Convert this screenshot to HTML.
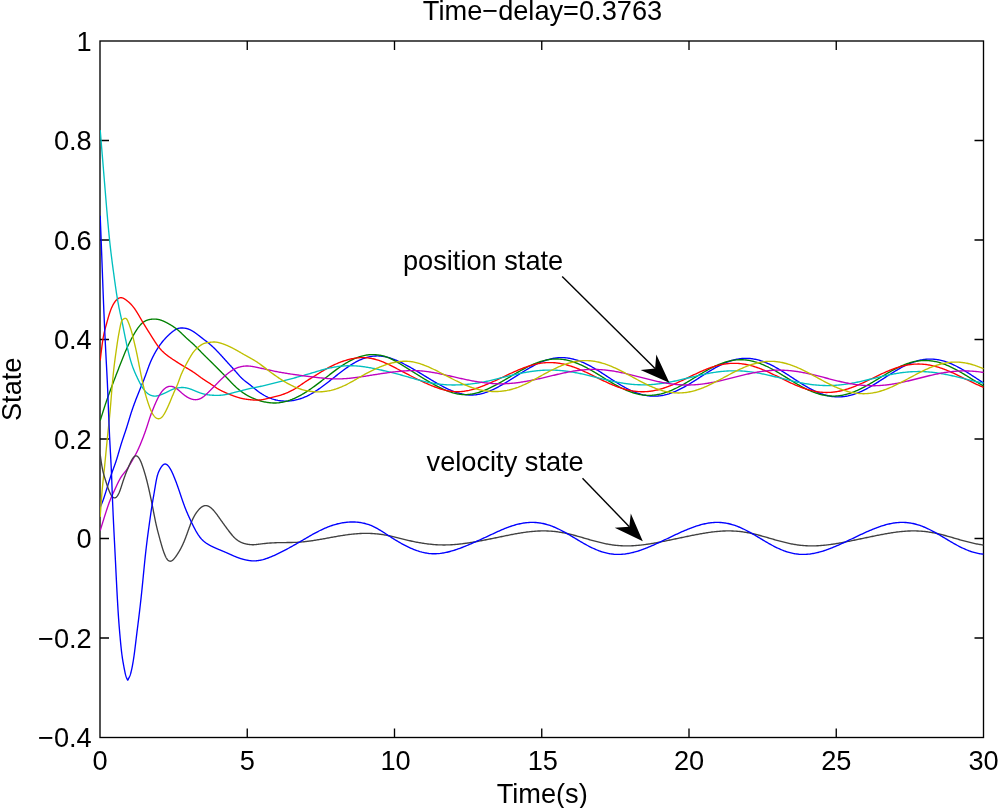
<!DOCTYPE html>
<html><head><meta charset="utf-8"><title>Time-delay=0.3763</title>
<style>
html,body{margin:0;padding:0;background:#fff;}
body{width:998px;height:808px;overflow:hidden;}
svg{display:block;will-change:transform;}
text{font-family:"Liberation Sans",sans-serif;font-size:27.2px;fill:#000;}
.c{fill:none;stroke-width:1.35;stroke-linejoin:round;stroke-linecap:butt;}
.ax{stroke:#000;stroke-width:1.35;fill:none;}
</style></head><body>
<svg width="998" height="808" viewBox="0 0 998 808">
<rect x="0" y="0" width="998" height="808" fill="#fff"/>
<rect class="ax" x="100.00" y="41.00" width="883.50" height="696.50"/>
<path class="ax" d="M247.25 737.50v-9.0M247.25 41.00v9.0M394.50 737.50v-9.0M394.50 41.00v9.0M541.75 737.50v-9.0M541.75 41.00v9.0M689.00 737.50v-9.0M689.00 41.00v9.0M836.25 737.50v-9.0M836.25 41.00v9.0M100.00 140.50h9.0M983.50 140.50h-9.0M100.00 240.00h9.0M983.50 240.00h-9.0M100.00 339.50h9.0M983.50 339.50h-9.0M100.00 439.00h9.0M983.50 439.00h-9.0M100.00 538.50h9.0M983.50 538.50h-9.0M100.00 638.00h9.0M983.50 638.00h-9.0"/>
<clipPath id="cp"><rect x="100.0" y="41.0" width="884.2" height="696.5"/></clipPath>
<g clip-path="url(#cp)">
<path class="c" stroke="#0000ff" d="M100.20 507.00L100.40 506.59L100.60 506.17L100.80 505.76L101.00 505.33L101.20 504.90L101.40 504.46L101.60 504.00L101.80 503.53L102.00 503.05L102.20 502.55L102.40 502.04L102.60 501.52L102.80 500.99L103.00 500.45L103.20 499.89L103.40 499.33L103.60 498.75L103.80 498.17L104.00 497.58L104.20 496.99L104.40 496.38L104.60 495.77L104.80 495.15L105.00 494.53L105.20 493.90L105.40 493.27L105.60 492.64L105.80 492.00L106.00 491.36L106.20 490.72L106.40 490.07L106.60 489.43L106.80 488.78L107.00 488.13L107.20 487.48L107.40 486.83L107.60 486.19L107.80 485.54L108.00 484.89L108.20 484.24L108.40 483.60L108.60 482.95L108.80 482.31L109.00 481.67L109.20 481.03L109.40 480.40L109.60 479.77L109.80 479.14L110.00 478.52L110.20 477.90L110.40 477.28L110.60 476.67L110.80 476.07L111.00 475.47L111.20 474.87L111.40 474.28L111.60 473.70L111.80 473.12L112.00 472.55L112.20 471.99L112.40 471.43L112.60 470.87L112.80 470.32L113.00 469.77L113.20 469.22L113.40 468.67L113.60 468.13L113.80 467.58L114.00 467.03L114.20 466.48L114.40 465.92L114.60 465.37L114.80 464.81L115.00 464.24L115.20 463.67L115.40 463.10L115.60 462.51L115.80 461.92L116.00 461.32L116.20 460.72L116.40 460.10L116.60 459.47L116.80 458.84L117.00 458.19L117.20 457.54L117.40 456.88L117.60 456.21L117.80 455.54L118.00 454.86L118.20 454.18L118.40 453.50L118.60 452.81L118.80 452.12L119.00 451.44L119.20 450.75L119.40 450.06L119.60 449.37L119.80 448.68L120.00 448.00L120.20 447.32L120.40 446.64L120.60 445.97L120.80 445.31L121.00 444.65L121.20 444.00L121.40 443.36L121.60 442.72L121.80 442.09L122.00 441.47L122.20 440.86L122.40 440.25L122.60 439.64L122.80 439.04L123.00 438.44L123.20 437.85L123.40 437.26L123.60 436.67L123.80 436.08L124.00 435.49L124.20 434.90L124.40 434.32L124.60 433.73L124.80 433.14L125.00 432.55L125.20 431.95L125.40 431.36L125.60 430.76L125.80 430.15L126.00 429.55L126.20 428.93L126.40 428.31L126.60 427.69L126.80 427.05L127.00 426.42L127.20 425.77L127.40 425.13L127.60 424.48L127.80 423.82L128.00 423.16L128.20 422.51L128.40 421.84L128.60 421.18L128.80 420.52L129.00 419.86L129.20 419.20L129.40 418.54L129.60 417.88L129.80 417.23L130.00 416.58L130.20 415.93L130.40 415.29L130.60 414.65L130.80 414.01L131.00 413.39L131.20 412.77L131.40 412.15L131.60 411.55L131.80 410.94L132.00 410.35L132.20 409.76L132.40 409.17L132.60 408.59L132.80 408.01L133.00 407.44L133.20 406.88L133.40 406.31L133.60 405.76L133.80 405.20L134.00 404.65L134.20 404.10L134.40 403.56L134.60 403.02L134.80 402.48L135.00 401.95L135.20 401.42L135.40 400.89L135.60 400.36L135.80 399.84L136.00 399.32L136.20 398.79L136.40 398.28L136.60 397.76L136.80 397.24L137.00 396.73L137.20 396.22L137.40 395.71L137.60 395.20L137.80 394.70L138.00 394.19L138.20 393.69L138.40 393.19L138.60 392.69L138.80 392.19L139.00 391.69L139.20 391.19L139.40 390.70L139.60 390.21L139.80 389.71L140.00 389.22L140.20 388.73L140.40 388.24L140.60 387.76L140.80 387.27L141.00 386.78L141.20 386.30L141.40 385.81L141.60 385.33L141.80 384.84L142.00 384.35L142.20 383.87L142.40 383.38L142.60 382.89L142.80 382.40L143.00 381.90L143.20 381.41L143.40 380.91L143.60 380.41L143.80 379.90L144.00 379.39L144.20 378.88L144.40 378.37L144.60 377.85L144.80 377.33L145.00 376.80L145.20 376.27L145.40 375.73L145.60 375.19L145.80 374.64L146.00 374.09L146.20 373.54L146.40 372.98L146.60 372.43L146.80 371.87L147.00 371.31L147.20 370.75L147.40 370.19L147.60 369.63L147.80 369.08L148.00 368.52L148.20 367.97L148.40 367.43L148.60 366.88L148.80 366.35L149.00 365.81L149.20 365.29L149.40 364.77L149.60 364.25L149.80 363.75L150.00 363.25L150.20 362.76L150.40 362.28L150.60 361.81L150.80 361.34L151.00 360.88L151.20 360.43L151.40 359.98L151.60 359.54L151.80 359.11L152.00 358.68L152.20 358.26L152.40 357.84L152.60 357.43L152.80 357.02L153.00 356.62L153.20 356.23L153.40 355.84L153.60 355.45L153.80 355.07L154.00 354.69L154.20 354.31L154.40 353.94L154.60 353.57L154.80 353.21L155.00 352.85L155.20 352.49L155.40 352.14L155.60 351.79L155.80 351.44L156.00 351.10L156.20 350.76L156.40 350.43L156.60 350.09L156.80 349.76L157.00 349.44L157.20 349.11L157.40 348.80L157.60 348.48L157.80 348.17L158.00 347.86L158.20 347.55L158.40 347.25L158.60 346.95L158.80 346.65L159.00 346.35L159.20 346.06L159.40 345.77L159.60 345.49L159.80 345.20L160.00 344.92L160.20 344.65L160.40 344.37L160.60 344.10L160.80 343.83L161.00 343.57L161.20 343.30L161.40 343.04L161.60 342.78L161.80 342.53L162.00 342.27L162.20 342.02L162.40 341.77L162.60 341.53L162.80 341.28L163.00 341.04L163.20 340.80L163.40 340.57L163.60 340.33L163.80 340.10L164.00 339.87L164.20 339.64L164.40 339.41L164.60 339.19L164.80 338.97L165.00 338.74L165.20 338.53L165.40 338.31L165.60 338.09L165.80 337.88L166.00 337.67L166.20 337.46L166.40 337.25L166.60 337.05L166.80 336.84L167.00 336.64L167.20 336.44L167.40 336.24L167.60 336.04L167.80 335.85L168.00 335.65L168.20 335.46L168.40 335.27L168.60 335.08L168.80 334.89L169.00 334.70L169.20 334.52L169.40 334.33L169.60 334.15L169.80 333.97L170.00 333.79L170.20 333.61L170.40 333.43L170.60 333.26L170.80 333.08L171.00 332.91L171.20 332.74L171.40 332.57L171.60 332.40L171.80 332.24L172.00 332.07L172.20 331.91L172.40 331.75L172.60 331.60L172.80 331.44L173.00 331.29L173.20 331.14L173.40 330.99L173.60 330.85L173.80 330.70L174.00 330.57L174.20 330.43L174.40 330.30L174.60 330.17L174.80 330.04L175.00 329.91L175.20 329.79L175.40 329.68L175.60 329.56L175.80 329.45L176.00 329.35L176.20 329.24L176.40 329.15L176.60 329.05L176.80 328.96L177.00 328.87L177.20 328.79L177.40 328.71L177.60 328.64L177.80 328.57L178.00 328.50L178.20 328.44L178.40 328.38L178.60 328.33L178.80 328.28L179.00 328.24L179.20 328.20L179.40 328.16L179.60 328.13L179.80 328.10L180.00 328.07L180.20 328.05L180.40 328.03L180.60 328.01L180.80 328.00L181.00 327.99L181.20 327.98L181.40 327.98L181.60 327.97L181.80 327.97L182.00 327.97L182.20 327.98L182.40 327.98L182.60 327.99L182.80 328.00L183.00 328.01L183.20 328.02L183.40 328.04L183.60 328.05L183.80 328.07L184.00 328.09L184.20 328.11L184.40 328.13L184.60 328.16L184.80 328.18L185.00 328.21L185.20 328.24L185.40 328.28L185.60 328.31L185.80 328.35L186.00 328.39L186.20 328.43L186.40 328.48L186.60 328.52L186.80 328.57L187.00 328.63L187.20 328.68L187.40 328.74L187.60 328.80L187.80 328.86L188.00 328.93L188.20 329.00L188.40 329.07L188.60 329.14L188.80 329.22L189.00 329.30L189.20 329.38L189.40 329.47L189.60 329.55L189.80 329.64L190.00 329.73L190.20 329.83L190.40 329.92L190.60 330.02L190.80 330.12L191.00 330.22L191.20 330.33L191.40 330.44L191.60 330.54L191.80 330.66L192.00 330.77L192.20 330.88L192.40 331.00L192.60 331.12L192.80 331.24L193.00 331.36L193.20 331.49L193.40 331.61L193.60 331.74L193.80 331.87L194.00 332.00L194.20 332.13L194.40 332.27L194.60 332.40L194.80 332.54L195.00 332.68L195.20 332.82L195.40 332.96L195.60 333.10L195.80 333.24L196.00 333.39L196.20 333.53L196.40 333.68L196.60 333.83L196.80 333.97L197.00 334.12L197.20 334.27L197.40 334.42L197.60 334.58L197.80 334.73L198.00 334.88L198.20 335.04L198.40 335.19L198.60 335.34L198.80 335.50L199.00 335.65L199.20 335.81L199.40 335.97L199.60 336.12L199.80 336.28L200.00 336.44L200.20 336.59L200.40 336.75L200.60 336.91L200.80 337.06L201.00 337.22L201.20 337.38L201.40 337.53L201.60 337.69L201.80 337.84L202.00 338.00L202.20 338.16L202.40 338.31L202.60 338.46L202.80 338.62L203.00 338.77L203.20 338.93L203.40 339.08L203.60 339.23L203.80 339.39L204.00 339.54L204.20 339.69L204.40 339.85L204.60 340.00L204.80 340.15L205.00 340.31L205.20 340.46L205.40 340.62L205.60 340.77L205.80 340.93L206.00 341.08L206.20 341.24L206.40 341.39L206.60 341.55L206.80 341.71L207.00 341.86L207.20 342.02L207.40 342.18L207.60 342.34L207.80 342.50L208.00 342.66L208.20 342.82L208.40 342.98L208.60 343.15L208.80 343.31L209.00 343.47L209.20 343.64L209.40 343.81L209.60 343.98L209.80 344.14L210.00 344.31L210.20 344.49L210.40 344.66L210.60 344.83L210.80 345.01L211.00 345.18L211.20 345.36L211.40 345.54L211.60 345.72L211.80 345.90L212.00 346.08L212.20 346.26L212.40 346.44L212.60 346.63L212.80 346.82L213.00 347.00L213.20 347.19L213.40 347.38L213.60 347.57L213.80 347.76L214.00 347.95L214.20 348.15L214.40 348.34L214.60 348.53L214.80 348.73L215.00 348.93L215.20 349.13L215.40 349.32L215.60 349.52L215.80 349.73L216.00 349.93L216.20 350.13L216.40 350.33L216.60 350.54L216.80 350.74L217.00 350.95L217.20 351.16L217.40 351.36L217.60 351.57L217.80 351.78L218.00 351.99L218.20 352.21L218.40 352.42L218.60 352.63L218.80 352.85L219.00 353.06L219.20 353.28L219.40 353.49L219.60 353.71L219.80 353.92L220.00 354.14L220.20 354.36L220.40 354.58L220.60 354.80L220.80 355.02L221.00 355.24L221.20 355.46L221.40 355.68L221.60 355.90L221.80 356.12L222.00 356.35L222.20 356.57L222.40 356.79L222.60 357.01L222.80 357.23L223.00 357.46L223.20 357.68L223.40 357.90L223.60 358.13L223.80 358.35L224.00 358.57L224.20 358.79L224.40 359.02L224.60 359.24L224.80 359.46L225.00 359.68L225.20 359.91L225.40 360.13L225.60 360.35L225.80 360.57L226.00 360.79L226.20 361.01L226.40 361.23L226.60 361.45L226.80 361.67L227.00 361.89L227.20 362.11L227.40 362.32L227.60 362.54L227.80 362.76L228.00 362.98L228.20 363.20L228.40 363.41L228.60 363.63L228.80 363.85L229.00 364.07L229.20 364.28L229.40 364.50L229.60 364.72L229.80 364.94L230.00 365.15L230.20 365.37L230.40 365.59L230.60 365.81L230.80 366.03L231.00 366.25L231.20 366.47L231.40 366.68L231.60 366.90L231.80 367.13L232.00 367.35L232.20 367.57L232.40 367.79L232.60 368.01L232.80 368.23L233.00 368.46L233.20 368.68L233.40 368.91L233.60 369.13L233.80 369.36L234.00 369.59L234.20 369.81L234.40 370.04L234.60 370.27L234.80 370.50L235.00 370.73L235.20 370.96L235.40 371.19L235.60 371.42L235.80 371.66L236.00 371.89L236.20 372.12L236.40 372.35L236.60 372.58L236.80 372.81L237.00 373.04L237.20 373.27L237.40 373.50L237.60 373.73L237.80 373.95L238.00 374.18L238.20 374.41L238.40 374.63L238.60 374.86L238.80 375.08L239.00 375.30L239.20 375.52L239.40 375.74L239.60 375.95L239.80 376.17L240.00 376.38L240.20 376.60L240.40 376.81L240.60 377.01L240.80 377.22L241.00 377.42L241.20 377.62L241.40 377.82L241.60 378.02L241.80 378.21L242.00 378.41L242.20 378.59L242.40 378.78L242.60 378.96L242.80 379.15L243.00 379.32L243.20 379.50L243.40 379.67L243.60 379.85L243.80 380.02L244.00 380.18L244.20 380.35L244.40 380.52L244.60 380.68L244.80 380.84L245.00 381.00L245.20 381.16L245.40 381.32L245.60 381.47L245.80 381.63L246.00 381.78L246.20 381.94L246.40 382.09L246.60 382.24L246.80 382.39L247.00 382.54L247.20 382.70L247.40 382.85L247.60 383.00L247.80 383.15L248.00 383.30L248.20 383.45L248.40 383.60L248.60 383.75L248.80 383.90L249.00 384.05L249.20 384.20L249.40 384.36L249.60 384.51L249.80 384.67L250.00 384.82L250.20 384.98L250.40 385.14L250.60 385.30L250.80 385.46L251.00 385.62L251.20 385.78L251.40 385.94L251.60 386.10L251.80 386.27L252.00 386.43L252.20 386.60L252.40 386.76L252.60 386.93L252.80 387.09L253.00 387.26L253.20 387.43L253.40 387.59L253.60 387.76L253.80 387.92L254.00 388.09L254.20 388.26L254.40 388.42L254.60 388.59L254.80 388.75L255.00 388.92L255.20 389.08L255.40 389.25L255.60 389.41L255.80 389.57L256.00 389.74L256.20 389.90L256.40 390.06L256.60 390.22L256.80 390.37L257.00 390.53L257.20 390.69L257.40 390.84L257.60 391.00L257.80 391.15L258.00 391.30L258.20 391.45L258.40 391.60L258.60 391.74L258.80 391.89L259.00 392.03L259.20 392.18L259.40 392.32L259.60 392.46L259.80 392.60L260.00 392.73L261.00 393.40L262.00 394.04L263.00 394.64L264.00 395.22L265.00 395.77L266.00 396.29L267.00 396.78L268.00 397.25L269.00 397.68L270.00 398.09L271.00 398.47L272.00 398.83L273.00 399.16L274.00 399.46L275.00 399.73L276.00 399.98L277.00 400.20L278.00 400.40L279.00 400.57L280.00 400.72L281.00 400.85L282.00 400.95L283.00 401.02L284.00 401.07L285.00 401.10L286.00 401.11L287.00 401.09L288.00 401.05L289.00 400.99L290.00 400.91L291.00 400.80L292.00 400.67L293.00 400.52L294.00 400.35L295.00 400.15L296.00 399.93L297.00 399.69L298.00 399.43L299.00 399.14L300.00 398.83L301.00 398.50L302.00 398.15L303.00 397.77L304.00 397.37L305.00 396.95L306.00 396.51L307.00 396.05L308.00 395.56L309.00 395.05L310.00 394.52L311.00 393.97L312.00 393.40L313.00 392.80L314.00 392.19L315.00 391.56L316.00 390.92L317.00 390.26L318.00 389.58L319.00 388.89L320.00 388.19L321.00 387.47L322.00 386.74L323.00 386.00L324.00 385.26L325.00 384.50L326.00 383.74L327.00 382.97L328.00 382.19L329.00 381.41L330.00 380.63L331.00 379.84L332.00 379.05L333.00 378.26L334.00 377.47L335.00 376.68L336.00 375.89L337.00 375.10L338.00 374.32L339.00 373.54L340.00 372.77L341.00 372.00L342.00 371.24L343.00 370.49L344.00 369.75L345.00 369.02L346.00 368.30L347.00 367.59L348.00 366.89L349.00 366.21L350.00 365.55L351.00 364.90L352.00 364.27L353.00 363.66L354.00 363.06L355.00 362.49L356.00 361.93L357.00 361.40L358.00 360.90L359.00 360.41L360.00 359.95L361.00 359.51L362.00 359.10L363.00 358.71L364.00 358.34L365.00 358.00L366.00 357.69L367.00 357.40L368.00 357.13L369.00 356.89L370.00 356.68L371.00 356.49L372.00 356.33L373.00 356.20L374.00 356.09L375.00 356.01L376.00 355.96L377.00 355.93L378.00 355.93L379.00 355.96L380.00 356.02L381.00 356.11L382.00 356.22L383.00 356.36L384.00 356.52L385.00 356.71L386.00 356.93L387.00 357.16L388.00 357.42L389.00 357.70L390.00 358.01L391.00 358.33L392.00 358.67L393.00 359.03L394.00 359.41L395.00 359.80L396.00 360.21L397.00 360.64L398.00 361.08L399.00 361.53L400.00 362.00L401.00 362.48L402.00 362.97L403.00 363.47L404.00 363.98L405.00 364.50L406.00 365.03L407.00 365.56L408.00 366.11L409.00 366.66L410.00 367.21L411.00 367.78L412.00 368.34L413.00 368.92L414.00 369.50L415.00 370.08L416.00 370.67L417.00 371.26L418.00 371.85L419.00 372.45L420.00 373.05L421.00 373.66L422.00 374.26L423.00 374.87L424.00 375.48L425.00 376.08L426.00 376.69L427.00 377.30L428.00 377.91L429.00 378.51L430.00 379.12L431.00 379.72L432.00 380.32L433.00 380.92L434.00 381.51L435.00 382.10L436.00 382.68L437.00 383.26L438.00 383.83L439.00 384.39L440.00 384.94L441.00 385.49L442.00 386.03L443.00 386.56L444.00 387.07L445.00 387.58L446.00 388.08L447.00 388.56L448.00 389.03L449.00 389.49L450.00 389.93L451.00 390.36L452.00 390.78L453.00 391.18L454.00 391.56L455.00 391.93L456.00 392.28L457.00 392.62L458.00 392.93L459.00 393.23L460.00 393.51L461.00 393.76L462.00 394.00L463.00 394.21L464.00 394.40L465.00 394.57L466.00 394.71L467.00 394.83L468.00 394.93L469.00 394.99L470.00 395.04L471.00 395.05L472.00 395.04L473.00 395.01L474.00 394.95L475.00 394.86L476.00 394.75L477.00 394.61L478.00 394.45L479.00 394.27L480.00 394.07L481.00 393.84L482.00 393.59L483.00 393.32L484.00 393.03L485.00 392.72L486.00 392.38L487.00 392.03L488.00 391.66L489.00 391.27L490.00 390.87L491.00 390.44L492.00 390.00L493.00 389.54L494.00 389.07L495.00 388.58L496.00 388.08L497.00 387.56L498.00 387.03L499.00 386.49L500.00 385.94L501.00 385.38L502.00 384.81L503.00 384.24L504.00 383.65L505.00 383.06L506.00 382.46L507.00 381.85L508.00 381.24L509.00 380.63L510.00 380.01L511.00 379.38L512.00 378.76L513.00 378.13L514.00 377.50L515.00 376.87L516.00 376.24L517.00 375.61L518.00 374.98L519.00 374.35L520.00 373.72L521.00 373.10L522.00 372.48L523.00 371.86L524.00 371.25L525.00 370.64L526.00 370.04L527.00 369.45L528.00 368.86L529.00 368.28L530.00 367.70L531.00 367.14L532.00 366.58L533.00 366.04L534.00 365.50L535.00 364.98L536.00 364.47L537.00 363.98L538.00 363.49L539.00 363.03L540.00 362.58L541.00 362.14L542.00 361.73L543.00 361.33L544.00 360.95L545.00 360.59L546.00 360.25L547.00 359.93L548.00 359.63L549.00 359.35L550.00 359.08L551.00 358.84L552.00 358.62L553.00 358.43L554.00 358.25L555.00 358.09L556.00 357.96L557.00 357.84L558.00 357.75L559.00 357.68L560.00 357.64L561.00 357.61L562.00 357.61L563.00 357.63L564.00 357.67L565.00 357.73L566.00 357.82L567.00 357.93L568.00 358.06L569.00 358.21L570.00 358.38L571.00 358.58L572.00 358.79L573.00 359.03L574.00 359.28L575.00 359.56L576.00 359.86L577.00 360.18L578.00 360.51L579.00 360.87L580.00 361.24L581.00 361.63L582.00 362.04L583.00 362.47L584.00 362.91L585.00 363.37L586.00 363.84L587.00 364.33L588.00 364.84L589.00 365.36L590.00 365.89L591.00 366.43L592.00 366.99L593.00 367.56L594.00 368.13L595.00 368.72L596.00 369.32L597.00 369.93L598.00 370.54L599.00 371.16L600.00 371.79L601.00 372.43L602.00 373.07L603.00 373.71L604.00 374.36L605.00 375.01L606.00 375.66L607.00 376.32L608.00 376.97L609.00 377.63L610.00 378.28L611.00 378.94L612.00 379.59L613.00 380.23L614.00 380.88L615.00 381.51L616.00 382.15L617.00 382.77L618.00 383.39L619.00 384.01L620.00 384.61L621.00 385.21L622.00 385.79L623.00 386.37L624.00 386.94L625.00 387.49L626.00 388.03L627.00 388.56L628.00 389.07L629.00 389.57L630.00 390.06L631.00 390.53L632.00 390.99L633.00 391.42L634.00 391.85L635.00 392.25L636.00 392.64L637.00 393.01L638.00 393.36L639.00 393.69L640.00 394.00L641.00 394.29L642.00 394.56L643.00 394.82L644.00 395.05L645.00 395.26L646.00 395.45L647.00 395.61L648.00 395.76L649.00 395.88L650.00 395.99L651.00 396.07L652.00 396.13L653.00 396.16L654.00 396.18L655.00 396.17L656.00 396.14L657.00 396.08L658.00 396.01L659.00 395.91L660.00 395.80L661.00 395.65L662.00 395.49L663.00 395.31L664.00 395.11L665.00 394.88L666.00 394.63L667.00 394.37L668.00 394.08L669.00 393.78L670.00 393.45L671.00 393.11L672.00 392.74L673.00 392.36L674.00 391.96L675.00 391.55L676.00 391.12L677.00 390.67L678.00 390.20L679.00 389.72L680.00 389.23L681.00 388.72L682.00 388.20L683.00 387.67L684.00 387.12L685.00 386.56L686.00 385.99L687.00 385.41L688.00 384.82L689.00 384.23L690.00 383.62L691.00 383.01L692.00 382.39L693.00 381.76L694.00 381.13L695.00 380.50L696.00 379.86L697.00 379.21L698.00 378.57L699.00 377.92L700.00 377.28L701.00 376.63L702.00 375.98L703.00 375.34L704.00 374.70L705.00 374.06L706.00 373.42L707.00 372.79L708.00 372.16L709.00 371.54L710.00 370.93L711.00 370.32L712.00 369.73L713.00 369.14L714.00 368.56L715.00 367.99L716.00 367.43L717.00 366.88L718.00 366.35L719.00 365.82L720.00 365.32L721.00 364.82L722.00 364.34L723.00 363.88L724.00 363.43L725.00 362.99L726.00 362.58L727.00 362.18L728.00 361.79L729.00 361.43L730.00 361.09L731.00 360.76L732.00 360.45L733.00 360.17L734.00 359.90L735.00 359.65L736.00 359.43L737.00 359.22L738.00 359.04L739.00 358.87L740.00 358.73L741.00 358.61L742.00 358.51L743.00 358.44L744.00 358.38L745.00 358.35L746.00 358.34L747.00 358.36L748.00 358.39L749.00 358.45L750.00 358.53L751.00 358.63L752.00 358.75L753.00 358.90L754.00 359.06L755.00 359.25L756.00 359.46L757.00 359.69L758.00 359.94L759.00 360.21L760.00 360.50L761.00 360.82L762.00 361.15L763.00 361.50L764.00 361.86L765.00 362.25L766.00 362.65L767.00 363.07L768.00 363.51L769.00 363.97L770.00 364.44L771.00 364.92L772.00 365.42L773.00 365.94L774.00 366.46L775.00 367.00L776.00 367.56L777.00 368.12L778.00 368.70L779.00 369.28L780.00 369.88L781.00 370.48L782.00 371.09L783.00 371.71L784.00 372.34L785.00 372.97L786.00 373.61L787.00 374.26L788.00 374.90L789.00 375.55L790.00 376.21L791.00 376.86L792.00 377.51L793.00 378.17L794.00 378.82L795.00 379.48L796.00 380.13L797.00 380.78L798.00 381.42L799.00 382.06L800.00 382.70L801.00 383.32L802.00 383.95L803.00 384.56L804.00 385.17L805.00 385.77L806.00 386.36L807.00 386.94L808.00 387.50L809.00 388.06L810.00 388.61L811.00 389.14L812.00 389.66L813.00 390.16L814.00 390.65L815.00 391.13L816.00 391.59L817.00 392.03L818.00 392.46L819.00 392.87L820.00 393.26L821.00 393.64L822.00 393.99L823.00 394.33L824.00 394.65L825.00 394.94L826.00 395.22L827.00 395.48L828.00 395.72L829.00 395.93L830.00 396.13L831.00 396.30L832.00 396.46L833.00 396.59L834.00 396.70L835.00 396.78L836.00 396.85L837.00 396.89L838.00 396.91L839.00 396.91L840.00 396.89L841.00 396.84L842.00 396.77L843.00 396.68L844.00 396.57L845.00 396.44L846.00 396.28L847.00 396.10L848.00 395.91L849.00 395.69L850.00 395.45L851.00 395.19L852.00 394.91L853.00 394.61L854.00 394.29L855.00 393.95L856.00 393.59L857.00 393.22L858.00 392.82L859.00 392.41L860.00 391.99L861.00 391.54L862.00 391.08L863.00 390.61L864.00 390.12L865.00 389.61L866.00 389.10L867.00 388.56L868.00 388.02L869.00 387.47L870.00 386.90L871.00 386.33L872.00 385.74L873.00 385.14L874.00 384.54L875.00 383.93L876.00 383.31L877.00 382.69L878.00 382.06L879.00 381.42L880.00 380.79L881.00 380.14L882.00 379.50L883.00 378.85L884.00 378.21L885.00 377.56L886.00 376.91L887.00 376.27L888.00 375.63L889.00 374.98L890.00 374.35L891.00 373.71L892.00 373.09L893.00 372.47L894.00 371.85L895.00 371.24L896.00 370.64L897.00 370.05L898.00 369.47L899.00 368.89L900.00 368.33L901.00 367.78L902.00 367.24L903.00 366.72L904.00 366.20L905.00 365.70L906.00 365.22L907.00 364.75L908.00 364.30L909.00 363.86L910.00 363.44L911.00 363.03L912.00 362.64L913.00 362.28L914.00 361.92L915.00 361.59L916.00 361.28L917.00 360.99L918.00 360.71L919.00 360.46L920.00 360.23L921.00 360.02L922.00 359.83L923.00 359.66L924.00 359.51L925.00 359.38L926.00 359.28L927.00 359.20L928.00 359.14L929.00 359.10L930.00 359.08L931.00 359.09L932.00 359.12L933.00 359.17L934.00 359.24L935.00 359.33L936.00 359.45L937.00 359.59L938.00 359.75L939.00 359.93L940.00 360.13L941.00 360.36L942.00 360.60L943.00 360.87L944.00 361.15L945.00 361.46L946.00 361.78L947.00 362.13L948.00 362.49L949.00 362.87L950.00 363.27L951.00 363.68L952.00 364.12L953.00 364.57L954.00 365.03L955.00 365.51L956.00 366.01L957.00 366.52L958.00 367.04L959.00 367.58L960.00 368.13L961.00 368.69L962.00 369.26L963.00 369.84L964.00 370.44L965.00 371.04L966.00 371.65L967.00 372.26L968.00 372.89L969.00 373.52L970.00 374.16L971.00 374.80L972.00 375.45L973.00 376.09L974.00 376.75L975.00 377.40L976.00 378.05L977.00 378.71L978.00 379.36L979.00 380.02L980.00 380.67L981.00 381.32L982.00 381.96L983.00 382.61L983.50 382.92"/>
<path class="c" stroke="#008000" d="M100.20 420.60L100.40 419.96L100.60 419.32L100.80 418.68L101.00 418.04L101.20 417.40L101.40 416.76L101.60 416.12L101.80 415.49L102.00 414.85L102.20 414.22L102.40 413.58L102.60 412.95L102.80 412.32L103.00 411.69L103.20 411.06L103.40 410.43L103.60 409.81L103.80 409.19L104.00 408.57L104.20 407.95L104.40 407.33L104.60 406.72L104.80 406.11L105.00 405.50L105.20 404.89L105.40 404.29L105.60 403.69L105.80 403.09L106.00 402.50L106.20 401.91L106.40 401.32L106.60 400.74L106.80 400.16L107.00 399.58L107.20 399.01L107.40 398.43L107.60 397.86L107.80 397.30L108.00 396.73L108.20 396.17L108.40 395.61L108.60 395.06L108.80 394.50L109.00 393.95L109.20 393.40L109.40 392.85L109.60 392.30L109.80 391.76L110.00 391.22L110.20 390.67L110.40 390.13L110.60 389.60L110.80 389.06L111.00 388.52L111.20 387.99L111.40 387.45L111.60 386.92L111.80 386.39L112.00 385.86L112.20 385.33L112.40 384.80L112.60 384.27L112.80 383.74L113.00 383.21L113.20 382.69L113.40 382.16L113.60 381.63L113.80 381.11L114.00 380.58L114.20 380.06L114.40 379.54L114.60 379.01L114.80 378.49L115.00 377.97L115.20 377.44L115.40 376.92L115.60 376.40L115.80 375.88L116.00 375.36L116.20 374.84L116.40 374.32L116.60 373.80L116.80 373.28L117.00 372.76L117.20 372.24L117.40 371.73L117.60 371.21L117.80 370.69L118.00 370.18L118.20 369.66L118.40 369.14L118.60 368.63L118.80 368.11L119.00 367.60L119.20 367.08L119.40 366.57L119.60 366.05L119.80 365.54L120.00 365.03L120.20 364.51L120.40 364.00L120.60 363.49L120.80 362.97L121.00 362.46L121.20 361.95L121.40 361.44L121.60 360.93L121.80 360.42L122.00 359.91L122.20 359.41L122.40 358.90L122.60 358.40L122.80 357.89L123.00 357.39L123.20 356.89L123.40 356.39L123.60 355.90L123.80 355.40L124.00 354.91L124.20 354.42L124.40 353.94L124.60 353.45L124.80 352.97L125.00 352.49L125.20 352.02L125.40 351.54L125.60 351.07L125.80 350.61L126.00 350.14L126.20 349.68L126.40 349.23L126.60 348.77L126.80 348.32L127.00 347.88L127.20 347.44L127.40 347.00L127.60 346.57L127.80 346.13L128.00 345.71L128.20 345.29L128.40 344.87L128.60 344.45L128.80 344.04L129.00 343.63L129.20 343.22L129.40 342.82L129.60 342.42L129.80 342.02L130.00 341.62L130.20 341.23L130.40 340.84L130.60 340.46L130.80 340.07L131.00 339.69L131.20 339.31L131.40 338.94L131.60 338.56L131.80 338.19L132.00 337.82L132.20 337.45L132.40 337.08L132.60 336.72L132.80 336.36L133.00 335.99L133.20 335.64L133.40 335.28L133.60 334.92L133.80 334.57L134.00 334.22L134.20 333.88L134.40 333.53L134.60 333.19L134.80 332.85L135.00 332.52L135.20 332.18L135.40 331.85L135.60 331.53L135.80 331.21L136.00 330.89L136.20 330.57L136.40 330.26L136.60 329.95L136.80 329.64L137.00 329.34L137.20 329.05L137.40 328.75L137.60 328.47L137.80 328.18L138.00 327.90L138.20 327.63L138.40 327.36L138.60 327.09L138.80 326.83L139.00 326.57L139.20 326.32L139.40 326.07L139.60 325.82L139.80 325.59L140.00 325.35L140.20 325.12L140.40 324.90L140.60 324.68L140.80 324.47L141.00 324.26L141.20 324.05L141.40 323.85L141.60 323.66L141.80 323.47L142.00 323.29L142.20 323.11L142.40 322.94L142.60 322.77L142.80 322.61L143.00 322.46L143.20 322.30L143.40 322.16L143.60 322.02L143.80 321.88L144.00 321.75L144.20 321.62L144.40 321.49L144.60 321.37L144.80 321.26L145.00 321.15L145.20 321.04L145.40 320.94L145.60 320.84L145.80 320.74L146.00 320.65L146.20 320.56L146.40 320.48L146.60 320.39L146.80 320.32L147.00 320.24L147.20 320.17L147.40 320.10L147.60 320.03L147.80 319.97L148.00 319.91L148.20 319.85L148.40 319.79L148.60 319.74L148.80 319.69L149.00 319.64L149.20 319.59L149.40 319.55L149.60 319.51L149.80 319.47L150.00 319.43L150.20 319.40L150.40 319.36L150.60 319.33L150.80 319.30L151.00 319.28L151.20 319.25L151.40 319.23L151.60 319.21L151.80 319.19L152.00 319.17L152.20 319.16L152.40 319.14L152.60 319.13L152.80 319.12L153.00 319.11L153.20 319.10L153.40 319.10L153.60 319.09L153.80 319.09L154.00 319.09L154.20 319.09L154.40 319.09L154.60 319.09L154.80 319.10L155.00 319.10L155.20 319.11L155.40 319.12L155.60 319.13L155.80 319.15L156.00 319.16L156.20 319.18L156.40 319.20L156.60 319.22L156.80 319.24L157.00 319.26L157.20 319.29L157.40 319.32L157.60 319.35L157.80 319.38L158.00 319.42L158.20 319.45L158.40 319.49L158.60 319.53L158.80 319.58L159.00 319.62L159.20 319.67L159.40 319.72L159.60 319.77L159.80 319.83L160.00 319.88L160.20 319.94L160.40 320.00L160.60 320.06L160.80 320.13L161.00 320.19L161.20 320.26L161.40 320.33L161.60 320.40L161.80 320.48L162.00 320.55L162.20 320.63L162.40 320.71L162.60 320.79L162.80 320.87L163.00 320.95L163.20 321.04L163.40 321.12L163.60 321.21L163.80 321.30L164.00 321.39L164.20 321.48L164.40 321.57L164.60 321.66L164.80 321.76L165.00 321.85L165.20 321.95L165.40 322.05L165.60 322.15L165.80 322.25L166.00 322.35L166.20 322.45L166.40 322.55L166.60 322.66L166.80 322.76L167.00 322.87L167.20 322.97L167.40 323.08L167.60 323.19L167.80 323.30L168.00 323.41L168.20 323.52L168.40 323.63L168.60 323.74L168.80 323.86L169.00 323.97L169.20 324.08L169.40 324.20L169.60 324.32L169.80 324.43L170.00 324.55L170.20 324.67L170.40 324.79L170.60 324.91L170.80 325.03L171.00 325.16L171.20 325.28L171.40 325.40L171.60 325.53L171.80 325.65L172.00 325.78L172.20 325.91L172.40 326.04L172.60 326.16L172.80 326.29L173.00 326.42L173.20 326.56L173.40 326.69L173.60 326.82L173.80 326.96L174.00 327.09L174.20 327.23L174.40 327.37L174.60 327.51L174.80 327.65L175.00 327.79L175.20 327.93L175.40 328.07L175.60 328.22L175.80 328.37L176.00 328.52L176.20 328.67L176.40 328.82L176.60 328.97L176.80 329.13L177.00 329.29L177.20 329.44L177.40 329.61L177.60 329.77L177.80 329.93L178.00 330.10L178.20 330.27L178.40 330.44L178.60 330.61L178.80 330.79L179.00 330.96L179.20 331.14L179.40 331.32L179.60 331.50L179.80 331.68L180.00 331.87L180.20 332.05L180.40 332.24L180.60 332.42L180.80 332.61L181.00 332.80L181.20 332.99L181.40 333.18L181.60 333.37L181.80 333.56L182.00 333.76L182.20 333.95L182.40 334.14L182.60 334.34L182.80 334.53L183.00 334.72L183.20 334.92L183.40 335.11L183.60 335.31L183.80 335.50L184.00 335.69L184.20 335.89L184.40 336.08L184.60 336.27L184.80 336.46L185.00 336.66L185.20 336.85L185.40 337.04L185.60 337.23L185.80 337.41L186.00 337.60L186.20 337.79L186.40 337.97L186.60 338.15L186.80 338.34L187.00 338.52L187.20 338.70L187.40 338.88L187.60 339.06L187.80 339.24L188.00 339.42L188.20 339.60L188.40 339.77L188.60 339.95L188.80 340.13L189.00 340.30L189.20 340.48L189.40 340.66L189.60 340.83L189.80 341.01L190.00 341.18L190.20 341.36L190.40 341.54L190.60 341.71L190.80 341.89L191.00 342.07L191.20 342.24L191.40 342.42L191.60 342.60L191.80 342.78L192.00 342.96L192.20 343.14L192.40 343.32L192.60 343.50L192.80 343.68L193.00 343.87L193.20 344.05L193.40 344.24L193.60 344.42L193.80 344.61L194.00 344.80L194.20 344.99L194.40 345.18L194.60 345.37L194.80 345.57L195.00 345.76L195.20 345.96L195.40 346.15L195.60 346.35L195.80 346.55L196.00 346.75L196.20 346.95L196.40 347.15L196.60 347.35L196.80 347.55L197.00 347.76L197.20 347.96L197.40 348.17L197.60 348.37L197.80 348.57L198.00 348.78L198.20 348.99L198.40 349.19L198.60 349.40L198.80 349.60L199.00 349.81L199.20 350.02L199.40 350.22L199.60 350.43L199.80 350.64L200.00 350.85L200.20 351.05L200.40 351.26L200.60 351.47L200.80 351.67L201.00 351.88L201.20 352.08L201.40 352.29L201.60 352.49L201.80 352.70L202.00 352.90L202.20 353.10L202.40 353.31L202.60 353.51L202.80 353.71L203.00 353.91L203.20 354.11L203.40 354.31L203.60 354.51L203.80 354.71L204.00 354.91L204.20 355.11L204.40 355.31L204.60 355.50L204.80 355.70L205.00 355.90L205.20 356.10L205.40 356.29L205.60 356.49L205.80 356.69L206.00 356.88L206.20 357.08L206.40 357.27L206.60 357.47L206.80 357.67L207.00 357.86L207.20 358.06L207.40 358.25L207.60 358.45L207.80 358.64L208.00 358.84L208.20 359.04L208.40 359.23L208.60 359.43L208.80 359.62L209.00 359.82L209.20 360.01L209.40 360.21L209.60 360.41L209.80 360.60L210.00 360.80L210.20 361.00L210.40 361.20L210.60 361.39L210.80 361.59L211.00 361.79L211.20 361.99L211.40 362.19L211.60 362.39L211.80 362.58L212.00 362.78L212.20 362.98L212.40 363.18L212.60 363.38L212.80 363.58L213.00 363.78L213.20 363.98L213.40 364.18L213.60 364.38L213.80 364.58L214.00 364.78L214.20 364.98L214.40 365.19L214.60 365.39L214.80 365.59L215.00 365.79L215.20 365.99L215.40 366.19L215.60 366.39L215.80 366.59L216.00 366.79L216.20 366.99L216.40 367.19L216.60 367.39L216.80 367.60L217.00 367.80L217.20 368.00L217.40 368.20L217.60 368.40L217.80 368.60L218.00 368.80L218.20 369.00L218.40 369.20L218.60 369.40L218.80 369.60L219.00 369.80L219.20 370.00L219.40 370.20L219.60 370.40L219.80 370.60L220.00 370.80L220.20 371.00L220.40 371.20L220.60 371.40L220.80 371.60L221.00 371.80L221.20 372.00L221.40 372.20L221.60 372.41L221.80 372.61L222.00 372.81L222.20 373.01L222.40 373.21L222.60 373.41L222.80 373.62L223.00 373.82L223.20 374.02L223.40 374.22L223.60 374.43L223.80 374.63L224.00 374.83L224.20 375.04L224.40 375.24L224.60 375.45L224.80 375.65L225.00 375.86L225.20 376.07L225.40 376.27L225.60 376.48L225.80 376.69L226.00 376.90L226.20 377.10L226.40 377.31L226.60 377.52L226.80 377.73L227.00 377.94L227.20 378.15L227.40 378.37L227.60 378.58L227.80 378.79L228.00 379.00L228.20 379.21L228.40 379.42L228.60 379.63L228.80 379.85L229.00 380.06L229.20 380.27L229.40 380.48L229.60 380.69L229.80 380.90L230.00 381.11L230.20 381.32L230.40 381.53L230.60 381.74L230.80 381.95L231.00 382.16L231.20 382.37L231.40 382.58L231.60 382.78L231.80 382.99L232.00 383.20L232.20 383.40L232.40 383.60L232.60 383.81L232.80 384.01L233.00 384.21L233.20 384.41L233.40 384.61L233.60 384.81L233.80 385.01L234.00 385.20L234.20 385.40L234.40 385.59L234.60 385.78L234.80 385.97L235.00 386.16L235.20 386.35L235.40 386.54L235.60 386.73L235.80 386.91L236.00 387.10L236.20 387.28L236.40 387.46L236.60 387.64L236.80 387.82L237.00 388.00L237.20 388.17L237.40 388.35L237.60 388.52L237.80 388.70L238.00 388.87L238.20 389.04L238.40 389.21L238.60 389.37L238.80 389.54L239.00 389.71L239.20 389.87L239.40 390.03L239.60 390.19L239.80 390.35L240.00 390.51L240.20 390.67L240.40 390.83L240.60 390.98L240.80 391.13L241.00 391.29L241.20 391.44L241.40 391.59L241.60 391.74L241.80 391.88L242.00 392.03L242.20 392.17L242.40 392.31L242.60 392.46L242.80 392.60L243.00 392.74L243.20 392.87L243.40 393.01L243.60 393.15L243.80 393.28L244.00 393.41L244.20 393.54L244.40 393.67L244.60 393.80L244.80 393.93L245.00 394.06L245.20 394.18L245.40 394.31L245.60 394.43L245.80 394.55L246.00 394.67L246.20 394.79L246.40 394.91L246.60 395.03L246.80 395.14L247.00 395.26L247.20 395.37L247.40 395.48L247.60 395.59L247.80 395.71L248.00 395.81L248.20 395.92L248.40 396.03L248.60 396.14L248.80 396.24L249.00 396.35L249.20 396.45L249.40 396.55L249.60 396.65L249.80 396.75L250.00 396.85L250.20 396.95L250.40 397.05L250.60 397.14L250.80 397.24L251.00 397.33L251.20 397.42L251.40 397.52L251.60 397.61L251.80 397.70L252.00 397.79L252.20 397.88L252.40 397.97L252.60 398.05L252.80 398.14L253.00 398.22L253.20 398.31L253.40 398.39L253.60 398.47L253.80 398.56L254.00 398.64L254.20 398.72L254.40 398.80L254.60 398.88L254.80 398.95L255.00 399.03L255.20 399.11L255.40 399.18L255.60 399.26L255.80 399.33L256.00 399.40L256.20 399.48L256.40 399.55L256.60 399.62L256.80 399.69L257.00 399.76L257.20 399.83L257.40 399.90L257.60 399.97L257.80 400.03L258.00 400.10L258.20 400.17L258.40 400.23L258.60 400.30L258.80 400.36L259.00 400.42L259.20 400.49L259.40 400.55L259.60 400.61L259.80 400.67L260.00 400.73L261.00 401.02L262.00 401.29L263.00 401.55L264.00 401.79L265.00 402.00L266.00 402.20L267.00 402.38L268.00 402.53L269.00 402.67L270.00 402.78L271.00 402.87L272.00 402.94L273.00 402.98L274.00 403.00L275.00 402.99L276.00 402.96L277.00 402.91L278.00 402.83L279.00 402.73L280.00 402.60L281.00 402.45L282.00 402.28L283.00 402.09L284.00 401.87L285.00 401.63L286.00 401.37L287.00 401.09L288.00 400.79L289.00 400.46L290.00 400.12L291.00 399.75L292.00 399.37L293.00 398.96L294.00 398.54L295.00 398.10L296.00 397.64L297.00 397.16L298.00 396.66L299.00 396.14L300.00 395.61L301.00 395.06L302.00 394.49L303.00 393.90L304.00 393.30L305.00 392.69L306.00 392.06L307.00 391.41L308.00 390.76L309.00 390.09L310.00 389.40L311.00 388.71L312.00 388.01L313.00 387.30L314.00 386.58L315.00 385.85L316.00 385.11L317.00 384.37L318.00 383.62L319.00 382.86L320.00 382.10L321.00 381.34L322.00 380.57L323.00 379.80L324.00 379.03L325.00 378.25L326.00 377.48L327.00 376.71L328.00 375.93L329.00 375.16L330.00 374.39L331.00 373.63L332.00 372.86L333.00 372.11L334.00 371.36L335.00 370.61L336.00 369.88L337.00 369.15L338.00 368.43L339.00 367.73L340.00 367.03L341.00 366.35L342.00 365.68L343.00 365.02L344.00 364.38L345.00 363.75L346.00 363.14L347.00 362.54L348.00 361.97L349.00 361.41L350.00 360.87L351.00 360.35L352.00 359.86L353.00 359.38L354.00 358.92L355.00 358.49L356.00 358.07L357.00 357.68L358.00 357.31L359.00 356.97L360.00 356.64L361.00 356.34L362.00 356.06L363.00 355.80L364.00 355.57L365.00 355.36L366.00 355.18L367.00 355.02L368.00 354.88L369.00 354.77L370.00 354.69L371.00 354.63L372.00 354.59L373.00 354.58L374.00 354.60L375.00 354.65L376.00 354.72L377.00 354.81L378.00 354.93L379.00 355.08L380.00 355.25L381.00 355.45L382.00 355.68L383.00 355.93L384.00 356.21L385.00 356.51L386.00 356.84L387.00 357.19L388.00 357.57L389.00 357.97L390.00 358.40L391.00 358.86L392.00 359.34L393.00 359.84L394.00 360.36L395.00 360.89L396.00 361.45L397.00 362.01L398.00 362.60L399.00 363.19L400.00 363.79L401.00 364.40L402.00 365.02L403.00 365.64L404.00 366.27L405.00 366.90L406.00 367.53L407.00 368.16L408.00 368.79L409.00 369.42L410.00 370.05L411.00 370.67L412.00 371.30L413.00 371.93L414.00 372.55L415.00 373.18L416.00 373.80L417.00 374.42L418.00 375.04L419.00 375.66L420.00 376.27L421.00 376.88L422.00 377.49L423.00 378.10L424.00 378.71L425.00 379.31L426.00 379.91L427.00 380.50L428.00 381.09L429.00 381.68L430.00 382.26L431.00 382.84L432.00 383.41L433.00 383.97L434.00 384.52L435.00 385.07L436.00 385.61L437.00 386.14L438.00 386.66L439.00 387.17L440.00 387.67L441.00 388.15L442.00 388.63L443.00 389.09L444.00 389.53L445.00 389.97L446.00 390.38L447.00 390.79L448.00 391.17L449.00 391.54L450.00 391.89L451.00 392.23L452.00 392.54L453.00 392.84L454.00 393.11L455.00 393.37L456.00 393.60L457.00 393.81L458.00 394.00L459.00 394.16L460.00 394.30L461.00 394.41L462.00 394.50L463.00 394.57L464.00 394.60L465.00 394.61L466.00 394.60L467.00 394.56L468.00 394.49L469.00 394.40L470.00 394.29L471.00 394.15L472.00 394.00L473.00 393.82L474.00 393.61L475.00 393.39L476.00 393.15L477.00 392.89L478.00 392.61L479.00 392.31L480.00 391.99L481.00 391.65L482.00 391.30L483.00 390.93L484.00 390.54L485.00 390.14L486.00 389.73L487.00 389.30L488.00 388.85L489.00 388.39L490.00 387.92L491.00 387.44L492.00 386.95L493.00 386.44L494.00 385.92L495.00 385.40L496.00 384.86L497.00 384.32L498.00 383.77L499.00 383.21L500.00 382.65L501.00 382.08L502.00 381.50L503.00 380.92L504.00 380.34L505.00 379.76L506.00 379.17L507.00 378.58L508.00 377.99L509.00 377.40L510.00 376.80L511.00 376.21L512.00 375.62L513.00 375.03L514.00 374.45L515.00 373.86L516.00 373.28L517.00 372.70L518.00 372.13L519.00 371.56L520.00 371.00L521.00 370.44L522.00 369.89L523.00 369.35L524.00 368.81L525.00 368.29L526.00 367.77L527.00 367.26L528.00 366.75L529.00 366.26L530.00 365.78L531.00 365.32L532.00 364.86L533.00 364.41L534.00 363.98L535.00 363.57L536.00 363.17L537.00 362.78L538.00 362.41L539.00 362.06L540.00 361.73L541.00 361.41L542.00 361.11L543.00 360.83L544.00 360.57L545.00 360.33L546.00 360.11L547.00 359.90L548.00 359.72L549.00 359.56L550.00 359.41L551.00 359.29L552.00 359.19L553.00 359.11L554.00 359.05L555.00 359.01L556.00 358.99L557.00 358.99L558.00 359.01L559.00 359.06L560.00 359.12L561.00 359.21L562.00 359.31L563.00 359.44L564.00 359.59L565.00 359.75L566.00 359.94L567.00 360.15L568.00 360.37L569.00 360.62L570.00 360.89L571.00 361.17L572.00 361.47L573.00 361.79L574.00 362.13L575.00 362.49L576.00 362.86L577.00 363.25L578.00 363.65L579.00 364.07L580.00 364.51L581.00 364.96L582.00 365.43L583.00 365.90L584.00 366.39L585.00 366.90L586.00 367.41L587.00 367.94L588.00 368.48L589.00 369.02L590.00 369.58L591.00 370.15L592.00 370.72L593.00 371.30L594.00 371.89L595.00 372.48L596.00 373.08L597.00 373.69L598.00 374.30L599.00 374.91L600.00 375.52L601.00 376.14L602.00 376.75L603.00 377.37L604.00 377.99L605.00 378.61L606.00 379.22L607.00 379.83L608.00 380.44L609.00 381.05L610.00 381.65L611.00 382.24L612.00 382.83L613.00 383.42L614.00 383.99L615.00 384.56L616.00 385.12L617.00 385.67L618.00 386.21L619.00 386.74L620.00 387.26L621.00 387.77L622.00 388.27L623.00 388.75L624.00 389.22L625.00 389.68L626.00 390.12L627.00 390.54L628.00 390.95L629.00 391.35L630.00 391.73L631.00 392.09L632.00 392.43L633.00 392.76L634.00 393.07L635.00 393.36L636.00 393.63L637.00 393.88L638.00 394.12L639.00 394.33L640.00 394.53L641.00 394.70L642.00 394.85L643.00 394.99L644.00 395.10L645.00 395.19L646.00 395.26L647.00 395.32L648.00 395.35L649.00 395.36L650.00 395.34L651.00 395.31L652.00 395.26L653.00 395.18L654.00 395.09L655.00 394.97L656.00 394.84L657.00 394.68L658.00 394.50L659.00 394.31L660.00 394.09L661.00 393.86L662.00 393.60L663.00 393.33L664.00 393.04L665.00 392.73L666.00 392.40L667.00 392.05L668.00 391.69L669.00 391.31L670.00 390.92L671.00 390.51L672.00 390.08L673.00 389.64L674.00 389.19L675.00 388.72L676.00 388.24L677.00 387.75L678.00 387.24L679.00 386.72L680.00 386.20L681.00 385.66L682.00 385.11L683.00 384.55L684.00 383.99L685.00 383.42L686.00 382.84L687.00 382.25L688.00 381.66L689.00 381.07L690.00 380.47L691.00 379.86L692.00 379.26L693.00 378.65L694.00 378.04L695.00 377.43L696.00 376.82L697.00 376.21L698.00 375.61L699.00 375.00L700.00 374.40L701.00 373.80L702.00 373.21L703.00 372.62L704.00 372.04L705.00 371.46L706.00 370.89L707.00 370.33L708.00 369.78L709.00 369.23L710.00 368.70L711.00 368.17L712.00 367.66L713.00 367.16L714.00 366.67L715.00 366.19L716.00 365.73L717.00 365.28L718.00 364.84L719.00 364.42L720.00 364.02L721.00 363.63L722.00 363.26L723.00 362.90L724.00 362.56L725.00 362.24L726.00 361.94L727.00 361.65L728.00 361.38L729.00 361.14L730.00 360.91L731.00 360.70L732.00 360.51L733.00 360.34L734.00 360.19L735.00 360.06L736.00 359.95L737.00 359.87L738.00 359.80L739.00 359.75L740.00 359.73L741.00 359.72L742.00 359.74L743.00 359.78L744.00 359.84L745.00 359.92L746.00 360.02L747.00 360.14L748.00 360.28L749.00 360.44L750.00 360.62L751.00 360.82L752.00 361.04L753.00 361.28L754.00 361.54L755.00 361.82L756.00 362.12L757.00 362.43L758.00 362.77L759.00 363.12L760.00 363.48L761.00 363.87L762.00 364.27L763.00 364.68L764.00 365.12L765.00 365.56L766.00 366.02L767.00 366.50L768.00 366.98L769.00 367.48L770.00 367.99L771.00 368.52L772.00 369.05L773.00 369.60L774.00 370.15L775.00 370.71L776.00 371.29L777.00 371.86L778.00 372.45L779.00 373.04L780.00 373.64L781.00 374.24L782.00 374.85L783.00 375.46L784.00 376.07L785.00 376.69L786.00 377.31L787.00 377.92L788.00 378.54L789.00 379.16L790.00 379.77L791.00 380.39L792.00 381.00L793.00 381.60L794.00 382.21L795.00 382.80L796.00 383.40L797.00 383.98L798.00 384.56L799.00 385.13L800.00 385.69L801.00 386.25L802.00 386.79L803.00 387.32L804.00 387.85L805.00 388.36L806.00 388.86L807.00 389.34L808.00 389.82L809.00 390.28L810.00 390.72L811.00 391.15L812.00 391.57L813.00 391.97L814.00 392.35L815.00 392.72L816.00 393.07L817.00 393.40L818.00 393.71L819.00 394.01L820.00 394.29L821.00 394.55L822.00 394.79L823.00 395.01L824.00 395.21L825.00 395.39L826.00 395.55L827.00 395.69L828.00 395.81L829.00 395.90L830.00 395.98L831.00 396.04L832.00 396.08L833.00 396.09L834.00 396.09L835.00 396.06L836.00 396.01L837.00 395.95L838.00 395.86L839.00 395.75L840.00 395.62L841.00 395.47L842.00 395.30L843.00 395.11L844.00 394.90L845.00 394.67L846.00 394.42L847.00 394.15L848.00 393.86L849.00 393.56L850.00 393.24L851.00 392.90L852.00 392.54L853.00 392.17L854.00 391.78L855.00 391.37L856.00 390.95L857.00 390.51L858.00 390.06L859.00 389.60L860.00 389.12L861.00 388.63L862.00 388.13L863.00 387.62L864.00 387.09L865.00 386.56L866.00 386.01L867.00 385.46L868.00 384.90L869.00 384.33L870.00 383.75L871.00 383.17L872.00 382.58L873.00 381.98L874.00 381.39L875.00 380.78L876.00 380.18L877.00 379.57L878.00 378.96L879.00 378.35L880.00 377.74L881.00 377.13L882.00 376.53L883.00 375.92L884.00 375.32L885.00 374.72L886.00 374.12L887.00 373.53L888.00 372.95L889.00 372.37L890.00 371.80L891.00 371.23L892.00 370.68L893.00 370.13L894.00 369.59L895.00 369.07L896.00 368.55L897.00 368.05L898.00 367.55L899.00 367.07L900.00 366.60L901.00 366.15L902.00 365.71L903.00 365.29L904.00 364.88L905.00 364.48L906.00 364.10L907.00 363.74L908.00 363.40L909.00 363.07L910.00 362.76L911.00 362.47L912.00 362.20L913.00 361.95L914.00 361.71L915.00 361.50L916.00 361.30L917.00 361.13L918.00 360.97L919.00 360.84L920.00 360.72L921.00 360.63L922.00 360.56L923.00 360.50L924.00 360.47L925.00 360.46L926.00 360.47L927.00 360.50L928.00 360.55L929.00 360.63L930.00 360.72L931.00 360.83L932.00 360.97L933.00 361.12L934.00 361.30L935.00 361.50L936.00 361.71L937.00 361.94L938.00 362.20L939.00 362.47L940.00 362.76L941.00 363.07L942.00 363.40L943.00 363.75L944.00 364.11L945.00 364.49L946.00 364.88L947.00 365.29L948.00 365.72L949.00 366.16L950.00 366.62L951.00 367.09L952.00 367.57L953.00 368.07L954.00 368.58L955.00 369.10L956.00 369.63L957.00 370.17L958.00 370.72L959.00 371.28L960.00 371.85L961.00 372.43L962.00 373.01L963.00 373.60L964.00 374.20L965.00 374.80L966.00 375.40L967.00 376.01L968.00 376.63L969.00 377.24L970.00 377.86L971.00 378.48L972.00 379.09L973.00 379.71L974.00 380.33L975.00 380.94L976.00 381.55L977.00 382.16L978.00 382.76L979.00 383.36L980.00 383.96L981.00 384.54L982.00 385.12L983.00 385.70L983.50 385.98"/>
<path class="c" stroke="#ff0000" d="M100.20 360.60L100.40 358.87L100.60 357.15L100.80 355.43L101.00 353.74L101.20 352.06L101.40 350.42L101.60 348.80L101.80 347.22L102.00 345.69L102.20 344.21L102.40 342.78L102.60 341.41L102.80 340.10L103.00 338.86L103.20 337.69L103.40 336.59L103.60 335.53L103.80 334.54L104.00 333.58L104.20 332.68L104.40 331.81L104.60 330.97L104.80 330.17L105.00 329.39L105.20 328.63L105.40 327.88L105.60 327.15L105.80 326.42L106.00 325.70L106.20 324.97L106.40 324.25L106.60 323.52L106.80 322.79L107.00 322.07L107.20 321.35L107.40 320.63L107.60 319.91L107.80 319.20L108.00 318.50L108.20 317.80L108.40 317.11L108.60 316.43L108.80 315.76L109.00 315.10L109.20 314.45L109.40 313.82L109.60 313.20L109.80 312.59L110.00 312.00L110.20 311.43L110.40 310.87L110.60 310.32L110.80 309.80L111.00 309.29L111.20 308.79L111.40 308.31L111.60 307.84L111.80 307.38L112.00 306.94L112.20 306.51L112.40 306.10L112.60 305.70L112.80 305.31L113.00 304.93L113.20 304.56L113.40 304.20L113.60 303.86L113.80 303.52L114.00 303.20L114.20 302.89L114.40 302.58L114.60 302.29L114.80 302.00L115.00 301.72L115.20 301.46L115.40 301.20L115.60 300.95L115.80 300.71L116.00 300.48L116.20 300.26L116.40 300.05L116.60 299.85L116.80 299.66L117.00 299.48L117.20 299.30L117.40 299.13L117.60 298.98L117.80 298.83L118.00 298.69L118.20 298.56L118.40 298.44L118.60 298.32L118.80 298.22L119.00 298.13L119.20 298.04L119.40 297.96L119.60 297.90L119.80 297.84L120.00 297.79L120.20 297.75L120.40 297.72L120.60 297.70L120.80 297.69L121.00 297.69L121.20 297.69L121.40 297.71L121.60 297.73L121.80 297.76L122.00 297.81L122.20 297.85L122.40 297.91L122.60 297.97L122.80 298.04L123.00 298.12L123.20 298.20L123.40 298.29L123.60 298.39L123.80 298.49L124.00 298.60L124.20 298.71L124.40 298.83L124.60 298.96L124.80 299.08L125.00 299.22L125.20 299.35L125.40 299.49L125.60 299.63L125.80 299.78L126.00 299.93L126.20 300.07L126.40 300.22L126.60 300.38L126.80 300.53L127.00 300.69L127.20 300.84L127.40 301.00L127.60 301.16L127.80 301.33L128.00 301.49L128.20 301.66L128.40 301.83L128.60 302.00L128.80 302.18L129.00 302.36L129.20 302.54L129.40 302.72L129.60 302.91L129.80 303.10L130.00 303.29L130.20 303.48L130.40 303.68L130.60 303.88L130.80 304.09L131.00 304.30L131.20 304.51L131.40 304.72L131.60 304.94L131.80 305.16L132.00 305.39L132.20 305.62L132.40 305.85L132.60 306.09L132.80 306.33L133.00 306.57L133.20 306.82L133.40 307.08L133.60 307.34L133.80 307.60L134.00 307.86L134.20 308.14L134.40 308.41L134.60 308.69L134.80 308.98L135.00 309.26L135.20 309.56L135.40 309.85L135.60 310.15L135.80 310.46L136.00 310.76L136.20 311.07L136.40 311.39L136.60 311.70L136.80 312.02L137.00 312.34L137.20 312.67L137.40 312.99L137.60 313.32L137.80 313.65L138.00 313.99L138.20 314.32L138.40 314.66L138.60 315.00L138.80 315.34L139.00 315.68L139.20 316.02L139.40 316.36L139.60 316.71L139.80 317.05L140.00 317.40L140.20 317.74L140.40 318.09L140.60 318.44L140.80 318.78L141.00 319.13L141.20 319.48L141.40 319.83L141.60 320.17L141.80 320.52L142.00 320.86L142.20 321.21L142.40 321.55L142.60 321.89L142.80 322.23L143.00 322.57L143.20 322.91L143.40 323.24L143.60 323.58L143.80 323.91L144.00 324.24L144.20 324.58L144.40 324.91L144.60 325.23L144.80 325.56L145.00 325.89L145.20 326.21L145.40 326.54L145.60 326.86L145.80 327.19L146.00 327.51L146.20 327.83L146.40 328.15L146.60 328.47L146.80 328.79L147.00 329.11L147.20 329.43L147.40 329.75L147.60 330.07L147.80 330.38L148.00 330.70L148.20 331.02L148.40 331.34L148.60 331.65L148.80 331.97L149.00 332.29L149.20 332.60L149.40 332.92L149.60 333.24L149.80 333.55L150.00 333.87L150.20 334.19L150.40 334.50L150.60 334.82L150.80 335.14L151.00 335.46L151.20 335.78L151.40 336.10L151.60 336.42L151.80 336.74L152.00 337.06L152.20 337.38L152.40 337.70L152.60 338.02L152.80 338.33L153.00 338.65L153.20 338.97L153.40 339.29L153.60 339.60L153.80 339.92L154.00 340.23L154.20 340.54L154.40 340.86L154.60 341.17L154.80 341.47L155.00 341.78L155.20 342.09L155.40 342.39L155.60 342.69L155.80 342.99L156.00 343.29L156.20 343.58L156.40 343.88L156.60 344.17L156.80 344.46L157.00 344.74L157.20 345.02L157.40 345.30L157.60 345.58L157.80 345.85L158.00 346.12L158.20 346.39L158.40 346.66L158.60 346.92L158.80 347.17L159.00 347.43L159.20 347.68L159.40 347.92L159.60 348.16L159.80 348.40L160.00 348.64L160.20 348.87L160.40 349.10L160.60 349.32L160.80 349.55L161.00 349.77L161.20 349.98L161.40 350.19L161.60 350.40L161.80 350.61L162.00 350.82L162.20 351.02L162.40 351.22L162.60 351.41L162.80 351.61L163.00 351.80L163.20 351.99L163.40 352.18L163.60 352.36L163.80 352.54L164.00 352.73L164.20 352.90L164.40 353.08L164.60 353.26L164.80 353.43L165.00 353.60L165.20 353.77L165.40 353.94L165.60 354.10L165.80 354.27L166.00 354.43L166.20 354.59L166.40 354.75L166.60 354.91L166.80 355.07L167.00 355.23L167.20 355.38L167.40 355.53L167.60 355.69L167.80 355.84L168.00 355.99L168.20 356.14L168.40 356.28L168.60 356.43L168.80 356.58L169.00 356.72L169.20 356.86L169.40 357.01L169.60 357.15L169.80 357.29L170.00 357.43L170.20 357.57L170.40 357.71L170.60 357.85L170.80 357.99L171.00 358.12L171.20 358.26L171.40 358.39L171.60 358.53L171.80 358.67L172.00 358.80L172.20 358.93L172.40 359.07L172.60 359.20L172.80 359.34L173.00 359.47L173.20 359.60L173.40 359.73L173.60 359.86L173.80 360.00L174.00 360.13L174.20 360.26L174.40 360.39L174.60 360.52L174.80 360.65L175.00 360.78L175.20 360.91L175.40 361.04L175.60 361.17L175.80 361.30L176.00 361.43L176.20 361.55L176.40 361.68L176.60 361.81L176.80 361.94L177.00 362.07L177.20 362.19L177.40 362.32L177.60 362.45L177.80 362.57L178.00 362.70L178.20 362.83L178.40 362.95L178.60 363.08L178.80 363.20L179.00 363.33L179.20 363.46L179.40 363.58L179.60 363.71L179.80 363.83L180.00 363.96L180.20 364.08L180.40 364.20L180.60 364.33L180.80 364.45L181.00 364.58L181.20 364.70L181.40 364.82L181.60 364.95L181.80 365.07L182.00 365.19L182.20 365.31L182.40 365.44L182.60 365.56L182.80 365.68L183.00 365.80L183.20 365.92L183.40 366.04L183.60 366.17L183.80 366.29L184.00 366.41L184.20 366.53L184.40 366.65L184.60 366.77L184.80 366.89L185.00 367.01L185.20 367.13L185.40 367.24L185.60 367.36L185.80 367.48L186.00 367.60L186.20 367.72L186.40 367.84L186.60 367.95L186.80 368.07L187.00 368.19L187.20 368.31L187.40 368.42L187.60 368.54L187.80 368.66L188.00 368.77L188.20 368.89L188.40 369.01L188.60 369.13L188.80 369.25L189.00 369.36L189.20 369.48L189.40 369.60L189.60 369.72L189.80 369.84L190.00 369.96L190.20 370.08L190.40 370.20L190.60 370.32L190.80 370.45L191.00 370.57L191.20 370.69L191.40 370.81L191.60 370.94L191.80 371.06L192.00 371.19L192.20 371.32L192.40 371.44L192.60 371.57L192.80 371.70L193.00 371.83L193.20 371.96L193.40 372.10L193.60 372.23L193.80 372.36L194.00 372.50L194.20 372.64L194.40 372.77L194.60 372.91L194.80 373.05L195.00 373.19L195.20 373.33L195.40 373.48L195.60 373.62L195.80 373.76L196.00 373.91L196.20 374.05L196.40 374.20L196.60 374.35L196.80 374.49L197.00 374.64L197.20 374.79L197.40 374.93L197.60 375.08L197.80 375.23L198.00 375.38L198.20 375.53L198.40 375.68L198.60 375.83L198.80 375.97L199.00 376.12L199.20 376.27L199.40 376.42L199.60 376.57L199.80 376.71L200.00 376.86L200.20 377.01L200.40 377.15L200.60 377.30L200.80 377.44L201.00 377.59L201.20 377.73L201.40 377.88L201.60 378.02L201.80 378.16L202.00 378.30L202.20 378.44L202.40 378.58L202.60 378.72L202.80 378.85L203.00 378.99L203.20 379.13L203.40 379.26L203.60 379.39L203.80 379.53L204.00 379.66L204.20 379.79L204.40 379.92L204.60 380.06L204.80 380.19L205.00 380.32L205.20 380.45L205.40 380.58L205.60 380.71L205.80 380.83L206.00 380.96L206.20 381.09L206.40 381.22L206.60 381.35L206.80 381.48L207.00 381.60L207.20 381.73L207.40 381.86L207.60 381.99L207.80 382.12L208.00 382.24L208.20 382.37L208.40 382.50L208.60 382.63L208.80 382.76L209.00 382.89L209.20 383.02L209.40 383.15L209.60 383.28L209.80 383.41L210.00 383.54L210.20 383.67L210.40 383.80L210.60 383.93L210.80 384.07L211.00 384.20L211.20 384.33L211.40 384.47L211.60 384.60L211.80 384.74L212.00 384.88L212.20 385.01L212.40 385.15L212.60 385.28L212.80 385.42L213.00 385.56L213.20 385.69L213.40 385.83L213.60 385.97L213.80 386.10L214.00 386.24L214.20 386.38L214.40 386.51L214.60 386.65L214.80 386.78L215.00 386.92L215.20 387.05L215.40 387.18L215.60 387.32L215.80 387.45L216.00 387.58L216.20 387.71L216.40 387.84L216.60 387.97L216.80 388.10L217.00 388.22L217.20 388.35L217.40 388.47L217.60 388.60L217.80 388.72L218.00 388.84L218.20 388.96L218.40 389.08L218.60 389.20L218.80 389.31L219.00 389.43L219.20 389.54L219.40 389.65L219.60 389.76L219.80 389.87L220.00 389.98L220.20 390.09L220.40 390.20L220.60 390.30L220.80 390.41L221.00 390.51L221.20 390.61L221.40 390.71L221.60 390.82L221.80 390.92L222.00 391.01L222.20 391.11L222.40 391.21L222.60 391.31L222.80 391.40L223.00 391.50L223.20 391.59L223.40 391.69L223.60 391.78L223.80 391.87L224.00 391.96L224.20 392.06L224.40 392.15L224.60 392.24L224.80 392.33L225.00 392.42L225.20 392.50L225.40 392.59L225.60 392.68L225.80 392.77L226.00 392.86L226.20 392.94L226.40 393.03L226.60 393.12L226.80 393.20L227.00 393.29L227.20 393.37L227.40 393.46L227.60 393.54L227.80 393.63L228.00 393.71L228.20 393.80L228.40 393.88L228.60 393.96L228.80 394.04L229.00 394.13L229.20 394.21L229.40 394.29L229.60 394.37L229.80 394.45L230.00 394.53L230.20 394.61L230.40 394.69L230.60 394.77L230.80 394.85L231.00 394.93L231.20 395.01L231.40 395.09L231.60 395.16L231.80 395.24L232.00 395.32L232.20 395.39L232.40 395.47L232.60 395.55L232.80 395.62L233.00 395.70L233.20 395.77L233.40 395.84L233.60 395.92L233.80 395.99L234.00 396.06L234.20 396.14L234.40 396.21L234.60 396.28L234.80 396.35L235.00 396.42L235.20 396.49L235.40 396.56L235.60 396.63L235.80 396.70L236.00 396.76L236.20 396.83L236.40 396.90L236.60 396.97L236.80 397.03L237.00 397.10L237.20 397.16L237.40 397.22L237.60 397.29L237.80 397.35L238.00 397.41L238.20 397.47L238.40 397.53L238.60 397.59L238.80 397.65L239.00 397.71L239.20 397.76L239.40 397.82L239.60 397.88L239.80 397.93L240.00 397.99L240.20 398.04L240.40 398.09L240.60 398.14L240.80 398.19L241.00 398.24L241.20 398.29L241.40 398.34L241.60 398.39L241.80 398.43L242.00 398.48L242.20 398.52L242.40 398.57L242.60 398.61L242.80 398.65L243.00 398.69L243.20 398.73L243.40 398.77L243.60 398.80L243.80 398.84L244.00 398.88L244.20 398.91L244.40 398.95L244.60 398.98L244.80 399.01L245.00 399.05L245.20 399.08L245.40 399.11L245.60 399.14L245.80 399.17L246.00 399.20L246.20 399.23L246.40 399.26L246.60 399.28L246.80 399.31L247.00 399.34L247.20 399.36L247.40 399.39L247.60 399.41L247.80 399.44L248.00 399.46L248.20 399.49L248.40 399.51L248.60 399.53L248.80 399.56L249.00 399.58L249.20 399.60L249.40 399.62L249.60 399.65L249.80 399.67L250.00 399.69L250.20 399.71L250.40 399.73L250.60 399.75L250.80 399.77L251.00 399.79L251.20 399.81L251.40 399.83L251.60 399.85L251.80 399.87L252.00 399.89L252.20 399.91L252.40 399.93L252.60 399.95L252.80 399.96L253.00 399.98L253.20 399.99L253.40 400.01L253.60 400.02L253.80 400.04L254.00 400.05L254.20 400.06L254.40 400.07L254.60 400.08L254.80 400.09L255.00 400.10L255.20 400.11L255.40 400.12L255.60 400.12L255.80 400.13L256.00 400.13L256.20 400.13L256.40 400.13L256.60 400.13L256.80 400.13L257.00 400.13L257.20 400.13L257.40 400.12L257.60 400.12L257.80 400.11L258.00 400.10L258.20 400.09L258.40 400.08L258.60 400.07L258.80 400.05L259.00 400.04L259.20 400.02L259.40 400.00L259.60 399.98L259.80 399.96L260.00 399.94L261.00 399.81L262.00 399.66L263.00 399.49L264.00 399.29L265.00 399.08L266.00 398.86L267.00 398.63L268.00 398.39L269.00 398.14L270.00 397.90L271.00 397.66L272.00 397.42L273.00 397.18L274.00 396.93L275.00 396.69L276.00 396.43L277.00 396.17L278.00 395.90L279.00 395.62L280.00 395.33L281.00 395.02L282.00 394.70L283.00 394.36L284.00 394.00L285.00 393.62L286.00 393.23L287.00 392.81L288.00 392.38L289.00 391.92L290.00 391.44L291.00 390.94L292.00 390.42L293.00 389.88L294.00 389.31L295.00 388.73L296.00 388.11L297.00 387.48L298.00 386.83L299.00 386.16L300.00 385.48L301.00 384.79L302.00 384.10L303.00 383.40L304.00 382.72L305.00 382.04L306.00 381.37L307.00 380.71L308.00 380.07L309.00 379.44L310.00 378.82L311.00 378.20L312.00 377.59L313.00 376.98L314.00 376.36L315.00 375.74L316.00 375.12L317.00 374.50L318.00 373.88L319.00 373.26L320.00 372.64L321.00 372.02L322.00 371.42L323.00 370.81L324.00 370.22L325.00 369.63L326.00 369.06L327.00 368.49L328.00 367.94L329.00 367.41L330.00 366.88L331.00 366.37L332.00 365.87L333.00 365.38L334.00 364.91L335.00 364.45L336.00 364.00L337.00 363.57L338.00 363.15L339.00 362.74L340.00 362.35L341.00 361.97L342.00 361.60L343.00 361.25L344.00 360.91L345.00 360.59L346.00 360.29L347.00 359.99L348.00 359.71L349.00 359.45L350.00 359.20L351.00 358.97L352.00 358.75L353.00 358.55L354.00 358.37L355.00 358.20L356.00 358.06L357.00 357.93L358.00 357.82L359.00 357.74L360.00 357.67L361.00 357.62L362.00 357.60L363.00 357.60L364.00 357.62L365.00 357.66L366.00 357.73L367.00 357.82L368.00 357.93L369.00 358.06L370.00 358.21L371.00 358.38L372.00 358.57L373.00 358.78L374.00 359.02L375.00 359.27L376.00 359.54L377.00 359.83L378.00 360.14L379.00 360.47L380.00 360.82L381.00 361.19L382.00 361.57L383.00 361.97L384.00 362.39L385.00 362.82L386.00 363.27L387.00 363.73L388.00 364.20L389.00 364.68L390.00 365.17L391.00 365.66L392.00 366.17L393.00 366.67L394.00 367.19L395.00 367.70L396.00 368.22L397.00 368.73L398.00 369.25L399.00 369.77L400.00 370.29L401.00 370.81L402.00 371.34L403.00 371.86L404.00 372.38L405.00 372.90L406.00 373.42L407.00 373.94L408.00 374.45L409.00 374.97L410.00 375.48L411.00 375.99L412.00 376.50L413.00 377.01L414.00 377.51L415.00 378.01L416.00 378.51L417.00 379.00L418.00 379.50L419.00 379.98L420.00 380.46L421.00 380.94L422.00 381.41L423.00 381.88L424.00 382.35L425.00 382.80L426.00 383.25L427.00 383.70L428.00 384.14L429.00 384.57L430.00 385.00L431.00 385.42L432.00 385.83L433.00 386.23L434.00 386.62L435.00 387.00L436.00 387.37L437.00 387.73L438.00 388.08L439.00 388.41L440.00 388.74L441.00 389.05L442.00 389.34L443.00 389.63L444.00 389.89L445.00 390.14L446.00 390.38L447.00 390.59L448.00 390.79L449.00 390.97L450.00 391.14L451.00 391.28L452.00 391.40L453.00 391.51L454.00 391.59L455.00 391.66L456.00 391.70L457.00 391.72L458.00 391.72L459.00 391.69L460.00 391.65L461.00 391.58L462.00 391.49L463.00 391.38L464.00 391.26L465.00 391.11L466.00 390.94L467.00 390.76L468.00 390.56L469.00 390.35L470.00 390.11L471.00 389.87L472.00 389.61L473.00 389.33L474.00 389.05L475.00 388.75L476.00 388.43L477.00 388.11L478.00 387.77L479.00 387.43L480.00 387.07L481.00 386.70L482.00 386.33L483.00 385.94L484.00 385.55L485.00 385.15L486.00 384.74L487.00 384.32L488.00 383.90L489.00 383.47L490.00 383.04L491.00 382.60L492.00 382.15L493.00 381.70L494.00 381.24L495.00 380.79L496.00 380.32L497.00 379.86L498.00 379.39L499.00 378.92L500.00 378.45L501.00 377.97L502.00 377.50L503.00 377.03L504.00 376.55L505.00 376.08L506.00 375.60L507.00 375.13L508.00 374.66L509.00 374.19L510.00 373.72L511.00 373.26L512.00 372.80L513.00 372.35L514.00 371.90L515.00 371.45L516.00 371.01L517.00 370.58L518.00 370.15L519.00 369.73L520.00 369.31L521.00 368.91L522.00 368.51L523.00 368.12L524.00 367.75L525.00 367.38L526.00 367.02L527.00 366.67L528.00 366.34L529.00 366.01L530.00 365.70L531.00 365.40L532.00 365.12L533.00 364.84L534.00 364.59L535.00 364.34L536.00 364.11L537.00 363.90L538.00 363.70L539.00 363.52L540.00 363.35L541.00 363.20L542.00 363.06L543.00 362.94L544.00 362.84L545.00 362.75L546.00 362.68L547.00 362.62L548.00 362.59L549.00 362.56L550.00 362.56L551.00 362.57L552.00 362.60L553.00 362.65L554.00 362.71L555.00 362.79L556.00 362.88L557.00 363.00L558.00 363.12L559.00 363.27L560.00 363.43L561.00 363.60L562.00 363.80L563.00 364.00L564.00 364.23L565.00 364.46L566.00 364.71L567.00 364.98L568.00 365.26L569.00 365.55L570.00 365.86L571.00 366.18L572.00 366.51L573.00 366.86L574.00 367.21L575.00 367.58L576.00 367.96L577.00 368.35L578.00 368.75L579.00 369.16L580.00 369.58L581.00 370.00L582.00 370.44L583.00 370.88L584.00 371.33L585.00 371.79L586.00 372.25L587.00 372.72L588.00 373.20L589.00 373.68L590.00 374.16L591.00 374.64L592.00 375.13L593.00 375.63L594.00 376.12L595.00 376.61L596.00 377.11L597.00 377.60L598.00 378.10L599.00 378.59L600.00 379.08L601.00 379.57L602.00 380.06L603.00 380.54L604.00 381.02L605.00 381.49L606.00 381.96L607.00 382.43L608.00 382.89L609.00 383.34L610.00 383.78L611.00 384.22L612.00 384.65L613.00 385.07L614.00 385.48L615.00 385.88L616.00 386.27L617.00 386.65L618.00 387.02L619.00 387.38L620.00 387.73L621.00 388.06L622.00 388.38L623.00 388.69L624.00 388.99L625.00 389.27L626.00 389.54L627.00 389.79L628.00 390.03L629.00 390.25L630.00 390.46L631.00 390.66L632.00 390.83L633.00 391.00L634.00 391.14L635.00 391.27L636.00 391.39L637.00 391.49L638.00 391.57L639.00 391.63L640.00 391.68L641.00 391.71L642.00 391.73L643.00 391.73L644.00 391.71L645.00 391.67L646.00 391.62L647.00 391.55L648.00 391.47L649.00 391.37L650.00 391.25L651.00 391.11L652.00 390.96L653.00 390.80L654.00 390.62L655.00 390.42L656.00 390.21L657.00 389.98L658.00 389.74L659.00 389.48L660.00 389.21L661.00 388.93L662.00 388.63L663.00 388.32L664.00 388.00L665.00 387.67L666.00 387.32L667.00 386.96L668.00 386.59L669.00 386.21L670.00 385.82L671.00 385.42L672.00 385.01L673.00 384.60L674.00 384.17L675.00 383.73L676.00 383.29L677.00 382.85L678.00 382.39L679.00 381.93L680.00 381.47L681.00 381.00L682.00 380.52L683.00 380.04L684.00 379.56L685.00 379.08L686.00 378.60L687.00 378.11L688.00 377.62L689.00 377.14L690.00 376.65L691.00 376.16L692.00 375.68L693.00 375.20L694.00 374.72L695.00 374.24L696.00 373.77L697.00 373.30L698.00 372.84L699.00 372.38L700.00 371.93L701.00 371.49L702.00 371.05L703.00 370.62L704.00 370.20L705.00 369.79L706.00 369.38L707.00 368.99L708.00 368.60L709.00 368.23L710.00 367.87L711.00 367.51L712.00 367.17L713.00 366.84L714.00 366.53L715.00 366.23L716.00 365.94L717.00 365.66L718.00 365.40L719.00 365.15L720.00 364.92L721.00 364.70L722.00 364.50L723.00 364.31L724.00 364.13L725.00 363.98L726.00 363.84L727.00 363.71L728.00 363.60L729.00 363.51L730.00 363.43L731.00 363.38L732.00 363.33L733.00 363.31L734.00 363.30L735.00 363.30L736.00 363.33L737.00 363.37L738.00 363.43L739.00 363.50L740.00 363.59L741.00 363.70L742.00 363.82L743.00 363.96L744.00 364.12L745.00 364.29L746.00 364.47L747.00 364.68L748.00 364.89L749.00 365.13L750.00 365.37L751.00 365.64L752.00 365.91L753.00 366.20L754.00 366.50L755.00 366.82L756.00 367.15L757.00 367.49L758.00 367.84L759.00 368.21L760.00 368.58L761.00 368.97L762.00 369.37L763.00 369.77L764.00 370.19L765.00 370.61L766.00 371.05L767.00 371.49L768.00 371.94L769.00 372.39L770.00 372.85L771.00 373.32L772.00 373.79L773.00 374.27L774.00 374.75L775.00 375.24L776.00 375.72L777.00 376.21L778.00 376.71L779.00 377.20L780.00 377.70L781.00 378.19L782.00 378.69L783.00 379.18L784.00 379.67L785.00 380.16L786.00 380.65L787.00 381.13L788.00 381.61L789.00 382.09L790.00 382.56L791.00 383.03L792.00 383.49L793.00 383.94L794.00 384.39L795.00 384.83L796.00 385.26L797.00 385.68L798.00 386.09L799.00 386.50L800.00 386.89L801.00 387.28L802.00 387.65L803.00 388.01L804.00 388.36L805.00 388.70L806.00 389.02L807.00 389.34L808.00 389.64L809.00 389.92L810.00 390.19L811.00 390.45L812.00 390.70L813.00 390.92L814.00 391.14L815.00 391.34L816.00 391.52L817.00 391.69L818.00 391.84L819.00 391.97L820.00 392.09L821.00 392.20L822.00 392.28L823.00 392.35L824.00 392.41L825.00 392.44L826.00 392.46L827.00 392.47L828.00 392.45L829.00 392.42L830.00 392.37L831.00 392.31L832.00 392.23L833.00 392.13L834.00 392.02L835.00 391.89L836.00 391.75L837.00 391.59L838.00 391.41L839.00 391.22L840.00 391.01L841.00 390.79L842.00 390.55L843.00 390.30L844.00 390.03L845.00 389.76L846.00 389.46L847.00 389.16L848.00 388.84L849.00 388.51L850.00 388.16L851.00 387.81L852.00 387.44L853.00 387.07L854.00 386.68L855.00 386.28L856.00 385.87L857.00 385.46L858.00 385.03L859.00 384.60L860.00 384.16L861.00 383.72L862.00 383.26L863.00 382.81L864.00 382.34L865.00 381.87L866.00 381.40L867.00 380.92L868.00 380.44L869.00 379.96L870.00 379.48L871.00 378.99L872.00 378.51L873.00 378.02L874.00 377.53L875.00 377.05L876.00 376.56L877.00 376.08L878.00 375.60L879.00 375.12L880.00 374.65L881.00 374.18L882.00 373.72L883.00 373.26L884.00 372.81L885.00 372.36L886.00 371.92L887.00 371.49L888.00 371.06L889.00 370.65L890.00 370.24L891.00 369.84L892.00 369.45L893.00 369.08L894.00 368.71L895.00 368.35L896.00 368.01L897.00 367.68L898.00 367.36L899.00 367.05L900.00 366.76L901.00 366.48L902.00 366.21L903.00 365.96L904.00 365.72L905.00 365.50L906.00 365.29L907.00 365.10L908.00 364.92L909.00 364.76L910.00 364.61L911.00 364.48L912.00 364.37L913.00 364.27L914.00 364.19L915.00 364.13L916.00 364.08L917.00 364.05L918.00 364.04L919.00 364.04L920.00 364.06L921.00 364.09L922.00 364.14L923.00 364.21L924.00 364.30L925.00 364.40L926.00 364.52L927.00 364.65L928.00 364.81L929.00 364.97L930.00 365.15L931.00 365.35L932.00 365.56L933.00 365.79L934.00 366.04L935.00 366.29L936.00 366.56L937.00 366.85L938.00 367.15L939.00 367.46L940.00 367.79L941.00 368.12L942.00 368.47L943.00 368.83L944.00 369.21L945.00 369.59L946.00 369.98L947.00 370.39L948.00 370.80L949.00 371.22L950.00 371.65L951.00 372.09L952.00 372.54L953.00 372.99L954.00 373.45L955.00 373.92L956.00 374.39L957.00 374.86L958.00 375.34L959.00 375.83L960.00 376.31L961.00 376.80L962.00 377.30L963.00 377.79L964.00 378.28L965.00 378.78L966.00 379.27L967.00 379.77L968.00 380.26L969.00 380.75L970.00 381.24L971.00 381.73L972.00 382.21L973.00 382.68L974.00 383.16L975.00 383.62L976.00 384.09L977.00 384.54L978.00 384.99L979.00 385.43L980.00 385.87L981.00 386.29L982.00 386.71L983.00 387.11L983.50 387.31"/>
<path class="c" stroke="#00bfbf" d="M100.20 130.00L100.40 132.42L100.60 134.84L100.80 137.26L101.00 139.68L101.20 142.10L101.40 144.52L101.60 146.94L101.80 149.37L102.00 151.79L102.20 154.21L102.40 156.64L102.60 159.06L102.80 161.49L103.00 163.92L103.20 166.34L103.40 168.77L103.60 171.20L103.80 173.64L104.00 176.07L104.20 178.51L104.40 180.94L104.60 183.38L104.80 185.82L105.00 188.26L105.20 190.70L105.40 193.14L105.60 195.57L105.80 198.00L106.00 200.41L106.20 202.82L106.40 205.21L106.60 207.59L106.80 209.96L107.00 212.30L107.20 214.63L107.40 216.93L107.60 219.21L107.80 221.47L108.00 223.69L108.20 225.89L108.40 228.06L108.60 230.19L108.80 232.29L109.00 234.35L109.20 236.38L109.40 238.36L109.60 240.30L109.80 242.20L110.00 244.05L110.20 245.86L110.40 247.64L110.60 249.38L110.80 251.09L111.00 252.77L111.20 254.41L111.40 256.03L111.60 257.63L111.80 259.20L112.00 260.76L112.20 262.29L112.40 263.82L112.60 265.32L112.80 266.82L113.00 268.31L113.20 269.79L113.40 271.26L113.60 272.74L113.80 274.21L114.00 275.68L114.20 277.14L114.40 278.60L114.60 280.05L114.80 281.49L115.00 282.92L115.20 284.34L115.40 285.75L115.60 287.15L115.80 288.52L116.00 289.88L116.20 291.23L116.40 292.55L116.60 293.85L116.80 295.13L117.00 296.39L117.20 297.62L117.40 298.82L117.60 300.00L117.80 301.15L118.00 302.27L118.20 303.36L118.40 304.43L118.60 305.48L118.80 306.51L119.00 307.52L119.20 308.51L119.40 309.49L119.60 310.45L119.80 311.40L120.00 312.34L120.20 313.28L120.40 314.21L120.60 315.13L120.80 316.05L121.00 316.97L121.20 317.88L121.40 318.81L121.60 319.73L121.80 320.66L122.00 321.60L122.20 322.55L122.40 323.50L122.60 324.47L122.80 325.44L123.00 326.41L123.20 327.39L123.40 328.38L123.60 329.37L123.80 330.36L124.00 331.36L124.20 332.35L124.40 333.35L124.60 334.34L124.80 335.34L125.00 336.33L125.20 337.31L125.40 338.30L125.60 339.28L125.80 340.25L126.00 341.22L126.20 342.18L126.40 343.13L126.60 344.08L126.80 345.01L127.00 345.94L127.20 346.85L127.40 347.75L127.60 348.64L127.80 349.51L128.00 350.37L128.20 351.22L128.40 352.06L128.60 352.89L128.80 353.70L129.00 354.50L129.20 355.28L129.40 356.06L129.60 356.82L129.80 357.56L130.00 358.30L130.20 359.02L130.40 359.73L130.60 360.42L130.80 361.10L131.00 361.77L131.20 362.42L131.40 363.06L131.60 363.69L131.80 364.31L132.00 364.91L132.20 365.49L132.40 366.07L132.60 366.63L132.80 367.18L133.00 367.73L133.20 368.26L133.40 368.78L133.60 369.29L133.80 369.80L134.00 370.29L134.20 370.78L134.40 371.26L134.60 371.73L134.80 372.20L135.00 372.66L135.20 373.12L135.40 373.57L135.60 374.02L135.80 374.46L136.00 374.91L136.20 375.35L136.40 375.78L136.60 376.22L136.80 376.65L137.00 377.08L137.20 377.51L137.40 377.94L137.60 378.37L137.80 378.79L138.00 379.21L138.20 379.63L138.40 380.05L138.60 380.46L138.80 380.87L139.00 381.27L139.20 381.67L139.40 382.07L139.60 382.46L139.80 382.85L140.00 383.24L140.20 383.61L140.40 383.99L140.60 384.36L140.80 384.72L141.00 385.08L141.20 385.43L141.40 385.77L141.60 386.11L141.80 386.44L142.00 386.77L142.20 387.09L142.40 387.40L142.60 387.71L142.80 388.01L143.00 388.31L143.20 388.60L143.40 388.88L143.60 389.16L143.80 389.43L144.00 389.69L144.20 389.95L144.40 390.20L144.60 390.45L144.80 390.69L145.00 390.92L145.20 391.15L145.40 391.37L145.60 391.59L145.80 391.80L146.00 392.00L146.20 392.20L146.40 392.39L146.60 392.57L146.80 392.75L147.00 392.93L147.20 393.10L147.40 393.26L147.60 393.41L147.80 393.57L148.00 393.71L148.20 393.85L148.40 393.99L148.60 394.12L148.80 394.25L149.00 394.37L149.20 394.48L149.40 394.60L149.60 394.70L149.80 394.81L150.00 394.91L150.20 395.00L150.40 395.09L150.60 395.18L150.80 395.26L151.00 395.34L151.20 395.41L151.40 395.48L151.60 395.55L151.80 395.62L152.00 395.68L152.20 395.73L152.40 395.78L152.60 395.83L152.80 395.88L153.00 395.92L153.20 395.95L153.40 395.98L153.60 396.01L153.80 396.04L154.00 396.06L154.20 396.07L154.40 396.09L154.60 396.09L154.80 396.10L155.00 396.10L155.20 396.10L155.40 396.09L155.60 396.08L155.80 396.06L156.00 396.04L156.20 396.02L156.40 396.00L156.60 395.97L156.80 395.93L157.00 395.90L157.20 395.86L157.40 395.82L157.60 395.78L157.80 395.73L158.00 395.68L158.20 395.63L158.40 395.58L158.60 395.52L158.80 395.46L159.00 395.40L159.20 395.34L159.40 395.28L159.60 395.21L159.80 395.15L160.00 395.08L160.20 395.01L160.40 394.94L160.60 394.86L160.80 394.79L161.00 394.72L161.20 394.64L161.40 394.56L161.60 394.49L161.80 394.41L162.00 394.33L162.20 394.25L162.40 394.16L162.60 394.08L162.80 394.00L163.00 393.91L163.20 393.83L163.40 393.74L163.60 393.65L163.80 393.57L164.00 393.48L164.20 393.39L164.40 393.30L164.60 393.20L164.80 393.11L165.00 393.02L165.20 392.92L165.40 392.83L165.60 392.74L165.80 392.64L166.00 392.54L166.20 392.45L166.40 392.35L166.60 392.25L166.80 392.15L167.00 392.05L167.20 391.95L167.40 391.85L167.60 391.75L167.80 391.65L168.00 391.55L168.20 391.44L168.40 391.34L168.60 391.24L168.80 391.14L169.00 391.04L169.20 390.94L169.40 390.84L169.60 390.74L169.80 390.64L170.00 390.54L170.20 390.44L170.40 390.34L170.60 390.25L170.80 390.15L171.00 390.06L171.20 389.96L171.40 389.87L171.60 389.78L171.80 389.69L172.00 389.61L172.20 389.52L172.40 389.44L172.60 389.35L172.80 389.27L173.00 389.19L173.20 389.12L173.40 389.04L173.60 388.97L173.80 388.90L174.00 388.83L174.20 388.77L174.40 388.70L174.60 388.64L174.80 388.59L175.00 388.53L175.20 388.48L175.40 388.43L175.60 388.38L175.80 388.33L176.00 388.28L176.20 388.24L176.40 388.19L176.60 388.15L176.80 388.11L177.00 388.07L177.20 388.04L177.40 388.00L177.60 387.97L177.80 387.93L178.00 387.90L178.20 387.87L178.40 387.84L178.60 387.81L178.80 387.78L179.00 387.75L179.20 387.72L179.40 387.70L179.60 387.67L179.80 387.65L180.00 387.63L180.20 387.61L180.40 387.59L180.60 387.57L180.80 387.56L181.00 387.54L181.20 387.53L181.40 387.52L181.60 387.51L181.80 387.50L182.00 387.50L182.20 387.50L182.40 387.50L182.60 387.50L182.80 387.50L183.00 387.51L183.20 387.51L183.40 387.52L183.60 387.54L183.80 387.55L184.00 387.57L184.20 387.58L184.40 387.60L184.60 387.63L184.80 387.65L185.00 387.68L185.20 387.71L185.40 387.74L185.60 387.77L185.80 387.80L186.00 387.84L186.20 387.88L186.40 387.91L186.60 387.96L186.80 388.00L187.00 388.04L187.20 388.09L187.40 388.14L187.60 388.19L187.80 388.24L188.00 388.29L188.20 388.35L188.40 388.40L188.60 388.46L188.80 388.52L189.00 388.58L189.20 388.64L189.40 388.70L189.60 388.77L189.80 388.83L190.00 388.90L190.20 388.97L190.40 389.04L190.60 389.11L190.80 389.18L191.00 389.25L191.20 389.33L191.40 389.40L191.60 389.48L191.80 389.56L192.00 389.64L192.20 389.71L192.40 389.79L192.60 389.87L192.80 389.95L193.00 390.04L193.20 390.12L193.40 390.20L193.60 390.28L193.80 390.37L194.00 390.45L194.20 390.53L194.40 390.62L194.60 390.70L194.80 390.78L195.00 390.87L195.20 390.95L195.40 391.04L195.60 391.12L195.80 391.20L196.00 391.29L196.20 391.37L196.40 391.45L196.60 391.54L196.80 391.62L197.00 391.70L197.20 391.78L197.40 391.86L197.60 391.94L197.80 392.02L198.00 392.10L198.20 392.18L198.40 392.25L198.60 392.33L198.80 392.41L199.00 392.48L199.20 392.55L199.40 392.63L199.60 392.70L199.80 392.77L200.00 392.84L200.20 392.91L200.40 392.98L200.60 393.04L200.80 393.11L201.00 393.17L201.20 393.24L201.40 393.30L201.60 393.37L201.80 393.43L202.00 393.49L202.20 393.55L202.40 393.61L202.60 393.66L202.80 393.72L203.00 393.78L203.20 393.83L203.40 393.88L203.60 393.94L203.80 393.99L204.00 394.04L204.20 394.09L204.40 394.14L204.60 394.18L204.80 394.23L205.00 394.27L205.20 394.32L205.40 394.36L205.60 394.40L205.80 394.44L206.00 394.48L206.20 394.52L206.40 394.56L206.60 394.59L206.80 394.63L207.00 394.66L207.20 394.69L207.40 394.72L207.60 394.75L207.80 394.78L208.00 394.81L208.20 394.84L208.40 394.86L208.60 394.89L208.80 394.91L209.00 394.94L209.20 394.96L209.40 394.98L209.60 395.00L209.80 395.02L210.00 395.04L210.20 395.06L210.40 395.08L210.60 395.10L210.80 395.11L211.00 395.13L211.20 395.14L211.40 395.16L211.60 395.17L211.80 395.19L212.00 395.20L212.20 395.21L212.40 395.22L212.60 395.23L212.80 395.24L213.00 395.25L213.20 395.26L213.40 395.27L213.60 395.28L213.80 395.29L214.00 395.30L214.20 395.30L214.40 395.31L214.60 395.32L214.80 395.32L215.00 395.33L215.20 395.34L215.40 395.34L215.60 395.35L215.80 395.35L216.00 395.35L216.20 395.36L216.40 395.36L216.60 395.36L216.80 395.36L217.00 395.36L217.20 395.36L217.40 395.36L217.60 395.36L217.80 395.36L218.00 395.36L218.20 395.35L218.40 395.35L218.60 395.34L218.80 395.34L219.00 395.33L219.20 395.32L219.40 395.31L219.60 395.31L219.80 395.29L220.00 395.28L220.20 395.27L220.40 395.26L220.60 395.24L220.80 395.23L221.00 395.21L221.20 395.20L221.40 395.18L221.60 395.16L221.80 395.14L222.00 395.12L222.20 395.10L222.40 395.08L222.60 395.05L222.80 395.03L223.00 395.01L223.20 394.98L223.40 394.95L223.60 394.92L223.80 394.90L224.00 394.87L224.20 394.84L224.40 394.80L224.60 394.77L224.80 394.74L225.00 394.70L225.20 394.67L225.40 394.63L225.60 394.60L225.80 394.56L226.00 394.52L226.20 394.48L226.40 394.44L226.60 394.40L226.80 394.36L227.00 394.31L227.20 394.27L227.40 394.22L227.60 394.18L227.80 394.13L228.00 394.09L228.20 394.04L228.40 393.99L228.60 393.94L228.80 393.89L229.00 393.84L229.20 393.79L229.40 393.74L229.60 393.69L229.80 393.64L230.00 393.59L230.20 393.54L230.40 393.49L230.60 393.43L230.80 393.38L231.00 393.33L231.20 393.27L231.40 393.22L231.60 393.17L231.80 393.11L232.00 393.06L232.20 393.01L232.40 392.95L232.60 392.90L232.80 392.85L233.00 392.79L233.20 392.74L233.40 392.68L233.60 392.63L233.80 392.58L234.00 392.53L234.20 392.47L234.40 392.42L234.60 392.37L234.80 392.32L235.00 392.27L235.20 392.22L235.40 392.16L235.60 392.11L235.80 392.06L236.00 392.01L236.20 391.96L236.40 391.91L236.60 391.86L236.80 391.81L237.00 391.76L237.20 391.71L237.40 391.66L237.60 391.61L237.80 391.56L238.00 391.52L238.20 391.47L238.40 391.42L238.60 391.37L238.80 391.32L239.00 391.27L239.20 391.22L239.40 391.17L239.60 391.12L239.80 391.07L240.00 391.02L240.20 390.97L240.40 390.92L240.60 390.88L240.80 390.83L241.00 390.78L241.20 390.73L241.40 390.68L241.60 390.63L241.80 390.58L242.00 390.53L242.20 390.47L242.40 390.42L242.60 390.37L242.80 390.32L243.00 390.27L243.20 390.22L243.40 390.17L243.60 390.12L243.80 390.06L244.00 390.01L244.20 389.96L244.40 389.91L244.60 389.86L244.80 389.81L245.00 389.76L245.20 389.70L245.40 389.65L245.60 389.60L245.80 389.55L246.00 389.50L246.20 389.45L246.40 389.40L246.60 389.35L246.80 389.29L247.00 389.24L247.20 389.19L247.40 389.14L247.60 389.09L247.80 389.05L248.00 389.00L248.20 388.95L248.40 388.90L248.60 388.85L248.80 388.80L249.00 388.75L249.20 388.71L249.40 388.66L249.60 388.61L249.80 388.57L250.00 388.52L250.20 388.48L250.40 388.43L250.60 388.39L250.80 388.34L251.00 388.30L251.20 388.26L251.40 388.22L251.60 388.17L251.80 388.13L252.00 388.09L252.20 388.05L252.40 388.01L252.60 387.97L252.80 387.93L253.00 387.89L253.20 387.84L253.40 387.80L253.60 387.77L253.80 387.73L254.00 387.69L254.20 387.65L254.40 387.61L254.60 387.57L254.80 387.53L255.00 387.49L255.20 387.45L255.40 387.41L255.60 387.37L255.80 387.33L256.00 387.30L256.20 387.26L256.40 387.22L256.60 387.18L256.80 387.14L257.00 387.10L257.20 387.06L257.40 387.02L257.60 386.98L257.80 386.94L258.00 386.90L258.20 386.86L258.40 386.82L258.60 386.78L258.80 386.74L259.00 386.70L259.20 386.65L259.40 386.61L259.60 386.57L259.80 386.53L260.00 386.49L261.00 386.27L262.00 386.06L263.00 385.83L264.00 385.61L265.00 385.38L266.00 385.14L267.00 384.91L268.00 384.67L269.00 384.42L270.00 384.18L271.00 383.93L272.00 383.69L273.00 383.44L274.00 383.18L275.00 382.93L276.00 382.68L277.00 382.43L278.00 382.17L279.00 381.92L280.00 381.66L281.00 381.41L282.00 381.15L283.00 380.90L284.00 380.64L285.00 380.38L286.00 380.13L287.00 379.87L288.00 379.61L289.00 379.35L290.00 379.09L291.00 378.82L292.00 378.56L293.00 378.29L294.00 378.03L295.00 377.76L296.00 377.49L297.00 377.22L298.00 376.95L299.00 376.67L300.00 376.40L301.00 376.12L302.00 375.84L303.00 375.56L304.00 375.28L305.00 374.99L306.00 374.70L307.00 374.42L308.00 374.12L309.00 373.83L310.00 373.53L311.00 373.23L312.00 372.94L313.00 372.63L314.00 372.33L315.00 372.03L316.00 371.73L317.00 371.44L318.00 371.14L319.00 370.85L320.00 370.56L321.00 370.27L322.00 369.99L323.00 369.71L324.00 369.44L325.00 369.18L326.00 368.92L327.00 368.67L328.00 368.42L329.00 368.19L330.00 367.96L331.00 367.74L332.00 367.54L333.00 367.34L334.00 367.15L335.00 366.98L336.00 366.81L337.00 366.66L338.00 366.52L339.00 366.39L340.00 366.27L341.00 366.17L342.00 366.07L343.00 365.99L344.00 365.91L345.00 365.85L346.00 365.80L347.00 365.76L348.00 365.73L349.00 365.71L350.00 365.71L351.00 365.71L352.00 365.73L353.00 365.76L354.00 365.80L355.00 365.85L356.00 365.91L357.00 365.99L358.00 366.07L359.00 366.16L360.00 366.26L361.00 366.38L362.00 366.50L363.00 366.63L364.00 366.76L365.00 366.91L366.00 367.06L367.00 367.22L368.00 367.39L369.00 367.57L370.00 367.74L371.00 367.93L372.00 368.12L373.00 368.32L374.00 368.52L375.00 368.72L376.00 368.93L377.00 369.15L378.00 369.36L379.00 369.58L380.00 369.81L381.00 370.03L382.00 370.26L383.00 370.49L384.00 370.72L385.00 370.95L386.00 371.19L387.00 371.42L388.00 371.66L389.00 371.90L390.00 372.15L391.00 372.39L392.00 372.64L393.00 372.89L394.00 373.15L395.00 373.40L396.00 373.66L397.00 373.92L398.00 374.18L399.00 374.45L400.00 374.72L401.00 374.99L402.00 375.26L403.00 375.54L404.00 375.82L405.00 376.10L406.00 376.39L407.00 376.67L408.00 376.96L409.00 377.25L410.00 377.54L411.00 377.84L412.00 378.13L413.00 378.42L414.00 378.71L415.00 378.99L416.00 379.28L417.00 379.56L418.00 379.84L419.00 380.11L420.00 380.38L421.00 380.65L422.00 380.91L423.00 381.16L424.00 381.41L425.00 381.65L426.00 381.88L427.00 382.10L428.00 382.31L429.00 382.52L430.00 382.72L431.00 382.91L432.00 383.09L433.00 383.26L434.00 383.42L435.00 383.58L436.00 383.72L437.00 383.86L438.00 383.99L439.00 384.11L440.00 384.23L441.00 384.33L442.00 384.43L443.00 384.52L444.00 384.60L445.00 384.67L446.00 384.74L447.00 384.80L448.00 384.84L449.00 384.88L450.00 384.92L451.00 384.94L452.00 384.96L453.00 384.97L454.00 384.97L455.00 384.96L456.00 384.95L457.00 384.93L458.00 384.91L459.00 384.87L460.00 384.83L461.00 384.78L462.00 384.73L463.00 384.67L464.00 384.60L465.00 384.53L466.00 384.45L467.00 384.36L468.00 384.27L469.00 384.17L470.00 384.06L471.00 383.94L472.00 383.82L473.00 383.70L474.00 383.56L475.00 383.42L476.00 383.28L477.00 383.12L478.00 382.96L479.00 382.80L480.00 382.63L481.00 382.45L482.00 382.27L483.00 382.08L484.00 381.88L485.00 381.68L486.00 381.48L487.00 381.27L488.00 381.05L489.00 380.83L490.00 380.60L491.00 380.37L492.00 380.14L493.00 379.90L494.00 379.66L495.00 379.42L496.00 379.17L497.00 378.92L498.00 378.68L499.00 378.42L500.00 378.17L501.00 377.92L502.00 377.67L503.00 377.42L504.00 377.17L505.00 376.92L506.00 376.67L507.00 376.42L508.00 376.18L509.00 375.93L510.00 375.69L511.00 375.46L512.00 375.22L513.00 374.99L514.00 374.76L515.00 374.53L516.00 374.31L517.00 374.09L518.00 373.88L519.00 373.67L520.00 373.46L521.00 373.26L522.00 373.06L523.00 372.87L524.00 372.68L525.00 372.50L526.00 372.32L527.00 372.15L528.00 371.98L529.00 371.82L530.00 371.66L531.00 371.52L532.00 371.37L533.00 371.24L534.00 371.11L535.00 370.98L536.00 370.87L537.00 370.76L538.00 370.66L539.00 370.56L540.00 370.48L541.00 370.40L542.00 370.33L543.00 370.27L544.00 370.21L545.00 370.17L546.00 370.13L547.00 370.10L548.00 370.08L549.00 370.07L550.00 370.06L551.00 370.07L552.00 370.08L553.00 370.10L554.00 370.13L555.00 370.16L556.00 370.21L557.00 370.26L558.00 370.33L559.00 370.40L560.00 370.47L561.00 370.56L562.00 370.65L563.00 370.76L564.00 370.87L565.00 370.98L566.00 371.11L567.00 371.24L568.00 371.38L569.00 371.52L570.00 371.67L571.00 371.83L572.00 372.00L573.00 372.17L574.00 372.35L575.00 372.53L576.00 372.72L577.00 372.91L578.00 373.11L579.00 373.32L580.00 373.52L581.00 373.74L582.00 373.96L583.00 374.18L584.00 374.40L585.00 374.63L586.00 374.86L587.00 375.10L588.00 375.34L589.00 375.58L590.00 375.82L591.00 376.06L592.00 376.31L593.00 376.56L594.00 376.80L595.00 377.05L596.00 377.30L597.00 377.55L598.00 377.80L599.00 378.05L600.00 378.30L601.00 378.55L602.00 378.79L603.00 379.04L604.00 379.28L605.00 379.52L606.00 379.76L607.00 379.99L608.00 380.23L609.00 380.46L610.00 380.68L611.00 380.90L612.00 381.12L613.00 381.34L614.00 381.55L615.00 381.75L616.00 381.95L617.00 382.15L618.00 382.34L619.00 382.52L620.00 382.70L621.00 382.87L622.00 383.04L623.00 383.20L624.00 383.35L625.00 383.50L626.00 383.63L627.00 383.77L628.00 383.89L629.00 384.01L630.00 384.12L631.00 384.22L632.00 384.32L633.00 384.41L634.00 384.49L635.00 384.56L636.00 384.62L637.00 384.67L638.00 384.72L639.00 384.76L640.00 384.79L641.00 384.81L642.00 384.83L643.00 384.83L644.00 384.83L645.00 384.82L646.00 384.80L647.00 384.77L648.00 384.73L649.00 384.69L650.00 384.64L651.00 384.57L652.00 384.51L653.00 384.43L654.00 384.34L655.00 384.25L656.00 384.15L657.00 384.04L658.00 383.93L659.00 383.81L660.00 383.68L661.00 383.54L662.00 383.40L663.00 383.25L664.00 383.09L665.00 382.93L666.00 382.76L667.00 382.59L668.00 382.41L669.00 382.22L670.00 382.03L671.00 381.83L672.00 381.63L673.00 381.43L674.00 381.22L675.00 381.01L676.00 380.79L677.00 380.57L678.00 380.35L679.00 380.12L680.00 379.89L681.00 379.66L682.00 379.42L683.00 379.19L684.00 378.95L685.00 378.71L686.00 378.47L687.00 378.23L688.00 377.99L689.00 377.75L690.00 377.51L691.00 377.27L692.00 377.03L693.00 376.79L694.00 376.55L695.00 376.31L696.00 376.08L697.00 375.84L698.00 375.61L699.00 375.39L700.00 375.16L701.00 374.94L702.00 374.72L703.00 374.50L704.00 374.29L705.00 374.09L706.00 373.88L707.00 373.69L708.00 373.49L709.00 373.31L710.00 373.12L711.00 372.95L712.00 372.78L713.00 372.61L714.00 372.45L715.00 372.30L716.00 372.15L717.00 372.01L718.00 371.88L719.00 371.76L720.00 371.64L721.00 371.53L722.00 371.42L723.00 371.33L724.00 371.24L725.00 371.16L726.00 371.09L727.00 371.02L728.00 370.96L729.00 370.92L730.00 370.88L731.00 370.84L732.00 370.82L733.00 370.81L734.00 370.80L735.00 370.80L736.00 370.81L737.00 370.83L738.00 370.85L739.00 370.89L740.00 370.93L741.00 370.98L742.00 371.04L743.00 371.11L744.00 371.19L745.00 371.27L746.00 371.36L747.00 371.46L748.00 371.57L749.00 371.68L750.00 371.81L751.00 371.93L752.00 372.07L753.00 372.21L754.00 372.36L755.00 372.52L756.00 372.68L757.00 372.85L758.00 373.03L759.00 373.21L760.00 373.40L761.00 373.59L762.00 373.79L763.00 373.99L764.00 374.20L765.00 374.41L766.00 374.63L767.00 374.85L768.00 375.07L769.00 375.30L770.00 375.53L771.00 375.77L772.00 376.00L773.00 376.24L774.00 376.48L775.00 376.73L776.00 376.97L777.00 377.22L778.00 377.47L779.00 377.72L780.00 377.97L781.00 378.21L782.00 378.46L783.00 378.71L784.00 378.96L785.00 379.21L786.00 379.46L787.00 379.70L788.00 379.94L789.00 380.18L790.00 380.42L791.00 380.66L792.00 380.89L793.00 381.12L794.00 381.35L795.00 381.57L796.00 381.79L797.00 382.01L798.00 382.22L799.00 382.43L800.00 382.63L801.00 382.83L802.00 383.02L803.00 383.20L804.00 383.38L805.00 383.56L806.00 383.72L807.00 383.89L808.00 384.04L809.00 384.19L810.00 384.33L811.00 384.47L812.00 384.59L813.00 384.71L814.00 384.83L815.00 384.93L816.00 385.03L817.00 385.12L818.00 385.20L819.00 385.27L820.00 385.34L821.00 385.40L822.00 385.45L823.00 385.49L824.00 385.52L825.00 385.54L826.00 385.56L827.00 385.57L828.00 385.57L829.00 385.56L830.00 385.54L831.00 385.52L832.00 385.48L833.00 385.44L834.00 385.39L835.00 385.33L836.00 385.26L837.00 385.19L838.00 385.11L839.00 385.02L840.00 384.92L841.00 384.81L842.00 384.70L843.00 384.58L844.00 384.45L845.00 384.32L846.00 384.18L847.00 384.03L848.00 383.88L849.00 383.72L850.00 383.55L851.00 383.38L852.00 383.20L853.00 383.01L854.00 382.83L855.00 382.63L856.00 382.43L857.00 382.23L858.00 382.02L859.00 381.81L860.00 381.59L861.00 381.37L862.00 381.15L863.00 380.93L864.00 380.70L865.00 380.47L866.00 380.23L867.00 380.00L868.00 379.76L869.00 379.52L870.00 379.28L871.00 379.04L872.00 378.80L873.00 378.56L874.00 378.32L875.00 378.08L876.00 377.83L877.00 377.60L878.00 377.36L879.00 377.12L880.00 376.88L881.00 376.65L882.00 376.42L883.00 376.19L884.00 375.96L885.00 375.74L886.00 375.52L887.00 375.31L888.00 375.09L889.00 374.89L890.00 374.68L891.00 374.48L892.00 374.29L893.00 374.10L894.00 373.92L895.00 373.74L896.00 373.56L897.00 373.40L898.00 373.24L899.00 373.08L900.00 372.93L901.00 372.79L902.00 372.66L903.00 372.53L904.00 372.41L905.00 372.30L906.00 372.19L907.00 372.09L908.00 372.00L909.00 371.92L910.00 371.84L911.00 371.78L912.00 371.72L913.00 371.67L914.00 371.62L915.00 371.59L916.00 371.56L917.00 371.55L918.00 371.54L919.00 371.54L920.00 371.54L921.00 371.56L922.00 371.58L923.00 371.62L924.00 371.66L925.00 371.71L926.00 371.76L927.00 371.83L928.00 371.90L929.00 371.98L930.00 372.07L931.00 372.17L932.00 372.27L933.00 372.39L934.00 372.51L935.00 372.63L936.00 372.77L937.00 372.91L938.00 373.06L939.00 373.21L940.00 373.37L941.00 373.54L942.00 373.71L943.00 373.89L944.00 374.08L945.00 374.27L946.00 374.47L947.00 374.67L948.00 374.87L949.00 375.08L950.00 375.30L951.00 375.52L952.00 375.74L953.00 375.97L954.00 376.20L955.00 376.43L956.00 376.67L957.00 376.91L958.00 377.15L959.00 377.39L960.00 377.64L961.00 377.88L962.00 378.13L963.00 378.38L964.00 378.63L965.00 378.88L966.00 379.13L967.00 379.38L968.00 379.62L969.00 379.87L970.00 380.12L971.00 380.36L972.00 380.61L973.00 380.85L974.00 381.09L975.00 381.33L976.00 381.56L977.00 381.79L978.00 382.02L979.00 382.25L980.00 382.47L981.00 382.68L982.00 382.90L983.00 383.10L983.50 383.21"/>
<path class="c" stroke="#bf00bf" d="M100.20 530.60L100.40 529.95L100.60 529.30L100.80 528.65L101.00 528.00L101.20 527.34L101.40 526.69L101.60 526.04L101.80 525.40L102.00 524.75L102.20 524.10L102.40 523.45L102.60 522.80L102.80 522.16L103.00 521.51L103.20 520.87L103.40 520.23L103.60 519.59L103.80 518.94L104.00 518.31L104.20 517.67L104.40 517.03L104.60 516.40L104.80 515.76L105.00 515.13L105.20 514.50L105.40 513.87L105.60 513.25L105.80 512.62L106.00 512.00L106.20 511.38L106.40 510.76L106.60 510.15L106.80 509.53L107.00 508.93L107.20 508.32L107.40 507.72L107.60 507.12L107.80 506.53L108.00 505.94L108.20 505.36L108.40 504.78L108.60 504.21L108.80 503.65L109.00 503.09L109.20 502.53L109.40 501.99L109.60 501.45L109.80 500.92L110.00 500.40L110.20 499.89L110.40 499.38L110.60 498.89L110.80 498.40L111.00 497.92L111.20 497.45L111.40 496.99L111.60 496.54L111.80 496.09L112.00 495.65L112.20 495.21L112.40 494.78L112.60 494.35L112.80 493.92L113.00 493.49L113.20 493.07L113.40 492.64L113.60 492.21L113.80 491.78L114.00 491.35L114.20 490.92L114.40 490.48L114.60 490.05L114.80 489.61L115.00 489.17L115.20 488.73L115.40 488.30L115.60 487.86L115.80 487.42L116.00 486.98L116.20 486.55L116.40 486.11L116.60 485.68L116.80 485.25L117.00 484.82L117.20 484.40L117.40 483.98L117.60 483.56L117.80 483.14L118.00 482.73L118.20 482.33L118.40 481.92L118.60 481.53L118.80 481.13L119.00 480.75L119.20 480.36L119.40 479.99L119.60 479.62L119.80 479.25L120.00 478.89L120.20 478.54L120.40 478.20L120.60 477.86L120.80 477.53L121.00 477.21L121.20 476.90L121.40 476.60L121.60 476.30L121.80 476.01L122.00 475.73L122.20 475.45L122.40 475.18L122.60 474.91L122.80 474.65L123.00 474.40L123.20 474.14L123.40 473.89L123.60 473.64L123.80 473.40L124.00 473.15L124.20 472.91L124.40 472.66L124.60 472.42L124.80 472.17L125.00 471.92L125.20 471.67L125.40 471.42L125.60 471.16L125.80 470.90L126.00 470.63L126.20 470.36L126.40 470.09L126.60 469.81L126.80 469.52L127.00 469.23L127.20 468.94L127.40 468.64L127.60 468.34L127.80 468.03L128.00 467.72L128.20 467.41L128.40 467.09L128.60 466.77L128.80 466.45L129.00 466.12L129.20 465.79L129.40 465.46L129.60 465.12L129.80 464.78L130.00 464.45L130.20 464.10L130.40 463.76L130.60 463.42L130.80 463.07L131.00 462.72L131.20 462.38L131.40 462.03L131.60 461.68L131.80 461.33L132.00 460.98L132.20 460.63L132.40 460.28L132.60 459.92L132.80 459.57L133.00 459.22L133.20 458.87L133.40 458.52L133.60 458.17L133.80 457.81L134.00 457.46L134.20 457.10L134.40 456.75L134.60 456.39L134.80 456.02L135.00 455.66L135.20 455.29L135.40 454.92L135.60 454.54L135.80 454.17L136.00 453.79L136.20 453.40L136.40 453.01L136.60 452.62L136.80 452.22L137.00 451.82L137.20 451.41L137.40 450.99L137.60 450.57L137.80 450.15L138.00 449.72L138.20 449.28L138.40 448.84L138.60 448.40L138.80 447.95L139.00 447.50L139.20 447.04L139.40 446.58L139.60 446.11L139.80 445.64L140.00 445.16L140.20 444.69L140.40 444.21L140.60 443.72L140.80 443.24L141.00 442.74L141.20 442.25L141.40 441.76L141.60 441.26L141.80 440.76L142.00 440.25L142.20 439.75L142.40 439.24L142.60 438.73L142.80 438.22L143.00 437.70L143.20 437.18L143.40 436.66L143.60 436.14L143.80 435.61L144.00 435.07L144.20 434.54L144.40 434.00L144.60 433.45L144.80 432.90L145.00 432.34L145.20 431.78L145.40 431.22L145.60 430.65L145.80 430.07L146.00 429.49L146.20 428.90L146.40 428.30L146.60 427.70L146.80 427.09L147.00 426.48L147.20 425.86L147.40 425.23L147.60 424.61L147.80 423.98L148.00 423.35L148.20 422.72L148.40 422.10L148.60 421.47L148.80 420.85L149.00 420.22L149.20 419.61L149.40 418.99L149.60 418.39L149.80 417.79L150.00 417.19L150.20 416.61L150.40 416.03L150.60 415.46L150.80 414.90L151.00 414.35L151.20 413.81L151.40 413.27L151.60 412.73L151.80 412.21L152.00 411.69L152.20 411.17L152.40 410.66L152.60 410.16L152.80 409.66L153.00 409.16L153.20 408.67L153.40 408.18L153.60 407.70L153.80 407.22L154.00 406.74L154.20 406.26L154.40 405.79L154.60 405.32L154.80 404.85L155.00 404.38L155.20 403.92L155.40 403.46L155.60 403.00L155.80 402.55L156.00 402.10L156.20 401.66L156.40 401.22L156.60 400.78L156.80 400.35L157.00 399.93L157.20 399.51L157.40 399.10L157.60 398.69L157.80 398.29L158.00 397.89L158.20 397.51L158.40 397.13L158.60 396.75L158.80 396.38L159.00 396.02L159.20 395.67L159.40 395.32L159.60 394.98L159.80 394.65L160.00 394.32L160.20 394.00L160.40 393.68L160.60 393.38L160.80 393.08L161.00 392.79L161.20 392.50L161.40 392.22L161.60 391.95L161.80 391.68L162.00 391.43L162.20 391.18L162.40 390.93L162.60 390.69L162.80 390.46L163.00 390.24L163.20 390.02L163.40 389.81L163.60 389.61L163.80 389.41L164.00 389.22L164.20 389.04L164.40 388.86L164.60 388.69L164.80 388.52L165.00 388.37L165.20 388.21L165.40 388.07L165.60 387.93L165.80 387.79L166.00 387.66L166.20 387.54L166.40 387.42L166.60 387.31L166.80 387.21L167.00 387.11L167.20 387.01L167.40 386.92L167.60 386.84L167.80 386.77L168.00 386.69L168.20 386.63L168.40 386.57L168.60 386.52L168.80 386.47L169.00 386.43L169.20 386.39L169.40 386.36L169.60 386.34L169.80 386.32L170.00 386.30L170.20 386.30L170.40 386.30L170.60 386.30L170.80 386.31L171.00 386.32L171.20 386.34L171.40 386.37L171.60 386.40L171.80 386.44L172.00 386.48L172.20 386.52L172.40 386.58L172.60 386.63L172.80 386.69L173.00 386.76L173.20 386.83L173.40 386.90L173.60 386.98L173.80 387.07L174.00 387.15L174.20 387.25L174.40 387.34L174.60 387.44L174.80 387.55L175.00 387.66L175.20 387.77L175.40 387.89L175.60 388.01L175.80 388.13L176.00 388.26L176.20 388.39L176.40 388.52L176.60 388.66L176.80 388.80L177.00 388.94L177.20 389.09L177.40 389.24L177.60 389.39L177.80 389.54L178.00 389.70L178.20 389.86L178.40 390.02L178.60 390.19L178.80 390.35L179.00 390.52L179.20 390.69L179.40 390.86L179.60 391.03L179.80 391.21L180.00 391.38L180.20 391.56L180.40 391.73L180.60 391.91L180.80 392.08L181.00 392.26L181.20 392.44L181.40 392.62L181.60 392.79L181.80 392.97L182.00 393.14L182.20 393.32L182.40 393.49L182.60 393.66L182.80 393.83L183.00 394.00L183.20 394.17L183.40 394.34L183.60 394.50L183.80 394.66L184.00 394.82L184.20 394.98L184.40 395.13L184.60 395.29L184.80 395.44L185.00 395.58L185.20 395.73L185.40 395.87L185.60 396.02L185.80 396.15L186.00 396.29L186.20 396.42L186.40 396.56L186.60 396.69L186.80 396.81L187.00 396.94L187.20 397.06L187.40 397.18L187.60 397.30L187.80 397.41L188.00 397.52L188.20 397.63L188.40 397.74L188.60 397.84L188.80 397.94L189.00 398.04L189.20 398.14L189.40 398.23L189.60 398.33L189.80 398.41L190.00 398.50L190.20 398.58L190.40 398.66L190.60 398.74L190.80 398.82L191.00 398.89L191.20 398.96L191.40 399.02L191.60 399.09L191.80 399.15L192.00 399.21L192.20 399.26L192.40 399.31L192.60 399.36L192.80 399.40L193.00 399.45L193.20 399.49L193.40 399.52L193.60 399.55L193.80 399.58L194.00 399.61L194.20 399.63L194.40 399.65L194.60 399.67L194.80 399.68L195.00 399.69L195.20 399.70L195.40 399.70L195.60 399.70L195.80 399.70L196.00 399.69L196.20 399.68L196.40 399.66L196.60 399.64L196.80 399.62L197.00 399.59L197.20 399.57L197.40 399.53L197.60 399.49L197.80 399.45L198.00 399.41L198.20 399.36L198.40 399.31L198.60 399.25L198.80 399.19L199.00 399.13L199.20 399.06L199.40 398.99L199.60 398.92L199.80 398.84L200.00 398.75L200.20 398.67L200.40 398.58L200.60 398.48L200.80 398.38L201.00 398.28L201.20 398.17L201.40 398.06L201.60 397.94L201.80 397.82L202.00 397.70L202.20 397.57L202.40 397.44L202.60 397.30L202.80 397.16L203.00 397.02L203.20 396.87L203.40 396.72L203.60 396.57L203.80 396.41L204.00 396.25L204.20 396.09L204.40 395.92L204.60 395.75L204.80 395.58L205.00 395.41L205.20 395.23L205.40 395.05L205.60 394.87L205.80 394.69L206.00 394.50L206.20 394.32L206.40 394.13L206.60 393.94L206.80 393.75L207.00 393.56L207.20 393.37L207.40 393.18L207.60 392.98L207.80 392.79L208.00 392.59L208.20 392.39L208.40 392.20L208.60 392.00L208.80 391.81L209.00 391.61L209.20 391.41L209.40 391.21L209.60 391.02L209.80 390.82L210.00 390.62L210.20 390.42L210.40 390.23L210.60 390.03L210.80 389.83L211.00 389.63L211.20 389.43L211.40 389.23L211.60 389.03L211.80 388.83L212.00 388.63L212.20 388.43L212.40 388.23L212.60 388.03L212.80 387.83L213.00 387.63L213.20 387.43L213.40 387.23L213.60 387.02L213.80 386.82L214.00 386.62L214.20 386.42L214.40 386.21L214.60 386.01L214.80 385.80L215.00 385.60L215.20 385.39L215.40 385.19L215.60 384.98L215.80 384.77L216.00 384.57L216.20 384.36L216.40 384.15L216.60 383.95L216.80 383.74L217.00 383.53L217.20 383.33L217.40 383.12L217.60 382.91L217.80 382.71L218.00 382.50L218.20 382.30L218.40 382.09L218.60 381.89L218.80 381.68L219.00 381.48L219.20 381.28L219.40 381.08L219.60 380.87L219.80 380.67L220.00 380.47L220.20 380.28L220.40 380.08L220.60 379.88L220.80 379.68L221.00 379.49L221.20 379.30L221.40 379.10L221.60 378.91L221.80 378.72L222.00 378.53L222.20 378.35L222.40 378.16L222.60 377.97L222.80 377.79L223.00 377.61L223.20 377.42L223.40 377.24L223.60 377.06L223.80 376.88L224.00 376.71L224.20 376.53L224.40 376.35L224.60 376.18L224.80 376.01L225.00 375.83L225.20 375.66L225.40 375.49L225.60 375.32L225.80 375.15L226.00 374.99L226.20 374.82L226.40 374.65L226.60 374.49L226.80 374.33L227.00 374.16L227.20 374.00L227.40 373.84L227.60 373.68L227.80 373.52L228.00 373.36L228.20 373.20L228.40 373.05L228.60 372.89L228.80 372.74L229.00 372.58L229.20 372.43L229.40 372.28L229.60 372.13L229.80 371.98L230.00 371.84L230.20 371.69L230.40 371.55L230.60 371.40L230.80 371.26L231.00 371.12L231.20 370.99L231.40 370.85L231.60 370.71L231.80 370.58L232.00 370.45L232.20 370.32L232.40 370.20L232.60 370.07L232.80 369.95L233.00 369.83L233.20 369.71L233.40 369.59L233.60 369.48L233.80 369.36L234.00 369.25L234.20 369.15L234.40 369.04L234.60 368.94L234.80 368.84L235.00 368.74L235.20 368.64L235.40 368.55L235.60 368.46L235.80 368.37L236.00 368.28L236.20 368.20L236.40 368.11L236.60 368.03L236.80 367.95L237.00 367.87L237.20 367.80L237.40 367.72L237.60 367.65L237.80 367.58L238.00 367.51L238.20 367.45L238.40 367.38L238.60 367.32L238.80 367.26L239.00 367.20L239.20 367.14L239.40 367.08L239.60 367.03L239.80 366.98L240.00 366.92L240.20 366.87L240.40 366.82L240.60 366.78L240.80 366.73L241.00 366.68L241.20 366.64L241.40 366.60L241.60 366.56L241.80 366.52L242.00 366.48L242.20 366.44L242.40 366.41L242.60 366.37L242.80 366.34L243.00 366.31L243.20 366.28L243.40 366.25L243.60 366.22L243.80 366.20L244.00 366.18L244.20 366.15L244.40 366.13L244.60 366.11L244.80 366.10L245.00 366.08L245.20 366.06L245.40 366.05L245.60 366.04L245.80 366.03L246.00 366.02L246.20 366.01L246.40 366.01L246.60 366.00L246.80 366.00L247.00 366.00L247.20 366.00L247.40 366.00L247.60 366.01L247.80 366.01L248.00 366.02L248.20 366.03L248.40 366.04L248.60 366.05L248.80 366.06L249.00 366.07L249.20 366.09L249.40 366.10L249.60 366.12L249.80 366.14L250.00 366.16L250.20 366.18L250.40 366.20L250.60 366.23L250.80 366.25L251.00 366.28L251.20 366.30L251.40 366.33L251.60 366.36L251.80 366.39L252.00 366.42L252.20 366.45L252.40 366.48L252.60 366.51L252.80 366.55L253.00 366.58L253.20 366.61L253.40 366.65L253.60 366.69L253.80 366.72L254.00 366.76L254.20 366.80L254.40 366.84L254.60 366.88L254.80 366.92L255.00 366.96L255.20 367.00L255.40 367.04L255.60 367.08L255.80 367.12L256.00 367.16L256.20 367.21L256.40 367.25L256.60 367.29L256.80 367.34L257.00 367.38L257.20 367.42L257.40 367.47L257.60 367.51L257.80 367.56L258.00 367.60L258.20 367.64L258.40 367.69L258.60 367.73L258.80 367.78L259.00 367.82L259.20 367.87L259.40 367.91L259.60 367.95L259.80 368.00L260.00 368.04L261.00 368.27L262.00 368.49L263.00 368.71L264.00 368.93L265.00 369.16L266.00 369.38L267.00 369.60L268.00 369.82L269.00 370.03L270.00 370.25L271.00 370.46L272.00 370.67L273.00 370.88L274.00 371.09L275.00 371.29L276.00 371.49L277.00 371.68L278.00 371.87L279.00 372.06L280.00 372.24L281.00 372.42L282.00 372.60L283.00 372.77L284.00 372.94L285.00 373.11L286.00 373.27L287.00 373.43L288.00 373.59L289.00 373.74L290.00 373.90L291.00 374.05L292.00 374.20L293.00 374.34L294.00 374.49L295.00 374.63L296.00 374.77L297.00 374.91L298.00 375.04L299.00 375.18L300.00 375.31L301.00 375.45L302.00 375.58L303.00 375.71L304.00 375.84L305.00 375.97L306.00 376.10L307.00 376.23L308.00 376.36L309.00 376.49L310.00 376.62L311.00 376.74L312.00 376.87L313.00 377.00L314.00 377.12L315.00 377.25L316.00 377.37L317.00 377.49L318.00 377.60L319.00 377.72L320.00 377.83L321.00 377.93L322.00 378.04L323.00 378.14L324.00 378.23L325.00 378.32L326.00 378.41L327.00 378.48L328.00 378.56L329.00 378.62L330.00 378.69L331.00 378.74L332.00 378.79L333.00 378.83L334.00 378.86L335.00 378.88L336.00 378.90L337.00 378.90L338.00 378.90L339.00 378.89L340.00 378.87L341.00 378.84L342.00 378.80L343.00 378.75L344.00 378.70L345.00 378.64L346.00 378.57L347.00 378.49L348.00 378.41L349.00 378.32L350.00 378.22L351.00 378.12L352.00 378.01L353.00 377.90L354.00 377.78L355.00 377.66L356.00 377.53L357.00 377.40L358.00 377.27L359.00 377.13L360.00 376.98L361.00 376.84L362.00 376.69L363.00 376.54L364.00 376.39L365.00 376.23L366.00 376.07L367.00 375.91L368.00 375.75L369.00 375.59L370.00 375.43L371.00 375.27L372.00 375.11L373.00 374.95L374.00 374.79L375.00 374.63L376.00 374.47L377.00 374.31L378.00 374.15L379.00 374.00L380.00 373.84L381.00 373.69L382.00 373.54L383.00 373.39L384.00 373.24L385.00 373.10L386.00 372.96L387.00 372.82L388.00 372.68L389.00 372.55L390.00 372.41L391.00 372.29L392.00 372.16L393.00 372.04L394.00 371.92L395.00 371.81L396.00 371.70L397.00 371.59L398.00 371.49L399.00 371.39L400.00 371.30L401.00 371.21L402.00 371.12L403.00 371.04L404.00 370.97L405.00 370.90L406.00 370.84L407.00 370.78L408.00 370.73L409.00 370.68L410.00 370.65L411.00 370.62L412.00 370.60L413.00 370.60L414.00 370.60L415.00 370.61L416.00 370.64L417.00 370.67L418.00 370.72L419.00 370.78L420.00 370.84L421.00 370.92L422.00 371.00L423.00 371.10L424.00 371.20L425.00 371.31L426.00 371.43L427.00 371.56L428.00 371.70L429.00 371.84L430.00 371.99L431.00 372.15L432.00 372.31L433.00 372.48L434.00 372.65L435.00 372.83L436.00 373.02L437.00 373.21L438.00 373.41L439.00 373.61L440.00 373.81L441.00 374.02L442.00 374.23L443.00 374.45L444.00 374.66L445.00 374.88L446.00 375.11L447.00 375.33L448.00 375.56L449.00 375.78L450.00 376.01L451.00 376.24L452.00 376.47L453.00 376.70L454.00 376.93L455.00 377.16L456.00 377.39L457.00 377.62L458.00 377.85L459.00 378.08L460.00 378.30L461.00 378.52L462.00 378.75L463.00 378.96L464.00 379.18L465.00 379.39L466.00 379.60L467.00 379.81L468.00 380.01L469.00 380.21L470.00 380.41L471.00 380.60L472.00 380.79L473.00 380.98L474.00 381.16L475.00 381.34L476.00 381.51L477.00 381.67L478.00 381.84L479.00 381.99L480.00 382.14L481.00 382.29L482.00 382.43L483.00 382.56L484.00 382.69L485.00 382.81L486.00 382.93L487.00 383.04L488.00 383.14L489.00 383.24L490.00 383.33L491.00 383.41L492.00 383.49L493.00 383.55L494.00 383.61L495.00 383.67L496.00 383.71L497.00 383.75L498.00 383.78L499.00 383.80L500.00 383.81L501.00 383.81L502.00 383.81L503.00 383.79L504.00 383.77L505.00 383.73L506.00 383.69L507.00 383.64L508.00 383.58L509.00 383.52L510.00 383.44L511.00 383.36L512.00 383.27L513.00 383.17L514.00 383.07L515.00 382.96L516.00 382.84L517.00 382.72L518.00 382.59L519.00 382.46L520.00 382.31L521.00 382.17L522.00 382.02L523.00 381.86L524.00 381.70L525.00 381.53L526.00 381.35L527.00 381.18L528.00 381.00L529.00 380.81L530.00 380.62L531.00 380.43L532.00 380.23L533.00 380.02L534.00 379.82L535.00 379.61L536.00 379.40L537.00 379.18L538.00 378.96L539.00 378.74L540.00 378.52L541.00 378.29L542.00 378.06L543.00 377.83L544.00 377.60L545.00 377.36L546.00 377.13L547.00 376.89L548.00 376.65L549.00 376.42L550.00 376.18L551.00 375.94L552.00 375.70L553.00 375.46L554.00 375.22L555.00 374.99L556.00 374.75L557.00 374.52L558.00 374.28L559.00 374.05L560.00 373.82L561.00 373.60L562.00 373.37L563.00 373.15L564.00 372.94L565.00 372.72L566.00 372.51L567.00 372.31L568.00 372.11L569.00 371.92L570.00 371.73L571.00 371.55L572.00 371.37L573.00 371.20L574.00 371.04L575.00 370.88L576.00 370.73L577.00 370.59L578.00 370.46L579.00 370.34L580.00 370.22L581.00 370.11L582.00 370.01L583.00 369.91L584.00 369.83L585.00 369.75L586.00 369.68L587.00 369.62L588.00 369.57L589.00 369.52L590.00 369.49L591.00 369.46L592.00 369.45L593.00 369.44L594.00 369.44L595.00 369.44L596.00 369.46L597.00 369.49L598.00 369.52L599.00 369.56L600.00 369.62L601.00 369.68L602.00 369.75L603.00 369.82L604.00 369.91L605.00 370.00L606.00 370.10L607.00 370.21L608.00 370.33L609.00 370.46L610.00 370.59L611.00 370.73L612.00 370.88L613.00 371.03L614.00 371.19L615.00 371.36L616.00 371.54L617.00 371.72L618.00 371.91L619.00 372.10L620.00 372.30L621.00 372.51L622.00 372.72L623.00 372.93L624.00 373.15L625.00 373.38L626.00 373.61L627.00 373.84L628.00 374.08L629.00 374.32L630.00 374.56L631.00 374.81L632.00 375.06L633.00 375.31L634.00 375.57L635.00 375.82L636.00 376.08L637.00 376.34L638.00 376.60L639.00 376.86L640.00 377.12L641.00 377.38L642.00 377.65L643.00 377.91L644.00 378.17L645.00 378.43L646.00 378.68L647.00 378.94L648.00 379.19L649.00 379.44L650.00 379.69L651.00 379.94L652.00 380.18L653.00 380.42L654.00 380.66L655.00 380.89L656.00 381.12L657.00 381.35L658.00 381.56L659.00 381.78L660.00 381.99L661.00 382.19L662.00 382.39L663.00 382.58L664.00 382.77L665.00 382.95L666.00 383.12L667.00 383.29L668.00 383.45L669.00 383.60L670.00 383.75L671.00 383.89L672.00 384.02L673.00 384.14L674.00 384.26L675.00 384.37L676.00 384.47L677.00 384.56L678.00 384.64L679.00 384.72L680.00 384.78L681.00 384.84L682.00 384.89L683.00 384.93L684.00 384.96L685.00 384.99L686.00 385.00L687.00 385.01L688.00 385.01L689.00 384.99L690.00 384.97L691.00 384.95L692.00 384.91L693.00 384.86L694.00 384.81L695.00 384.75L696.00 384.67L697.00 384.59L698.00 384.51L699.00 384.41L700.00 384.31L701.00 384.20L702.00 384.08L703.00 383.95L704.00 383.82L705.00 383.67L706.00 383.52L707.00 383.37L708.00 383.21L709.00 383.04L710.00 382.86L711.00 382.68L712.00 382.49L713.00 382.30L714.00 382.10L715.00 381.90L716.00 381.69L717.00 381.48L718.00 381.26L719.00 381.03L720.00 380.81L721.00 380.58L722.00 380.34L723.00 380.11L724.00 379.87L725.00 379.63L726.00 379.38L727.00 379.13L728.00 378.88L729.00 378.63L730.00 378.38L731.00 378.13L732.00 377.88L733.00 377.62L734.00 377.37L735.00 377.12L736.00 376.87L737.00 376.61L738.00 376.36L739.00 376.11L740.00 375.87L741.00 375.62L742.00 375.38L743.00 375.14L744.00 374.90L745.00 374.66L746.00 374.43L747.00 374.21L748.00 373.98L749.00 373.76L750.00 373.55L751.00 373.34L752.00 373.13L753.00 372.93L754.00 372.74L755.00 372.55L756.00 372.37L757.00 372.19L758.00 372.02L759.00 371.86L760.00 371.70L761.00 371.55L762.00 371.40L763.00 371.27L764.00 371.14L765.00 371.02L766.00 370.90L767.00 370.80L768.00 370.70L769.00 370.61L770.00 370.53L771.00 370.46L772.00 370.39L773.00 370.34L774.00 370.29L775.00 370.25L776.00 370.22L777.00 370.20L778.00 370.18L779.00 370.18L780.00 370.18L781.00 370.19L782.00 370.22L783.00 370.25L784.00 370.28L785.00 370.33L786.00 370.39L787.00 370.45L788.00 370.52L789.00 370.61L790.00 370.70L791.00 370.79L792.00 370.90L793.00 371.01L794.00 371.13L795.00 371.26L796.00 371.40L797.00 371.54L798.00 371.70L799.00 371.85L800.00 372.02L801.00 372.19L802.00 372.37L803.00 372.56L804.00 372.75L805.00 372.94L806.00 373.15L807.00 373.35L808.00 373.57L809.00 373.78L810.00 374.01L811.00 374.23L812.00 374.47L813.00 374.70L814.00 374.94L815.00 375.18L816.00 375.43L817.00 375.68L818.00 375.93L819.00 376.18L820.00 376.44L821.00 376.69L822.00 376.95L823.00 377.21L824.00 377.47L825.00 377.73L826.00 378.00L827.00 378.26L828.00 378.52L829.00 378.78L830.00 379.04L831.00 379.30L832.00 379.55L833.00 379.81L834.00 380.06L835.00 380.31L836.00 380.56L837.00 380.80L838.00 381.05L839.00 381.28L840.00 381.52L841.00 381.75L842.00 381.98L843.00 382.20L844.00 382.41L845.00 382.63L846.00 382.83L847.00 383.03L848.00 383.23L849.00 383.42L850.00 383.60L851.00 383.78L852.00 383.95L853.00 384.11L854.00 384.27L855.00 384.42L856.00 384.56L857.00 384.70L858.00 384.82L859.00 384.94L860.00 385.06L861.00 385.16L862.00 385.25L863.00 385.34L864.00 385.42L865.00 385.49L866.00 385.55L867.00 385.61L868.00 385.65L869.00 385.69L870.00 385.72L871.00 385.74L872.00 385.75L873.00 385.75L874.00 385.74L875.00 385.73L876.00 385.70L877.00 385.67L878.00 385.63L879.00 385.58L880.00 385.52L881.00 385.45L882.00 385.38L883.00 385.29L884.00 385.20L885.00 385.10L886.00 384.99L887.00 384.88L888.00 384.76L889.00 384.63L890.00 384.49L891.00 384.34L892.00 384.19L893.00 384.03L894.00 383.87L895.00 383.69L896.00 383.51L897.00 383.33L898.00 383.14L899.00 382.94L900.00 382.74L901.00 382.54L902.00 382.33L903.00 382.11L904.00 381.89L905.00 381.66L906.00 381.44L907.00 381.20L908.00 380.97L909.00 380.73L910.00 380.49L911.00 380.25L912.00 380.00L913.00 379.75L914.00 379.50L915.00 379.25L916.00 379.00L917.00 378.75L918.00 378.49L919.00 378.24L920.00 377.99L921.00 377.73L922.00 377.48L923.00 377.23L924.00 376.98L925.00 376.73L926.00 376.49L927.00 376.24L928.00 376.00L929.00 375.76L930.00 375.52L931.00 375.29L932.00 375.06L933.00 374.84L934.00 374.61L935.00 374.40L936.00 374.19L937.00 373.98L938.00 373.77L939.00 373.58L940.00 373.39L941.00 373.20L942.00 373.02L943.00 372.85L944.00 372.68L945.00 372.52L946.00 372.36L947.00 372.22L948.00 372.08L949.00 371.95L950.00 371.82L951.00 371.70L952.00 371.59L953.00 371.49L954.00 371.40L955.00 371.31L956.00 371.23L957.00 371.17L958.00 371.10L959.00 371.05L960.00 371.01L961.00 370.97L962.00 370.95L963.00 370.93L964.00 370.92L965.00 370.92L966.00 370.93L967.00 370.95L968.00 370.97L969.00 371.01L970.00 371.05L971.00 371.10L972.00 371.16L973.00 371.23L974.00 371.31L975.00 371.39L976.00 371.49L977.00 371.59L978.00 371.70L979.00 371.81L980.00 371.94L981.00 372.07L982.00 372.21L983.00 372.36L983.50 372.44"/>
<path class="c" stroke="#bfbf00" d="M100.20 517.00L100.40 514.00L100.60 511.02L100.80 508.08L101.00 505.18L101.20 502.35L101.40 499.60L101.60 496.94L101.80 494.41L102.00 492.00L102.20 489.73L102.40 487.59L102.60 485.56L102.80 483.60L103.00 481.69L103.20 479.83L103.40 477.97L103.60 476.10L103.80 474.20L104.00 472.27L104.20 470.32L104.40 468.33L104.60 466.33L104.80 464.31L105.00 462.28L105.20 460.23L105.40 458.18L105.60 456.12L105.80 454.06L106.00 452.00L106.20 449.95L106.40 447.90L106.60 445.86L106.80 443.82L107.00 441.80L107.20 439.79L107.40 437.79L107.60 435.80L107.80 433.83L108.00 431.87L108.20 429.92L108.40 428.00L108.60 426.09L108.80 424.19L109.00 422.28L109.20 420.34L109.40 418.37L109.60 416.35L109.80 414.26L110.00 412.10L110.20 409.85L110.40 407.53L110.60 405.14L110.80 402.71L111.00 400.24L111.20 397.76L111.40 395.29L111.60 392.82L111.80 390.39L112.00 388.00L112.20 385.67L112.40 383.40L112.60 381.19L112.80 379.04L113.00 376.95L113.20 374.92L113.40 372.95L113.60 371.04L113.80 369.19L114.00 367.40L114.20 365.67L114.40 364.00L114.60 362.39L114.80 360.83L115.00 359.31L115.20 357.83L115.40 356.38L115.60 354.94L115.80 353.52L116.00 352.10L116.20 350.68L116.40 349.26L116.60 347.84L116.80 346.44L117.00 345.05L117.20 343.68L117.40 342.33L117.60 341.02L117.80 339.74L118.00 338.50L118.20 337.30L118.40 336.15L118.60 335.02L118.80 333.92L119.00 332.85L119.20 331.79L119.40 330.74L119.60 329.70L119.80 328.66L120.00 327.63L120.20 326.63L120.40 325.66L120.60 324.74L120.80 323.88L121.00 323.10L121.20 322.40L121.40 321.80L121.60 321.29L121.80 320.85L122.00 320.49L122.20 320.19L122.40 319.94L122.60 319.74L122.80 319.56L123.00 319.41L123.20 319.27L123.40 319.13L123.60 319.00L123.80 318.87L124.00 318.74L124.20 318.63L124.40 318.52L124.60 318.44L124.80 318.37L125.00 318.32L125.20 318.30L125.40 318.31L125.60 318.34L125.80 318.41L126.00 318.51L126.20 318.64L126.40 318.81L126.60 319.01L126.80 319.25L127.00 319.52L127.20 319.83L127.40 320.18L127.60 320.56L127.80 320.98L128.00 321.43L128.20 321.90L128.40 322.40L128.60 322.91L128.80 323.44L129.00 323.98L129.20 324.52L129.40 325.08L129.60 325.63L129.80 326.19L130.00 326.76L130.20 327.33L130.40 327.92L130.60 328.52L130.80 329.13L131.00 329.75L131.20 330.40L131.40 331.06L131.60 331.75L131.80 332.46L132.00 333.19L132.20 333.94L132.40 334.71L132.60 335.50L132.80 336.30L133.00 337.11L133.20 337.93L133.40 338.76L133.60 339.60L133.80 340.44L134.00 341.28L134.20 342.12L134.40 342.96L134.60 343.80L134.80 344.64L135.00 345.49L135.20 346.34L135.40 347.20L135.60 348.06L135.80 348.94L136.00 349.82L136.20 350.72L136.40 351.64L136.60 352.57L136.80 353.51L137.00 354.47L137.20 355.44L137.40 356.43L137.60 357.42L137.80 358.42L138.00 359.43L138.20 360.44L138.40 361.45L138.60 362.47L138.80 363.49L139.00 364.51L139.20 365.52L139.40 366.54L139.60 367.55L139.80 368.56L140.00 369.56L140.20 370.56L140.40 371.56L140.60 372.55L140.80 373.54L141.00 374.53L141.20 375.51L141.40 376.49L141.60 377.46L141.80 378.42L142.00 379.38L142.20 380.33L142.40 381.27L142.60 382.21L142.80 383.13L143.00 384.04L143.20 384.95L143.40 385.84L143.60 386.72L143.80 387.58L144.00 388.43L144.20 389.27L144.40 390.09L144.60 390.90L144.80 391.69L145.00 392.47L145.20 393.23L145.40 393.97L145.60 394.71L145.80 395.43L146.00 396.13L146.20 396.83L146.40 397.51L146.60 398.18L146.80 398.84L147.00 399.49L147.20 400.13L147.40 400.77L147.60 401.39L147.80 402.01L148.00 402.62L148.20 403.22L148.40 403.81L148.60 404.39L148.80 404.97L149.00 405.53L149.20 406.09L149.40 406.63L149.60 407.17L149.80 407.69L150.00 408.21L150.20 408.71L150.40 409.20L150.60 409.68L150.80 410.15L151.00 410.61L151.20 411.05L151.40 411.48L151.60 411.90L151.80 412.30L152.00 412.69L152.20 413.07L152.40 413.43L152.60 413.78L152.80 414.12L153.00 414.44L153.20 414.75L153.40 415.05L153.60 415.34L153.80 415.61L154.00 415.87L154.20 416.12L154.40 416.36L154.60 416.58L154.80 416.80L155.00 417.00L155.20 417.19L155.40 417.37L155.60 417.54L155.80 417.69L156.00 417.84L156.20 417.97L156.40 418.10L156.60 418.21L156.80 418.31L157.00 418.40L157.20 418.48L157.40 418.55L157.60 418.60L157.80 418.65L158.00 418.69L158.20 418.71L158.40 418.73L158.60 418.73L158.80 418.72L159.00 418.70L159.20 418.67L159.40 418.63L159.60 418.58L159.80 418.52L160.00 418.44L160.20 418.35L160.40 418.25L160.60 418.14L160.80 418.02L161.00 417.88L161.20 417.73L161.40 417.57L161.60 417.39L161.80 417.21L162.00 417.01L162.20 416.79L162.40 416.56L162.60 416.32L162.80 416.07L163.00 415.81L163.20 415.53L163.40 415.24L163.60 414.94L163.80 414.64L164.00 414.32L164.20 413.99L164.40 413.66L164.60 413.31L164.80 412.96L165.00 412.60L165.20 412.23L165.40 411.86L165.60 411.48L165.80 411.09L166.00 410.70L166.20 410.30L166.40 409.90L166.60 409.49L166.80 409.08L167.00 408.67L167.20 408.25L167.40 407.82L167.60 407.39L167.80 406.96L168.00 406.52L168.20 406.08L168.40 405.64L168.60 405.19L168.80 404.73L169.00 404.28L169.20 403.82L169.40 403.35L169.60 402.88L169.80 402.41L170.00 401.94L170.20 401.46L170.40 400.98L170.60 400.50L170.80 400.01L171.00 399.52L171.20 399.04L171.40 398.55L171.60 398.06L171.80 397.57L172.00 397.08L172.20 396.59L172.40 396.11L172.60 395.62L172.80 395.14L173.00 394.66L173.20 394.19L173.40 393.71L173.60 393.25L173.80 392.78L174.00 392.33L174.20 391.87L174.40 391.43L174.60 390.99L174.80 390.55L175.00 390.11L175.20 389.67L175.40 389.24L175.60 388.80L175.80 388.37L176.00 387.93L176.20 387.49L176.40 387.04L176.60 386.59L176.80 386.13L177.00 385.67L177.20 385.19L177.40 384.71L177.60 384.22L177.80 383.72L178.00 383.20L178.20 382.67L178.40 382.13L178.60 381.59L178.80 381.03L179.00 380.47L179.20 379.91L179.40 379.35L179.60 378.79L179.80 378.23L180.00 377.68L180.20 377.13L180.40 376.60L180.60 376.08L180.80 375.56L181.00 375.06L181.20 374.57L181.40 374.09L181.60 373.62L181.80 373.16L182.00 372.70L182.20 372.25L182.40 371.81L182.60 371.38L182.80 370.96L183.00 370.54L183.20 370.12L183.40 369.72L183.60 369.31L183.80 368.91L184.00 368.52L184.20 368.13L184.40 367.74L184.60 367.35L184.80 366.97L185.00 366.58L185.20 366.20L185.40 365.82L185.60 365.44L185.80 365.06L186.00 364.68L186.20 364.30L186.40 363.92L186.60 363.55L186.80 363.17L187.00 362.80L187.20 362.43L187.40 362.06L187.60 361.69L187.80 361.32L188.00 360.95L188.20 360.59L188.40 360.23L188.60 359.87L188.80 359.51L189.00 359.15L189.20 358.80L189.40 358.44L189.60 358.09L189.80 357.75L190.00 357.40L190.20 357.06L190.40 356.72L190.60 356.38L190.80 356.05L191.00 355.71L191.20 355.39L191.40 355.06L191.60 354.74L191.80 354.43L192.00 354.12L192.20 353.81L192.40 353.51L192.60 353.21L192.80 352.92L193.00 352.64L193.20 352.36L193.40 352.08L193.60 351.82L193.80 351.55L194.00 351.30L194.20 351.05L194.40 350.81L194.60 350.58L194.80 350.35L195.00 350.12L195.20 349.91L195.40 349.69L195.60 349.49L195.80 349.28L196.00 349.09L196.20 348.89L196.40 348.70L196.60 348.52L196.80 348.33L197.00 348.16L197.20 347.98L197.40 347.81L197.60 347.64L197.80 347.47L198.00 347.30L198.20 347.14L198.40 346.97L198.60 346.81L198.80 346.65L199.00 346.49L199.20 346.34L199.40 346.19L199.60 346.04L199.80 345.89L200.00 345.74L200.20 345.60L200.40 345.46L200.60 345.32L200.80 345.19L201.00 345.06L201.20 344.93L201.40 344.80L201.60 344.68L201.80 344.56L202.00 344.44L202.20 344.33L202.40 344.22L202.60 344.11L202.80 344.01L203.00 343.91L203.20 343.82L203.40 343.73L203.60 343.64L203.80 343.56L204.00 343.48L204.20 343.41L204.40 343.33L204.60 343.27L204.80 343.20L205.00 343.14L205.20 343.08L205.40 343.03L205.60 342.98L205.80 342.93L206.00 342.88L206.20 342.84L206.40 342.80L206.60 342.76L206.80 342.72L207.00 342.69L207.20 342.66L207.40 342.62L207.60 342.59L207.80 342.57L208.00 342.54L208.20 342.51L208.40 342.49L208.60 342.46L208.80 342.44L209.00 342.42L209.20 342.40L209.40 342.38L209.60 342.35L209.80 342.33L210.00 342.31L210.20 342.29L210.40 342.27L210.60 342.25L210.80 342.22L211.00 342.20L211.20 342.18L211.40 342.16L211.60 342.14L211.80 342.12L212.00 342.10L212.20 342.08L212.40 342.07L212.60 342.05L212.80 342.04L213.00 342.03L213.20 342.02L213.40 342.01L213.60 342.01L213.80 342.00L214.00 342.00L214.20 342.00L214.40 342.00L214.60 342.01L214.80 342.02L215.00 342.03L215.20 342.04L215.40 342.06L215.60 342.08L215.80 342.10L216.00 342.12L216.20 342.14L216.40 342.17L216.60 342.20L216.80 342.23L217.00 342.26L217.20 342.29L217.40 342.33L217.60 342.37L217.80 342.41L218.00 342.45L218.20 342.49L218.40 342.53L218.60 342.58L218.80 342.63L219.00 342.68L219.20 342.73L219.40 342.78L219.60 342.83L219.80 342.89L220.00 342.94L220.20 343.00L220.40 343.06L220.60 343.12L220.80 343.18L221.00 343.24L221.20 343.31L221.40 343.37L221.60 343.43L221.80 343.50L222.00 343.57L222.20 343.63L222.40 343.70L222.60 343.77L222.80 343.84L223.00 343.91L223.20 343.98L223.40 344.06L223.60 344.13L223.80 344.20L224.00 344.28L224.20 344.35L224.40 344.43L224.60 344.50L224.80 344.58L225.00 344.66L225.20 344.74L225.40 344.82L225.60 344.90L225.80 344.98L226.00 345.06L226.20 345.14L226.40 345.23L226.60 345.31L226.80 345.39L227.00 345.48L227.20 345.57L227.40 345.65L227.60 345.74L227.80 345.83L228.00 345.91L228.20 346.00L228.40 346.09L228.60 346.18L228.80 346.28L229.00 346.37L229.20 346.46L229.40 346.55L229.60 346.65L229.80 346.74L230.00 346.83L230.20 346.93L230.40 347.03L230.60 347.12L230.80 347.22L231.00 347.32L231.20 347.41L231.40 347.51L231.60 347.61L231.80 347.71L232.00 347.81L232.20 347.91L232.40 348.02L232.60 348.12L232.80 348.22L233.00 348.32L233.20 348.43L233.40 348.53L233.60 348.64L233.80 348.74L234.00 348.85L234.20 348.95L234.40 349.06L234.60 349.17L234.80 349.27L235.00 349.38L235.20 349.49L235.40 349.60L235.60 349.71L235.80 349.82L236.00 349.93L236.20 350.04L236.40 350.15L236.60 350.26L236.80 350.37L237.00 350.49L237.20 350.60L237.40 350.71L237.60 350.82L237.80 350.94L238.00 351.05L238.20 351.16L238.40 351.28L238.60 351.39L238.80 351.50L239.00 351.62L239.20 351.73L239.40 351.85L239.60 351.96L239.80 352.08L240.00 352.19L240.20 352.31L240.40 352.42L240.60 352.54L240.80 352.66L241.00 352.77L241.20 352.89L241.40 353.00L241.60 353.12L241.80 353.23L242.00 353.35L242.20 353.47L242.40 353.58L242.60 353.70L242.80 353.81L243.00 353.93L243.20 354.04L243.40 354.16L243.60 354.27L243.80 354.39L244.00 354.50L244.20 354.62L244.40 354.73L244.60 354.85L244.80 354.96L245.00 355.08L245.20 355.19L245.40 355.30L245.60 355.42L245.80 355.53L246.00 355.64L246.20 355.76L246.40 355.87L246.60 355.98L246.80 356.09L247.00 356.20L247.20 356.32L247.40 356.43L247.60 356.54L247.80 356.65L248.00 356.76L248.20 356.87L248.40 356.98L248.60 357.09L248.80 357.21L249.00 357.32L249.20 357.43L249.40 357.54L249.60 357.65L249.80 357.76L250.00 357.87L250.20 357.98L250.40 358.10L250.60 358.21L250.80 358.32L251.00 358.43L251.20 358.54L251.40 358.66L251.60 358.77L251.80 358.88L252.00 359.00L252.20 359.11L252.40 359.23L252.60 359.34L252.80 359.46L253.00 359.58L253.20 359.69L253.40 359.81L253.60 359.93L253.80 360.05L254.00 360.16L254.20 360.28L254.40 360.40L254.60 360.52L254.80 360.65L255.00 360.77L255.20 360.89L255.40 361.01L255.60 361.14L255.80 361.26L256.00 361.39L256.20 361.52L256.40 361.64L256.60 361.77L256.80 361.90L257.00 362.03L257.20 362.16L257.40 362.30L257.60 362.43L257.80 362.56L258.00 362.70L258.20 362.84L258.40 362.97L258.60 363.11L258.80 363.25L259.00 363.39L259.20 363.53L259.40 363.68L259.60 363.82L259.80 363.96L260.00 364.11L261.00 364.84L262.00 365.59L263.00 366.35L264.00 367.11L265.00 367.88L266.00 368.65L267.00 369.42L268.00 370.18L269.00 370.94L270.00 371.69L271.00 372.43L272.00 373.17L273.00 373.90L274.00 374.63L275.00 375.34L276.00 376.05L277.00 376.74L278.00 377.43L279.00 378.11L280.00 378.77L281.00 379.42L282.00 380.07L283.00 380.69L284.00 381.31L285.00 381.91L286.00 382.50L287.00 383.07L288.00 383.63L289.00 384.17L290.00 384.69L291.00 385.20L292.00 385.68L293.00 386.15L294.00 386.61L295.00 387.04L296.00 387.45L297.00 387.85L298.00 388.22L299.00 388.58L300.00 388.92L301.00 389.24L302.00 389.54L303.00 389.82L304.00 390.08L305.00 390.33L306.00 390.56L307.00 390.76L308.00 390.95L309.00 391.13L310.00 391.28L311.00 391.41L312.00 391.53L313.00 391.63L314.00 391.71L315.00 391.77L316.00 391.82L317.00 391.84L318.00 391.85L319.00 391.84L320.00 391.82L321.00 391.77L322.00 391.71L323.00 391.63L324.00 391.53L325.00 391.41L326.00 391.28L327.00 391.13L328.00 390.95L329.00 390.77L330.00 390.56L331.00 390.34L332.00 390.09L333.00 389.83L334.00 389.55L335.00 389.25L336.00 388.94L337.00 388.60L338.00 388.25L339.00 387.88L340.00 387.49L341.00 387.08L342.00 386.66L343.00 386.21L344.00 385.75L345.00 385.28L346.00 384.79L347.00 384.28L348.00 383.77L349.00 383.24L350.00 382.71L351.00 382.16L352.00 381.61L353.00 381.05L354.00 380.48L355.00 379.91L356.00 379.34L357.00 378.76L358.00 378.19L359.00 377.61L360.00 377.04L361.00 376.46L362.00 375.89L363.00 375.32L364.00 374.76L365.00 374.21L366.00 373.66L367.00 373.12L368.00 372.59L369.00 372.07L370.00 371.56L371.00 371.05L372.00 370.56L373.00 370.07L374.00 369.60L375.00 369.13L376.00 368.68L377.00 368.23L378.00 367.80L379.00 367.37L380.00 366.96L381.00 366.56L382.00 366.17L383.00 365.79L384.00 365.42L385.00 365.07L386.00 364.73L387.00 364.40L388.00 364.09L389.00 363.79L390.00 363.50L391.00 363.23L392.00 362.97L393.00 362.72L394.00 362.50L395.00 362.29L396.00 362.09L397.00 361.92L398.00 361.76L399.00 361.62L400.00 361.50L401.00 361.40L402.00 361.32L403.00 361.26L404.00 361.23L405.00 361.21L406.00 361.22L407.00 361.26L408.00 361.31L409.00 361.40L410.00 361.50L411.00 361.63L412.00 361.78L413.00 361.96L414.00 362.15L415.00 362.37L416.00 362.60L417.00 362.86L418.00 363.13L419.00 363.42L420.00 363.73L421.00 364.06L422.00 364.40L423.00 364.75L424.00 365.12L425.00 365.51L426.00 365.91L427.00 366.32L428.00 366.74L429.00 367.17L430.00 367.62L431.00 368.07L432.00 368.53L433.00 369.01L434.00 369.49L435.00 369.97L436.00 370.47L437.00 370.97L438.00 371.47L439.00 371.98L440.00 372.49L441.00 373.01L442.00 373.53L443.00 374.05L444.00 374.57L445.00 375.09L446.00 375.61L447.00 376.14L448.00 376.66L449.00 377.18L450.00 377.70L451.00 378.21L452.00 378.73L453.00 379.23L454.00 379.74L455.00 380.24L456.00 380.74L457.00 381.23L458.00 381.71L459.00 382.19L460.00 382.66L461.00 383.13L462.00 383.58L463.00 384.03L464.00 384.47L465.00 384.89L466.00 385.31L467.00 385.72L468.00 386.12L469.00 386.50L470.00 386.88L471.00 387.24L472.00 387.58L473.00 387.92L474.00 388.24L475.00 388.54L476.00 388.83L477.00 389.10L478.00 389.36L479.00 389.61L480.00 389.84L481.00 390.05L482.00 390.26L483.00 390.44L484.00 390.61L485.00 390.77L486.00 390.91L487.00 391.04L488.00 391.15L489.00 391.25L490.00 391.34L491.00 391.41L492.00 391.46L493.00 391.50L494.00 391.52L495.00 391.53L496.00 391.53L497.00 391.50L498.00 391.47L499.00 391.41L500.00 391.35L501.00 391.26L502.00 391.16L503.00 391.04L504.00 390.91L505.00 390.76L506.00 390.59L507.00 390.41L508.00 390.20L509.00 389.99L510.00 389.75L511.00 389.50L512.00 389.23L513.00 388.95L514.00 388.65L515.00 388.33L516.00 387.99L517.00 387.64L518.00 387.28L519.00 386.89L520.00 386.50L521.00 386.08L522.00 385.66L523.00 385.22L524.00 384.76L525.00 384.29L526.00 383.81L527.00 383.32L528.00 382.82L529.00 382.31L530.00 381.80L531.00 381.27L532.00 380.74L533.00 380.20L534.00 379.66L535.00 379.12L536.00 378.57L537.00 378.02L538.00 377.47L539.00 376.92L540.00 376.37L541.00 375.82L542.00 375.27L543.00 374.72L544.00 374.17L545.00 373.63L546.00 373.09L547.00 372.56L548.00 372.03L549.00 371.51L550.00 371.00L551.00 370.49L552.00 369.99L553.00 369.49L554.00 369.01L555.00 368.53L556.00 368.07L557.00 367.61L558.00 367.16L559.00 366.73L560.00 366.30L561.00 365.89L562.00 365.49L563.00 365.10L564.00 364.73L565.00 364.37L566.00 364.02L567.00 363.69L568.00 363.37L569.00 363.07L570.00 362.79L571.00 362.52L572.00 362.27L573.00 362.04L574.00 361.82L575.00 361.62L576.00 361.44L577.00 361.28L578.00 361.13L579.00 361.00L580.00 360.89L581.00 360.80L582.00 360.72L583.00 360.66L584.00 360.63L585.00 360.61L586.00 360.60L587.00 360.62L588.00 360.66L589.00 360.71L590.00 360.78L591.00 360.87L592.00 360.98L593.00 361.11L594.00 361.25L595.00 361.41L596.00 361.59L597.00 361.79L598.00 362.01L599.00 362.24L600.00 362.48L601.00 362.75L602.00 363.03L603.00 363.33L604.00 363.64L605.00 363.96L606.00 364.30L607.00 364.66L608.00 365.03L609.00 365.41L610.00 365.81L611.00 366.22L612.00 366.64L613.00 367.07L614.00 367.51L615.00 367.96L616.00 368.43L617.00 368.90L618.00 369.38L619.00 369.87L620.00 370.37L621.00 370.88L622.00 371.39L623.00 371.91L624.00 372.44L625.00 372.97L626.00 373.50L627.00 374.04L628.00 374.58L629.00 375.12L630.00 375.67L631.00 376.21L632.00 376.76L633.00 377.31L634.00 377.85L635.00 378.40L636.00 378.94L637.00 379.49L638.00 380.02L639.00 380.56L640.00 381.09L641.00 381.61L642.00 382.13L643.00 382.65L644.00 383.15L645.00 383.65L646.00 384.14L647.00 384.63L648.00 385.10L649.00 385.57L650.00 386.02L651.00 386.47L652.00 386.90L653.00 387.32L654.00 387.73L655.00 388.13L656.00 388.51L657.00 388.88L658.00 389.24L659.00 389.58L660.00 389.91L661.00 390.22L662.00 390.52L663.00 390.80L664.00 391.07L665.00 391.32L666.00 391.55L667.00 391.76L668.00 391.96L669.00 392.14L670.00 392.31L671.00 392.45L672.00 392.58L673.00 392.69L674.00 392.79L675.00 392.86L676.00 392.92L677.00 392.95L678.00 392.97L679.00 392.97L680.00 392.95L681.00 392.92L682.00 392.86L683.00 392.79L684.00 392.70L685.00 392.59L686.00 392.46L687.00 392.31L688.00 392.15L689.00 391.97L690.00 391.77L691.00 391.56L692.00 391.33L693.00 391.08L694.00 390.81L695.00 390.53L696.00 390.24L697.00 389.93L698.00 389.60L699.00 389.26L700.00 388.91L701.00 388.54L702.00 388.16L703.00 387.76L704.00 387.36L705.00 386.94L706.00 386.51L707.00 386.07L708.00 385.62L709.00 385.16L710.00 384.69L711.00 384.21L712.00 383.72L713.00 383.23L714.00 382.73L715.00 382.22L716.00 381.71L717.00 381.19L718.00 380.66L719.00 380.13L720.00 379.60L721.00 379.07L722.00 378.53L723.00 377.99L724.00 377.45L725.00 376.92L726.00 376.38L727.00 375.84L728.00 375.30L729.00 374.77L730.00 374.24L731.00 373.71L732.00 373.18L733.00 372.66L734.00 372.15L735.00 371.64L736.00 371.14L737.00 370.64L738.00 370.15L739.00 369.68L740.00 369.20L741.00 368.74L742.00 368.29L743.00 367.85L744.00 367.42L745.00 367.00L746.00 366.59L747.00 366.20L748.00 365.81L749.00 365.44L750.00 365.09L751.00 364.75L752.00 364.42L753.00 364.11L754.00 363.81L755.00 363.53L756.00 363.26L757.00 363.01L758.00 362.78L759.00 362.56L760.00 362.36L761.00 362.18L762.00 362.02L763.00 361.87L764.00 361.74L765.00 361.63L766.00 361.54L767.00 361.46L768.00 361.40L769.00 361.37L770.00 361.35L771.00 361.34L772.00 361.36L773.00 361.40L774.00 361.45L775.00 361.52L776.00 361.61L777.00 361.72L778.00 361.85L779.00 361.99L780.00 362.15L781.00 362.33L782.00 362.53L783.00 362.75L784.00 362.98L785.00 363.22L786.00 363.49L787.00 363.77L788.00 364.07L789.00 364.38L790.00 364.70L791.00 365.04L792.00 365.40L793.00 365.77L794.00 366.15L795.00 366.55L796.00 366.96L797.00 367.38L798.00 367.81L799.00 368.25L800.00 368.70L801.00 369.17L802.00 369.64L803.00 370.12L804.00 370.61L805.00 371.11L806.00 371.62L807.00 372.13L808.00 372.65L809.00 373.18L810.00 373.71L811.00 374.24L812.00 374.78L813.00 375.32L814.00 375.86L815.00 376.41L816.00 376.95L817.00 377.50L818.00 378.05L819.00 378.59L820.00 379.14L821.00 379.68L822.00 380.23L823.00 380.76L824.00 381.30L825.00 381.83L826.00 382.35L827.00 382.87L828.00 383.39L829.00 383.89L830.00 384.39L831.00 384.88L832.00 385.37L833.00 385.84L834.00 386.31L835.00 386.76L836.00 387.21L837.00 387.64L838.00 388.06L839.00 388.47L840.00 388.87L841.00 389.25L842.00 389.62L843.00 389.98L844.00 390.32L845.00 390.65L846.00 390.96L847.00 391.26L848.00 391.54L849.00 391.81L850.00 392.06L851.00 392.29L852.00 392.50L853.00 392.70L854.00 392.88L855.00 393.05L856.00 393.19L857.00 393.32L858.00 393.43L859.00 393.53L860.00 393.60L861.00 393.66L862.00 393.69L863.00 393.71L864.00 393.71L865.00 393.69L866.00 393.66L867.00 393.60L868.00 393.53L869.00 393.44L870.00 393.33L871.00 393.20L872.00 393.05L873.00 392.89L874.00 392.71L875.00 392.51L876.00 392.30L877.00 392.07L878.00 391.82L879.00 391.55L880.00 391.27L881.00 390.98L882.00 390.67L883.00 390.34L884.00 390.00L885.00 389.65L886.00 389.28L887.00 388.90L888.00 388.50L889.00 388.10L890.00 387.68L891.00 387.25L892.00 386.81L893.00 386.36L894.00 385.90L895.00 385.43L896.00 384.95L897.00 384.46L898.00 383.97L899.00 383.47L900.00 382.96L901.00 382.45L902.00 381.93L903.00 381.40L904.00 380.87L905.00 380.34L906.00 379.81L907.00 379.27L908.00 378.73L909.00 378.19L910.00 377.66L911.00 377.12L912.00 376.58L913.00 376.04L914.00 375.51L915.00 374.98L916.00 374.45L917.00 373.92L918.00 373.40L919.00 372.89L920.00 372.38L921.00 371.88L922.00 371.38L923.00 370.89L924.00 370.42L925.00 369.94L926.00 369.48L927.00 369.03L928.00 368.59L929.00 368.16L930.00 367.74L931.00 367.33L932.00 366.94L933.00 366.55L934.00 366.18L935.00 365.83L936.00 365.49L937.00 365.16L938.00 364.85L939.00 364.55L940.00 364.27L941.00 364.00L942.00 363.75L943.00 363.52L944.00 363.30L945.00 363.10L946.00 362.92L947.00 362.76L948.00 362.61L949.00 362.48L950.00 362.37L951.00 362.28L952.00 362.20L953.00 362.14L954.00 362.11L955.00 362.09L956.00 362.08L957.00 362.10L958.00 362.14L959.00 362.19L960.00 362.26L961.00 362.35L962.00 362.46L963.00 362.59L964.00 362.73L965.00 362.89L966.00 363.07L967.00 363.27L968.00 363.49L969.00 363.72L970.00 363.96L971.00 364.23L972.00 364.51L973.00 364.81L974.00 365.12L975.00 365.44L976.00 365.78L977.00 366.14L978.00 366.51L979.00 366.89L980.00 367.29L981.00 367.70L982.00 368.12L983.00 368.55L983.50 368.77"/>
<path class="c" stroke="#404040" d="M100.20 454.50L100.40 455.93L100.60 457.35L100.80 458.76L101.00 460.14L101.20 461.50L101.40 462.82L101.60 464.10L101.80 465.33L102.00 466.50L102.20 467.61L102.40 468.66L102.60 469.65L102.80 470.59L103.00 471.48L103.20 472.33L103.40 473.14L103.60 473.92L103.80 474.66L104.00 475.37L104.20 476.06L104.40 476.73L104.60 477.39L104.80 478.03L105.00 478.67L105.20 479.30L105.40 479.93L105.60 480.57L105.80 481.20L106.00 481.83L106.20 482.46L106.40 483.08L106.60 483.70L106.80 484.32L107.00 484.93L107.20 485.53L107.40 486.13L107.60 486.72L107.80 487.30L108.00 487.87L108.20 488.43L108.40 488.98L108.60 489.52L108.80 490.04L109.00 490.55L109.20 491.05L109.40 491.53L109.60 492.00L109.80 492.45L110.00 492.88L110.20 493.30L110.40 493.70L110.60 494.08L110.80 494.45L111.00 494.80L111.20 495.13L111.40 495.44L111.60 495.73L111.80 496.01L112.00 496.27L112.20 496.51L112.40 496.73L112.60 496.93L112.80 497.11L113.00 497.27L113.20 497.42L113.40 497.54L113.60 497.65L113.80 497.73L114.00 497.80L114.20 497.85L114.40 497.87L114.60 497.88L114.80 497.86L115.00 497.83L115.20 497.77L115.40 497.70L115.60 497.60L115.80 497.49L116.00 497.35L116.20 497.20L116.40 497.02L116.60 496.83L116.80 496.61L117.00 496.38L117.20 496.12L117.40 495.85L117.60 495.55L117.80 495.24L118.00 494.90L118.20 494.55L118.40 494.17L118.60 493.78L118.80 493.36L119.00 492.93L119.20 492.47L119.40 492.00L119.60 491.51L119.80 490.99L120.00 490.46L120.20 489.92L120.40 489.36L120.60 488.79L120.80 488.20L121.00 487.61L121.20 487.00L121.40 486.39L121.60 485.78L121.80 485.16L122.00 484.53L122.20 483.91L122.40 483.28L122.60 482.66L122.80 482.03L123.00 481.41L123.20 480.80L123.40 480.19L123.60 479.60L123.80 479.01L124.00 478.43L124.20 477.86L124.40 477.30L124.60 476.74L124.80 476.20L125.00 475.66L125.20 475.13L125.40 474.61L125.60 474.09L125.80 473.58L126.00 473.07L126.20 472.57L126.40 472.07L126.60 471.58L126.80 471.09L127.00 470.60L127.20 470.11L127.40 469.63L127.60 469.14L127.80 468.66L128.00 468.18L128.20 467.70L128.40 467.22L128.60 466.74L128.80 466.27L129.00 465.80L129.20 465.33L129.40 464.87L129.60 464.41L129.80 463.97L130.00 463.52L130.20 463.09L130.40 462.66L130.60 462.24L130.80 461.83L131.00 461.42L131.20 461.03L131.40 460.65L131.60 460.28L131.80 459.92L132.00 459.58L132.20 459.24L132.40 458.92L132.60 458.61L132.80 458.32L133.00 458.04L133.20 457.78L133.40 457.53L133.60 457.29L133.80 457.08L134.00 456.88L134.20 456.69L134.40 456.53L134.60 456.38L134.80 456.25L135.00 456.14L135.20 456.04L135.40 455.97L135.60 455.92L135.80 455.89L136.00 455.87L136.20 455.88L136.40 455.91L136.60 455.96L136.80 456.03L137.00 456.12L137.20 456.23L137.40 456.36L137.60 456.52L137.80 456.69L138.00 456.88L138.20 457.09L138.40 457.32L138.60 457.57L138.80 457.84L139.00 458.13L139.20 458.44L139.40 458.77L139.60 459.12L139.80 459.49L140.00 459.87L140.20 460.28L140.40 460.70L140.60 461.14L140.80 461.60L141.00 462.07L141.20 462.56L141.40 463.06L141.60 463.58L141.80 464.11L142.00 464.66L142.20 465.21L142.40 465.78L142.60 466.36L142.80 466.94L143.00 467.54L143.20 468.15L143.40 468.76L143.60 469.39L143.80 470.02L144.00 470.65L144.20 471.30L144.40 471.95L144.60 472.61L144.80 473.28L145.00 473.96L145.20 474.64L145.40 475.34L145.60 476.04L145.80 476.76L146.00 477.49L146.20 478.23L146.40 478.97L146.60 479.74L146.80 480.51L147.00 481.29L147.20 482.09L147.40 482.90L147.60 483.72L147.80 484.55L148.00 485.40L148.20 486.25L148.40 487.11L148.60 487.98L148.80 488.86L149.00 489.75L149.20 490.64L149.40 491.55L149.60 492.46L149.80 493.37L150.00 494.29L150.20 495.22L150.40 496.16L150.60 497.10L150.80 498.05L151.00 499.00L151.20 499.96L151.40 500.93L151.60 501.91L151.80 502.90L152.00 503.89L152.20 504.89L152.40 505.89L152.60 506.91L152.80 507.93L153.00 508.96L153.20 509.99L153.40 511.02L153.60 512.05L153.80 513.08L154.00 514.11L154.20 515.13L154.40 516.15L154.60 517.16L154.80 518.16L155.00 519.15L155.20 520.13L155.40 521.09L155.60 522.03L155.80 522.96L156.00 523.87L156.20 524.76L156.40 525.64L156.60 526.50L156.80 527.35L157.00 528.18L157.20 529.00L157.40 529.81L157.60 530.60L157.80 531.39L158.00 532.17L158.20 532.93L158.40 533.69L158.60 534.45L158.80 535.19L159.00 535.93L159.20 536.67L159.40 537.40L159.60 538.14L159.80 538.86L160.00 539.59L160.20 540.32L160.40 541.04L160.60 541.76L160.80 542.47L161.00 543.18L161.20 543.88L161.40 544.58L161.60 545.27L161.80 545.95L162.00 546.63L162.20 547.29L162.40 547.95L162.60 548.60L162.80 549.23L163.00 549.85L163.20 550.47L163.40 551.07L163.60 551.65L163.80 552.22L164.00 552.78L164.20 553.32L164.40 553.85L164.60 554.36L164.80 554.85L165.00 555.32L165.20 555.78L165.40 556.22L165.60 556.63L165.80 557.03L166.00 557.41L166.20 557.77L166.40 558.11L166.60 558.43L166.80 558.74L167.00 559.02L167.20 559.29L167.40 559.54L167.60 559.77L167.80 559.98L168.00 560.18L168.20 560.36L168.40 560.52L168.60 560.66L168.80 560.79L169.00 560.90L169.20 560.99L169.40 561.07L169.60 561.13L169.80 561.17L170.00 561.20L170.20 561.21L170.40 561.21L170.60 561.19L170.80 561.15L171.00 561.10L171.20 561.04L171.40 560.96L171.60 560.87L171.80 560.76L172.00 560.64L172.20 560.51L172.40 560.37L172.60 560.22L172.80 560.05L173.00 559.88L173.20 559.69L173.40 559.49L173.60 559.29L173.80 559.08L174.00 558.86L174.20 558.63L174.40 558.39L174.60 558.15L174.80 557.90L175.00 557.64L175.20 557.38L175.40 557.11L175.60 556.84L175.80 556.56L176.00 556.28L176.20 556.00L176.40 555.71L176.60 555.42L176.80 555.13L177.00 554.84L177.20 554.54L177.40 554.23L177.60 553.93L177.80 553.62L178.00 553.30L178.20 552.99L178.40 552.66L178.60 552.34L178.80 552.01L179.00 551.68L179.20 551.34L179.40 550.99L179.60 550.65L179.80 550.30L180.00 549.94L180.20 549.58L180.40 549.21L180.60 548.84L180.80 548.47L181.00 548.09L181.20 547.70L181.40 547.31L181.60 546.91L181.80 546.51L182.00 546.10L182.20 545.69L182.40 545.27L182.60 544.85L182.80 544.41L183.00 543.98L183.20 543.53L183.40 543.08L183.60 542.63L183.80 542.17L184.00 541.70L184.20 541.22L184.40 540.74L184.60 540.25L184.80 539.76L185.00 539.25L185.20 538.74L185.40 538.23L185.60 537.70L185.80 537.18L186.00 536.64L186.20 536.10L186.40 535.56L186.60 535.01L186.80 534.46L187.00 533.91L187.20 533.36L187.40 532.80L187.60 532.24L187.80 531.68L188.00 531.12L188.20 530.57L188.40 530.01L188.60 529.45L188.80 528.90L189.00 528.35L189.20 527.80L189.40 527.25L189.60 526.71L189.80 526.17L190.00 525.64L190.20 525.11L190.40 524.59L190.60 524.08L190.80 523.57L191.00 523.07L191.20 522.58L191.40 522.10L191.60 521.63L191.80 521.16L192.00 520.71L192.20 520.26L192.40 519.82L192.60 519.39L192.80 518.97L193.00 518.56L193.20 518.15L193.40 517.75L193.60 517.37L193.80 516.98L194.00 516.61L194.20 516.24L194.40 515.89L194.60 515.53L194.80 515.19L195.00 514.85L195.20 514.52L195.40 514.20L195.60 513.88L195.80 513.57L196.00 513.27L196.20 512.97L196.40 512.68L196.60 512.39L196.80 512.11L197.00 511.84L197.20 511.57L197.40 511.31L197.60 511.05L197.80 510.80L198.00 510.55L198.20 510.31L198.40 510.08L198.60 509.85L198.80 509.62L199.00 509.40L199.20 509.19L199.40 508.98L199.60 508.78L199.80 508.58L200.00 508.39L200.20 508.20L200.40 508.02L200.60 507.85L200.80 507.68L201.00 507.52L201.20 507.36L201.40 507.21L201.60 507.07L201.80 506.93L202.00 506.80L202.20 506.68L202.40 506.56L202.60 506.45L202.80 506.35L203.00 506.25L203.20 506.16L203.40 506.07L203.60 505.99L203.80 505.92L204.00 505.86L204.20 505.80L204.40 505.75L204.60 505.71L204.80 505.67L205.00 505.64L205.20 505.62L205.40 505.60L205.60 505.60L205.80 505.60L206.00 505.60L206.20 505.62L206.40 505.64L206.60 505.67L206.80 505.71L207.00 505.75L207.20 505.80L207.40 505.85L207.60 505.91L207.80 505.98L208.00 506.06L208.20 506.14L208.40 506.23L208.60 506.32L208.80 506.42L209.00 506.53L209.20 506.64L209.40 506.76L209.60 506.88L209.80 507.01L210.00 507.15L210.20 507.29L210.40 507.43L210.60 507.58L210.80 507.74L211.00 507.90L211.20 508.07L211.40 508.24L211.60 508.41L211.80 508.60L212.00 508.78L212.20 508.97L212.40 509.17L212.60 509.37L212.80 509.57L213.00 509.78L213.20 509.99L213.40 510.21L213.60 510.43L213.80 510.65L214.00 510.88L214.20 511.12L214.40 511.35L214.60 511.59L214.80 511.83L215.00 512.08L215.20 512.33L215.40 512.58L215.60 512.83L215.80 513.09L216.00 513.35L216.20 513.61L216.40 513.88L216.60 514.14L216.80 514.41L217.00 514.68L217.20 514.95L217.40 515.23L217.60 515.50L217.80 515.78L218.00 516.06L218.20 516.34L218.40 516.62L218.60 516.90L218.80 517.18L219.00 517.46L219.20 517.74L219.40 518.03L219.60 518.31L219.80 518.59L220.00 518.88L220.20 519.16L220.40 519.44L220.60 519.72L220.80 520.01L221.00 520.29L221.20 520.57L221.40 520.85L221.60 521.13L221.80 521.41L222.00 521.69L222.20 521.97L222.40 522.25L222.60 522.53L222.80 522.80L223.00 523.08L223.20 523.36L223.40 523.64L223.60 523.91L223.80 524.19L224.00 524.47L224.20 524.74L224.40 525.02L224.60 525.29L224.80 525.57L225.00 525.84L225.20 526.11L225.40 526.39L225.60 526.66L225.80 526.93L226.00 527.21L226.20 527.48L226.40 527.75L226.60 528.02L226.80 528.29L227.00 528.56L227.20 528.83L227.40 529.10L227.60 529.37L227.80 529.64L228.00 529.91L228.20 530.17L228.40 530.44L228.60 530.71L228.80 530.97L229.00 531.23L229.20 531.50L229.40 531.76L229.60 532.02L229.80 532.28L230.00 532.53L230.20 532.79L230.40 533.04L230.60 533.29L230.80 533.54L231.00 533.79L231.20 534.04L231.40 534.28L231.60 534.52L231.80 534.76L232.00 535.00L232.20 535.23L232.40 535.46L232.60 535.69L232.80 535.91L233.00 536.14L233.20 536.36L233.40 536.57L233.60 536.78L233.80 536.99L234.00 537.20L234.20 537.40L234.40 537.60L234.60 537.79L234.80 537.99L235.00 538.17L235.20 538.36L235.40 538.54L235.60 538.71L235.80 538.89L236.00 539.06L236.20 539.22L236.40 539.38L236.60 539.54L236.80 539.70L237.00 539.85L237.20 540.00L237.40 540.15L237.60 540.29L237.80 540.43L238.00 540.57L238.20 540.70L238.40 540.83L238.60 540.96L238.80 541.08L239.00 541.21L239.20 541.32L239.40 541.44L239.60 541.55L239.80 541.66L240.00 541.77L240.20 541.88L240.40 541.98L240.60 542.08L240.80 542.18L241.00 542.27L241.20 542.37L241.40 542.46L241.60 542.54L241.80 542.63L242.00 542.71L242.20 542.79L242.40 542.87L242.60 542.95L242.80 543.02L243.00 543.10L243.20 543.17L243.40 543.23L243.60 543.30L243.80 543.36L244.00 543.43L244.20 543.49L244.40 543.54L244.60 543.60L244.80 543.66L245.00 543.71L245.20 543.76L245.40 543.81L245.60 543.86L245.80 543.91L246.00 543.95L246.20 543.99L246.40 544.04L246.60 544.08L246.80 544.12L247.00 544.15L247.20 544.19L247.40 544.23L247.60 544.26L247.80 544.29L248.00 544.33L248.20 544.36L248.40 544.39L248.60 544.41L248.80 544.44L249.00 544.47L249.20 544.49L249.40 544.52L249.60 544.54L249.80 544.56L250.00 544.58L250.20 544.60L250.40 544.62L250.60 544.64L250.80 544.65L251.00 544.67L251.20 544.68L251.40 544.69L251.60 544.70L251.80 544.71L252.00 544.72L252.20 544.72L252.40 544.73L252.60 544.73L252.80 544.73L253.00 544.73L253.20 544.73L253.40 544.73L253.60 544.72L253.80 544.72L254.00 544.71L254.20 544.70L254.40 544.69L254.60 544.68L254.80 544.66L255.00 544.64L255.20 544.63L255.40 544.61L255.60 544.59L255.80 544.57L256.00 544.55L256.20 544.52L256.40 544.50L256.60 544.48L256.80 544.45L257.00 544.43L257.20 544.40L257.40 544.38L257.60 544.35L257.80 544.33L258.00 544.30L258.20 544.27L258.40 544.25L258.60 544.22L258.80 544.20L259.00 544.17L259.20 544.15L259.40 544.12L259.60 544.10L259.80 544.07L260.00 544.05L261.00 543.93L262.00 543.81L263.00 543.70L264.00 543.59L265.00 543.49L266.00 543.39L267.00 543.29L268.00 543.20L269.00 543.12L270.00 543.04L271.00 542.97L272.00 542.91L273.00 542.85L274.00 542.80L275.00 542.75L276.00 542.71L277.00 542.68L278.00 542.65L279.00 542.63L280.00 542.61L281.00 542.60L282.00 542.58L283.00 542.57L284.00 542.56L285.00 542.56L286.00 542.55L287.00 542.54L288.00 542.53L289.00 542.52L290.00 542.51L291.00 542.49L292.00 542.47L293.00 542.45L294.00 542.42L295.00 542.38L296.00 542.34L297.00 542.30L298.00 542.24L299.00 542.18L300.00 542.11L301.00 542.03L302.00 541.95L303.00 541.85L304.00 541.75L305.00 541.65L306.00 541.54L307.00 541.42L308.00 541.29L309.00 541.16L310.00 541.02L311.00 540.88L312.00 540.74L313.00 540.59L314.00 540.43L315.00 540.27L316.00 540.11L317.00 539.94L318.00 539.78L319.00 539.61L320.00 539.43L321.00 539.26L322.00 539.08L323.00 538.90L324.00 538.72L325.00 538.54L326.00 538.35L327.00 538.17L328.00 537.99L329.00 537.81L330.00 537.62L331.00 537.44L332.00 537.26L333.00 537.08L334.00 536.90L335.00 536.72L336.00 536.55L337.00 536.37L338.00 536.20L339.00 536.03L340.00 535.87L341.00 535.70L342.00 535.55L343.00 535.39L344.00 535.24L345.00 535.09L346.00 534.95L347.00 534.81L348.00 534.67L349.00 534.54L350.00 534.42L351.00 534.30L352.00 534.19L353.00 534.08L354.00 533.98L355.00 533.89L356.00 533.80L357.00 533.73L358.00 533.65L359.00 533.59L360.00 533.53L361.00 533.49L362.00 533.45L363.00 533.41L364.00 533.39L365.00 533.38L366.00 533.37L367.00 533.38L368.00 533.39L369.00 533.42L370.00 533.45L371.00 533.49L372.00 533.54L373.00 533.60L374.00 533.67L375.00 533.74L376.00 533.83L377.00 533.92L378.00 534.02L379.00 534.14L380.00 534.26L381.00 534.39L382.00 534.52L383.00 534.67L384.00 534.83L385.00 534.99L386.00 535.17L387.00 535.35L388.00 535.54L389.00 535.74L390.00 535.95L391.00 536.16L392.00 536.39L393.00 536.62L394.00 536.85L395.00 537.09L396.00 537.34L397.00 537.59L398.00 537.84L399.00 538.09L400.00 538.34L401.00 538.60L402.00 538.85L403.00 539.10L404.00 539.35L405.00 539.60L406.00 539.84L407.00 540.08L408.00 540.32L409.00 540.55L410.00 540.78L411.00 541.00L412.00 541.22L413.00 541.43L414.00 541.64L415.00 541.84L416.00 542.04L417.00 542.23L418.00 542.42L419.00 542.60L420.00 542.77L421.00 542.94L422.00 543.11L423.00 543.26L424.00 543.42L425.00 543.56L426.00 543.70L427.00 543.83L428.00 543.96L429.00 544.07L430.00 544.18L431.00 544.29L432.00 544.39L433.00 544.48L434.00 544.56L435.00 544.64L436.00 544.71L437.00 544.77L438.00 544.82L439.00 544.87L440.00 544.90L441.00 544.93L442.00 544.95L443.00 544.97L444.00 544.97L445.00 544.97L446.00 544.95L447.00 544.93L448.00 544.91L449.00 544.87L450.00 544.83L451.00 544.78L452.00 544.72L453.00 544.66L454.00 544.59L455.00 544.51L456.00 544.43L457.00 544.34L458.00 544.24L459.00 544.14L460.00 544.03L461.00 543.92L462.00 543.80L463.00 543.67L464.00 543.54L465.00 543.41L466.00 543.27L467.00 543.13L468.00 542.98L469.00 542.83L470.00 542.67L471.00 542.51L472.00 542.35L473.00 542.18L474.00 542.01L475.00 541.84L476.00 541.66L477.00 541.48L478.00 541.30L479.00 541.12L480.00 540.93L481.00 540.75L482.00 540.56L483.00 540.36L484.00 540.17L485.00 539.98L486.00 539.78L487.00 539.58L488.00 539.39L489.00 539.19L490.00 538.99L491.00 538.78L492.00 538.58L493.00 538.38L494.00 538.17L495.00 537.97L496.00 537.77L497.00 537.56L498.00 537.35L499.00 537.15L500.00 536.94L501.00 536.74L502.00 536.53L503.00 536.32L504.00 536.12L505.00 535.91L506.00 535.71L507.00 535.51L508.00 535.31L509.00 535.11L510.00 534.91L511.00 534.71L512.00 534.52L513.00 534.32L514.00 534.13L515.00 533.95L516.00 533.76L517.00 533.58L518.00 533.41L519.00 533.24L520.00 533.07L521.00 532.91L522.00 532.75L523.00 532.60L524.00 532.45L525.00 532.31L526.00 532.17L527.00 532.04L528.00 531.92L529.00 531.80L530.00 531.69L531.00 531.58L532.00 531.48L533.00 531.39L534.00 531.31L535.00 531.23L536.00 531.16L537.00 531.10L538.00 531.04L539.00 531.00L540.00 530.96L541.00 530.94L542.00 530.92L543.00 530.91L544.00 530.91L545.00 530.92L546.00 530.93L547.00 530.96L548.00 531.00L549.00 531.05L550.00 531.10L551.00 531.17L552.00 531.25L553.00 531.33L554.00 531.43L555.00 531.53L556.00 531.65L557.00 531.78L558.00 531.91L559.00 532.06L560.00 532.21L561.00 532.37L562.00 532.55L563.00 532.73L564.00 532.92L565.00 533.11L566.00 533.32L567.00 533.53L568.00 533.76L569.00 533.98L570.00 534.22L571.00 534.46L572.00 534.71L573.00 534.97L574.00 535.23L575.00 535.49L576.00 535.76L577.00 536.03L578.00 536.31L579.00 536.59L580.00 536.88L581.00 537.16L582.00 537.45L583.00 537.74L584.00 538.04L585.00 538.33L586.00 538.62L587.00 538.91L588.00 539.20L589.00 539.49L590.00 539.78L591.00 540.06L592.00 540.35L593.00 540.63L594.00 540.90L595.00 541.17L596.00 541.44L597.00 541.70L598.00 541.96L599.00 542.21L600.00 542.46L601.00 542.70L602.00 542.93L603.00 543.16L604.00 543.37L605.00 543.58L606.00 543.79L607.00 543.98L608.00 544.17L609.00 544.34L610.00 544.51L611.00 544.67L612.00 544.82L613.00 544.96L614.00 545.09L615.00 545.21L616.00 545.32L617.00 545.42L618.00 545.51L619.00 545.59L620.00 545.67L621.00 545.73L622.00 545.78L623.00 545.82L624.00 545.85L625.00 545.88L626.00 545.89L627.00 545.89L628.00 545.89L629.00 545.87L630.00 545.85L631.00 545.82L632.00 545.78L633.00 545.73L634.00 545.67L635.00 545.61L636.00 545.53L637.00 545.45L638.00 545.36L639.00 545.27L640.00 545.17L641.00 545.06L642.00 544.94L643.00 544.82L644.00 544.69L645.00 544.56L646.00 544.42L647.00 544.28L648.00 544.13L649.00 543.97L650.00 543.82L651.00 543.65L652.00 543.49L653.00 543.32L654.00 543.14L655.00 542.97L656.00 542.79L657.00 542.60L658.00 542.42L659.00 542.23L660.00 542.04L661.00 541.84L662.00 541.65L663.00 541.45L664.00 541.25L665.00 541.05L666.00 540.85L667.00 540.64L668.00 540.44L669.00 540.23L670.00 540.02L671.00 539.82L672.00 539.61L673.00 539.40L674.00 539.19L675.00 538.98L676.00 538.77L677.00 538.56L678.00 538.35L679.00 538.14L680.00 537.93L681.00 537.72L682.00 537.51L683.00 537.30L684.00 537.09L685.00 536.88L686.00 536.67L687.00 536.47L688.00 536.26L689.00 536.06L690.00 535.85L691.00 535.65L692.00 535.45L693.00 535.25L694.00 535.06L695.00 534.86L696.00 534.67L697.00 534.48L698.00 534.29L699.00 534.11L700.00 533.92L701.00 533.75L702.00 533.57L703.00 533.40L704.00 533.23L705.00 533.06L706.00 532.90L707.00 532.75L708.00 532.60L709.00 532.45L710.00 532.31L711.00 532.17L712.00 532.04L713.00 531.92L714.00 531.80L715.00 531.69L716.00 531.58L717.00 531.48L718.00 531.39L719.00 531.31L720.00 531.23L721.00 531.16L722.00 531.10L723.00 531.04L724.00 531.00L725.00 530.96L726.00 530.94L727.00 530.92L728.00 530.91L729.00 530.91L730.00 530.92L731.00 530.93L732.00 530.96L733.00 531.00L734.00 531.05L735.00 531.10L736.00 531.17L737.00 531.25L738.00 531.33L739.00 531.43L740.00 531.53L741.00 531.65L742.00 531.78L743.00 531.91L744.00 532.06L745.00 532.21L746.00 532.37L747.00 532.55L748.00 532.73L749.00 532.92L750.00 533.11L751.00 533.32L752.00 533.53L753.00 533.76L754.00 533.98L755.00 534.22L756.00 534.46L757.00 534.71L758.00 534.97L759.00 535.23L760.00 535.49L761.00 535.76L762.00 536.03L763.00 536.31L764.00 536.59L765.00 536.88L766.00 537.16L767.00 537.45L768.00 537.74L769.00 538.04L770.00 538.33L771.00 538.62L772.00 538.91L773.00 539.20L774.00 539.49L775.00 539.78L776.00 540.06L777.00 540.35L778.00 540.63L779.00 540.90L780.00 541.17L781.00 541.44L782.00 541.70L783.00 541.96L784.00 542.21L785.00 542.46L786.00 542.70L787.00 542.93L788.00 543.16L789.00 543.37L790.00 543.58L791.00 543.79L792.00 543.98L793.00 544.17L794.00 544.34L795.00 544.51L796.00 544.67L797.00 544.82L798.00 544.96L799.00 545.09L800.00 545.21L801.00 545.32L802.00 545.42L803.00 545.51L804.00 545.59L805.00 545.67L806.00 545.73L807.00 545.78L808.00 545.82L809.00 545.85L810.00 545.88L811.00 545.89L812.00 545.89L813.00 545.89L814.00 545.87L815.00 545.85L816.00 545.82L817.00 545.78L818.00 545.73L819.00 545.67L820.00 545.61L821.00 545.53L822.00 545.45L823.00 545.36L824.00 545.27L825.00 545.17L826.00 545.06L827.00 544.94L828.00 544.82L829.00 544.69L830.00 544.56L831.00 544.42L832.00 544.28L833.00 544.13L834.00 543.97L835.00 543.82L836.00 543.65L837.00 543.49L838.00 543.32L839.00 543.14L840.00 542.97L841.00 542.79L842.00 542.60L843.00 542.42L844.00 542.23L845.00 542.04L846.00 541.84L847.00 541.65L848.00 541.45L849.00 541.25L850.00 541.05L851.00 540.85L852.00 540.64L853.00 540.44L854.00 540.23L855.00 540.02L856.00 539.82L857.00 539.61L858.00 539.40L859.00 539.19L860.00 538.98L861.00 538.77L862.00 538.56L863.00 538.35L864.00 538.14L865.00 537.93L866.00 537.72L867.00 537.51L868.00 537.30L869.00 537.09L870.00 536.88L871.00 536.67L872.00 536.47L873.00 536.26L874.00 536.06L875.00 535.85L876.00 535.65L877.00 535.45L878.00 535.25L879.00 535.06L880.00 534.86L881.00 534.67L882.00 534.48L883.00 534.29L884.00 534.11L885.00 533.92L886.00 533.75L887.00 533.57L888.00 533.40L889.00 533.23L890.00 533.06L891.00 532.90L892.00 532.75L893.00 532.60L894.00 532.45L895.00 532.31L896.00 532.17L897.00 532.04L898.00 531.92L899.00 531.80L900.00 531.69L901.00 531.58L902.00 531.48L903.00 531.39L904.00 531.31L905.00 531.23L906.00 531.16L907.00 531.10L908.00 531.04L909.00 531.00L910.00 530.96L911.00 530.94L912.00 530.92L913.00 530.91L914.00 530.91L915.00 530.92L916.00 530.93L917.00 530.96L918.00 531.00L919.00 531.05L920.00 531.10L921.00 531.17L922.00 531.25L923.00 531.33L924.00 531.43L925.00 531.53L926.00 531.65L927.00 531.78L928.00 531.91L929.00 532.06L930.00 532.21L931.00 532.37L932.00 532.55L933.00 532.73L934.00 532.92L935.00 533.11L936.00 533.32L937.00 533.53L938.00 533.76L939.00 533.98L940.00 534.22L941.00 534.46L942.00 534.71L943.00 534.97L944.00 535.23L945.00 535.49L946.00 535.76L947.00 536.03L948.00 536.31L949.00 536.59L950.00 536.88L951.00 537.16L952.00 537.45L953.00 537.74L954.00 538.04L955.00 538.33L956.00 538.62L957.00 538.91L958.00 539.20L959.00 539.49L960.00 539.78L961.00 540.06L962.00 540.35L963.00 540.63L964.00 540.90L965.00 541.17L966.00 541.44L967.00 541.70L968.00 541.96L969.00 542.21L970.00 542.46L971.00 542.70L972.00 542.93L973.00 543.16L974.00 543.37L975.00 543.58L976.00 543.79L977.00 543.98L978.00 544.17L979.00 544.34L980.00 544.51L981.00 544.67L982.00 544.82L983.00 544.96L983.50 545.02"/>
<path class="c" stroke="#0000ff" d="M100.20 215.80L100.40 220.87L100.60 225.94L100.80 231.03L101.00 236.15L101.20 241.29L101.40 246.48L101.60 251.71L101.80 257.00L102.00 262.35L102.20 267.73L102.40 273.13L102.60 278.52L102.80 283.87L103.00 289.17L103.20 294.39L103.40 299.50L103.60 304.49L103.80 309.35L104.00 314.09L104.20 318.72L104.40 323.25L104.60 327.68L104.80 332.01L105.00 336.25L105.20 340.42L105.40 344.50L105.60 348.52L105.80 352.47L106.00 356.36L106.20 360.20L106.40 364.00L106.60 367.76L106.80 371.54L107.00 375.40L107.20 379.39L107.40 383.57L107.60 388.00L107.80 392.71L108.00 397.66L108.20 402.76L108.40 407.94L108.60 413.13L108.80 418.26L109.00 423.24L109.20 428.00L109.40 432.49L109.60 436.73L109.80 440.76L110.00 444.62L110.20 448.35L110.40 452.00L110.60 455.61L110.80 459.27L111.00 463.06L111.20 467.06L111.40 471.38L111.60 476.10L111.80 481.25L112.00 486.63L112.20 492.00L112.40 497.15L112.60 502.07L112.80 506.78L113.00 511.31L113.20 515.69L113.40 519.94L113.60 524.10L113.80 528.18L114.00 532.21L114.20 536.20L114.40 540.16L114.60 544.10L114.80 548.05L115.00 552.01L115.20 556.00L115.40 560.03L115.60 564.09L115.80 568.15L116.00 572.22L116.20 576.26L116.40 580.26L116.60 584.22L116.80 588.10L117.00 591.90L117.20 595.61L117.40 599.22L117.60 602.73L117.80 606.14L118.00 609.43L118.20 612.61L118.40 615.66L118.60 618.59L118.80 621.38L119.00 624.04L119.20 626.60L119.40 629.05L119.60 631.43L119.80 633.74L120.00 636.00L120.20 638.23L120.40 640.41L120.60 642.54L120.80 644.61L121.00 646.61L121.20 648.54L121.40 650.37L121.60 652.10L121.80 653.73L122.00 655.26L122.20 656.70L122.40 658.06L122.60 659.36L122.80 660.59L123.00 661.78L123.20 662.93L123.40 664.05L123.60 665.15L123.80 666.25L124.00 667.33L124.20 668.41L124.40 669.46L124.60 670.48L124.80 671.47L125.00 672.42L125.20 673.32L125.40 674.16L125.60 674.94L125.80 675.65L126.00 676.29L126.20 676.87L126.40 677.41L126.60 677.91L126.80 678.38L127.00 678.84L127.20 679.30L127.40 679.74L127.60 680.04L127.80 680.08L128.00 679.83L128.20 679.42L128.40 678.98L128.60 678.57L128.80 678.17L129.00 677.77L129.20 677.38L129.40 676.97L129.60 676.54L129.80 676.08L130.00 675.57L130.20 675.01L130.40 674.40L130.60 673.74L130.80 673.02L131.00 672.26L131.20 671.45L131.40 670.59L131.60 669.70L131.80 668.77L132.00 667.80L132.20 666.79L132.40 665.76L132.60 664.69L132.80 663.58L133.00 662.43L133.20 661.24L133.40 660.00L133.60 658.72L133.80 657.39L134.00 656.01L134.20 654.58L134.40 653.10L134.60 651.57L134.80 650.00L135.00 648.41L135.20 646.78L135.40 645.14L135.60 643.48L135.80 641.81L136.00 640.14L136.20 638.48L136.40 636.82L136.60 635.18L136.80 633.56L137.00 631.95L137.20 630.35L137.40 628.76L137.60 627.17L137.80 625.59L138.00 624.00L138.20 622.41L138.40 620.80L138.60 619.19L138.80 617.56L139.00 615.92L139.20 614.27L139.40 612.59L139.60 610.91L139.80 609.20L140.00 607.48L140.20 605.73L140.40 603.97L140.60 602.19L140.80 600.38L141.00 598.56L141.20 596.71L141.40 594.84L141.60 592.95L141.80 591.03L142.00 589.08L142.20 587.11L142.40 585.12L142.60 583.10L142.80 581.07L143.00 579.03L143.20 576.98L143.40 574.92L143.60 572.87L143.80 570.82L144.00 568.78L144.20 566.75L144.40 564.74L144.60 562.75L144.80 560.78L145.00 558.84L145.20 556.94L145.40 555.07L145.60 553.24L145.80 551.45L146.00 549.69L146.20 547.97L146.40 546.28L146.60 544.61L146.80 542.98L147.00 541.37L147.20 539.78L147.40 538.21L147.60 536.67L147.80 535.14L148.00 533.63L148.20 532.14L148.40 530.66L148.60 529.19L148.80 527.73L149.00 526.27L149.20 524.82L149.40 523.38L149.60 521.94L149.80 520.50L150.00 519.07L150.20 517.65L150.40 516.24L150.60 514.84L150.80 513.45L151.00 512.08L151.20 510.72L151.40 509.39L151.60 508.07L151.80 506.77L152.00 505.49L152.20 504.23L152.40 503.00L152.60 501.80L152.80 500.62L153.00 499.46L153.20 498.32L153.40 497.18L153.60 496.04L153.80 494.90L154.00 493.75L154.20 492.59L154.40 491.40L154.60 490.20L154.80 488.98L155.00 487.77L155.20 486.55L155.40 485.35L155.60 484.16L155.80 483.01L156.00 481.89L156.20 480.81L156.40 479.79L156.60 478.83L156.80 477.92L157.00 477.08L157.20 476.29L157.40 475.55L157.60 474.86L157.80 474.22L158.00 473.62L158.20 473.05L158.40 472.52L158.60 472.03L158.80 471.56L159.00 471.11L159.20 470.69L159.40 470.28L159.60 469.89L159.80 469.51L160.00 469.14L160.20 468.78L160.40 468.43L160.60 468.09L160.80 467.76L161.00 467.44L161.20 467.14L161.40 466.85L161.60 466.56L161.80 466.30L162.00 466.04L162.20 465.80L162.40 465.57L162.60 465.36L162.80 465.16L163.00 464.97L163.20 464.80L163.40 464.65L163.60 464.51L163.80 464.39L164.00 464.29L164.20 464.20L164.40 464.13L164.60 464.08L164.80 464.04L165.00 464.02L165.20 464.02L165.40 464.04L165.60 464.07L165.80 464.12L166.00 464.18L166.20 464.27L166.40 464.36L166.60 464.47L166.80 464.60L167.00 464.74L167.20 464.89L167.40 465.06L167.60 465.24L167.80 465.44L168.00 465.65L168.20 465.87L168.40 466.10L168.60 466.35L168.80 466.61L169.00 466.87L169.20 467.16L169.40 467.45L169.60 467.75L169.80 468.06L170.00 468.39L170.20 468.72L170.40 469.06L170.60 469.42L170.80 469.78L171.00 470.15L171.20 470.53L171.40 470.92L171.60 471.31L171.80 471.72L172.00 472.13L172.20 472.56L172.40 472.98L172.60 473.42L172.80 473.86L173.00 474.31L173.20 474.77L173.40 475.23L173.60 475.70L173.80 476.18L174.00 476.66L174.20 477.14L174.40 477.64L174.60 478.13L174.80 478.63L175.00 479.14L175.20 479.65L175.40 480.17L175.60 480.69L175.80 481.22L176.00 481.75L176.20 482.28L176.40 482.82L176.60 483.37L176.80 483.92L177.00 484.47L177.20 485.03L177.40 485.59L177.60 486.16L177.80 486.73L178.00 487.30L178.20 487.88L178.40 488.46L178.60 489.04L178.80 489.63L179.00 490.22L179.20 490.81L179.40 491.40L179.60 492.00L179.80 492.59L180.00 493.19L180.20 493.79L180.40 494.39L180.60 494.98L180.80 495.58L181.00 496.18L181.20 496.77L181.40 497.37L181.60 497.96L181.80 498.55L182.00 499.13L182.20 499.72L182.40 500.30L182.60 500.88L182.80 501.45L183.00 502.02L183.20 502.58L183.40 503.14L183.60 503.70L183.80 504.25L184.00 504.79L184.20 505.33L184.40 505.87L184.60 506.40L184.80 506.92L185.00 507.44L185.20 507.95L185.40 508.46L185.60 508.97L185.80 509.47L186.00 509.96L186.20 510.46L186.40 510.94L186.60 511.43L186.80 511.91L187.00 512.38L187.20 512.86L187.40 513.32L187.60 513.79L187.80 514.25L188.00 514.71L188.20 515.16L188.40 515.62L188.60 516.07L188.80 516.51L189.00 516.96L189.20 517.40L189.40 517.84L189.60 518.27L189.80 518.70L190.00 519.14L190.20 519.56L190.40 519.99L190.60 520.42L190.80 520.84L191.00 521.26L191.20 521.68L191.40 522.10L191.60 522.52L191.80 522.93L192.00 523.35L192.20 523.76L192.40 524.17L192.60 524.58L192.80 524.98L193.00 525.39L193.20 525.79L193.40 526.19L193.60 526.58L193.80 526.98L194.00 527.37L194.20 527.76L194.40 528.14L194.60 528.52L194.80 528.90L195.00 529.28L195.20 529.65L195.40 530.02L195.60 530.38L195.80 530.75L196.00 531.10L196.20 531.46L196.40 531.81L196.60 532.15L196.80 532.49L197.00 532.83L197.20 533.16L197.40 533.49L197.60 533.81L197.80 534.13L198.00 534.44L198.20 534.74L198.40 535.05L198.60 535.34L198.80 535.63L199.00 535.92L199.20 536.20L199.40 536.47L199.60 536.74L199.80 537.01L200.00 537.26L200.20 537.52L200.40 537.76L200.60 538.00L200.80 538.24L201.00 538.47L201.20 538.70L201.40 538.92L201.60 539.14L201.80 539.35L202.00 539.56L202.20 539.76L202.40 539.96L202.60 540.16L202.80 540.35L203.00 540.54L203.20 540.72L203.40 540.90L203.60 541.08L203.80 541.25L204.00 541.42L204.20 541.59L204.40 541.75L204.60 541.91L204.80 542.07L205.00 542.22L205.20 542.37L205.40 542.52L205.60 542.66L205.80 542.81L206.00 542.95L206.20 543.09L206.40 543.22L206.60 543.36L206.80 543.49L207.00 543.62L207.20 543.75L207.40 543.87L207.60 544.00L207.80 544.12L208.00 544.25L208.20 544.37L208.40 544.49L208.60 544.60L208.80 544.72L209.00 544.84L209.20 544.95L209.40 545.06L209.60 545.18L209.80 545.29L210.00 545.40L210.20 545.50L210.40 545.61L210.60 545.72L210.80 545.82L211.00 545.93L211.20 546.03L211.40 546.13L211.60 546.23L211.80 546.33L212.00 546.43L212.20 546.53L212.40 546.62L212.60 546.72L212.80 546.82L213.00 546.91L213.20 547.01L213.40 547.10L213.60 547.19L213.80 547.28L214.00 547.38L214.20 547.47L214.40 547.56L214.60 547.65L214.80 547.73L215.00 547.82L215.20 547.91L215.40 548.00L215.60 548.09L215.80 548.17L216.00 548.26L216.20 548.35L216.40 548.43L216.60 548.52L216.80 548.60L217.00 548.69L217.20 548.77L217.40 548.86L217.60 548.94L217.80 549.03L218.00 549.11L218.20 549.20L218.40 549.28L218.60 549.36L218.80 549.45L219.00 549.53L219.20 549.62L219.40 549.70L219.60 549.78L219.80 549.87L220.00 549.95L220.20 550.03L220.40 550.12L220.60 550.20L220.80 550.28L221.00 550.37L221.20 550.45L221.40 550.53L221.60 550.62L221.80 550.70L222.00 550.79L222.20 550.87L222.40 550.95L222.60 551.04L222.80 551.12L223.00 551.21L223.20 551.29L223.40 551.37L223.60 551.46L223.80 551.54L224.00 551.63L224.20 551.71L224.40 551.80L224.60 551.88L224.80 551.97L225.00 552.05L225.20 552.14L225.40 552.23L225.60 552.31L225.80 552.40L226.00 552.49L226.20 552.57L226.40 552.66L226.60 552.75L226.80 552.84L227.00 552.92L227.20 553.01L227.40 553.10L227.60 553.19L227.80 553.28L228.00 553.37L228.20 553.46L228.40 553.55L228.60 553.64L228.80 553.73L229.00 553.82L229.20 553.91L229.40 554.00L229.60 554.09L229.80 554.18L230.00 554.27L230.20 554.36L230.40 554.45L230.60 554.54L230.80 554.63L231.00 554.72L231.20 554.81L231.40 554.90L231.60 554.99L231.80 555.08L232.00 555.17L232.20 555.26L232.40 555.35L232.60 555.44L232.80 555.53L233.00 555.62L233.20 555.71L233.40 555.79L233.60 555.88L233.80 555.97L234.00 556.05L234.20 556.14L234.40 556.23L234.60 556.31L234.80 556.40L235.00 556.48L235.20 556.56L235.40 556.65L235.60 556.73L235.80 556.81L236.00 556.89L236.20 556.97L236.40 557.05L236.60 557.13L236.80 557.21L237.00 557.29L237.20 557.36L237.40 557.44L237.60 557.51L237.80 557.59L238.00 557.66L238.20 557.73L238.40 557.80L238.60 557.88L238.80 557.95L239.00 558.02L239.20 558.08L239.40 558.15L239.60 558.22L239.80 558.29L240.00 558.35L240.20 558.42L240.40 558.48L240.60 558.54L240.80 558.60L241.00 558.67L241.20 558.73L241.40 558.79L241.60 558.85L241.80 558.91L242.00 558.96L242.20 559.02L242.40 559.08L242.60 559.13L242.80 559.19L243.00 559.24L243.20 559.29L243.40 559.35L243.60 559.40L243.80 559.45L244.00 559.50L244.20 559.55L244.40 559.60L244.60 559.65L244.80 559.69L245.00 559.74L245.20 559.79L245.40 559.83L245.60 559.88L245.80 559.92L246.00 559.97L246.20 560.01L246.40 560.05L246.60 560.09L246.80 560.13L247.00 560.17L247.20 560.21L247.40 560.25L247.60 560.28L247.80 560.32L248.00 560.36L248.20 560.39L248.40 560.42L248.60 560.46L248.80 560.49L249.00 560.52L249.20 560.55L249.40 560.58L249.60 560.60L249.80 560.63L250.00 560.65L250.20 560.68L250.40 560.70L250.60 560.72L250.80 560.74L251.00 560.76L251.20 560.78L251.40 560.80L251.60 560.82L251.80 560.83L252.00 560.84L252.20 560.86L252.40 560.87L252.60 560.88L252.80 560.88L253.00 560.89L253.20 560.90L253.40 560.90L253.60 560.90L253.80 560.90L254.00 560.90L254.20 560.90L254.40 560.90L254.60 560.89L254.80 560.89L255.00 560.88L255.20 560.87L255.40 560.86L255.60 560.85L255.80 560.83L256.00 560.82L256.20 560.80L256.40 560.78L256.60 560.77L256.80 560.75L257.00 560.72L257.20 560.70L257.40 560.68L257.60 560.65L257.80 560.63L258.00 560.60L258.20 560.57L258.40 560.54L258.60 560.51L258.80 560.48L259.00 560.45L259.20 560.41L259.40 560.38L259.60 560.34L259.80 560.31L260.00 560.27L261.00 560.06L262.00 559.83L263.00 559.58L264.00 559.30L265.00 559.01L266.00 558.69L267.00 558.35L268.00 557.99L269.00 557.62L270.00 557.23L271.00 556.83L272.00 556.41L273.00 555.98L274.00 555.53L275.00 555.08L276.00 554.62L277.00 554.15L278.00 553.67L279.00 553.18L280.00 552.69L281.00 552.19L282.00 551.69L283.00 551.18L284.00 550.66L285.00 550.13L286.00 549.61L287.00 549.07L288.00 548.53L289.00 547.99L290.00 547.44L291.00 546.89L292.00 546.33L293.00 545.77L294.00 545.20L295.00 544.63L296.00 544.06L297.00 543.49L298.00 542.91L299.00 542.33L300.00 541.74L301.00 541.16L302.00 540.57L303.00 539.98L304.00 539.39L305.00 538.81L306.00 538.22L307.00 537.64L308.00 537.06L309.00 536.48L310.00 535.91L311.00 535.34L312.00 534.77L313.00 534.21L314.00 533.66L315.00 533.12L316.00 532.58L317.00 532.05L318.00 531.53L319.00 531.02L320.00 530.52L321.00 530.03L322.00 529.55L323.00 529.08L324.00 528.63L325.00 528.19L326.00 527.76L327.00 527.35L328.00 526.95L329.00 526.56L330.00 526.19L331.00 525.84L332.00 525.50L333.00 525.17L334.00 524.86L335.00 524.56L336.00 524.28L337.00 524.02L338.00 523.77L339.00 523.54L340.00 523.32L341.00 523.11L342.00 522.93L343.00 522.76L344.00 522.60L345.00 522.47L346.00 522.35L347.00 522.24L348.00 522.15L349.00 522.08L350.00 522.03L351.00 521.99L352.00 521.98L353.00 521.97L354.00 521.99L355.00 522.03L356.00 522.08L357.00 522.16L358.00 522.25L359.00 522.37L360.00 522.50L361.00 522.66L362.00 522.84L363.00 523.04L364.00 523.26L365.00 523.51L366.00 523.78L367.00 524.07L368.00 524.39L369.00 524.73L370.00 525.10L371.00 525.49L372.00 525.91L373.00 526.36L374.00 526.83L375.00 527.33L376.00 527.86L377.00 528.40L378.00 528.96L379.00 529.55L380.00 530.14L381.00 530.75L382.00 531.38L383.00 532.01L384.00 532.65L385.00 533.30L386.00 533.95L387.00 534.60L388.00 535.26L389.00 535.91L390.00 536.55L391.00 537.19L392.00 537.83L393.00 538.46L394.00 539.08L395.00 539.70L396.00 540.31L397.00 540.91L398.00 541.51L399.00 542.09L400.00 542.67L401.00 543.24L402.00 543.79L403.00 544.34L404.00 544.88L405.00 545.40L406.00 545.91L407.00 546.41L408.00 546.90L409.00 547.37L410.00 547.83L411.00 548.28L412.00 548.71L413.00 549.13L414.00 549.53L415.00 549.92L416.00 550.29L417.00 550.65L418.00 550.98L419.00 551.30L420.00 551.61L421.00 551.89L422.00 552.16L423.00 552.40L424.00 552.63L425.00 552.84L426.00 553.03L427.00 553.20L428.00 553.35L429.00 553.48L430.00 553.58L431.00 553.67L432.00 553.73L433.00 553.77L434.00 553.78L435.00 553.78L436.00 553.75L437.00 553.70L438.00 553.64L439.00 553.55L440.00 553.45L441.00 553.32L442.00 553.18L443.00 553.02L444.00 552.85L445.00 552.66L446.00 552.45L447.00 552.23L448.00 552.00L449.00 551.75L450.00 551.49L451.00 551.21L452.00 550.93L453.00 550.63L454.00 550.32L455.00 550.00L456.00 549.67L457.00 549.33L458.00 548.98L459.00 548.63L460.00 548.26L461.00 547.89L462.00 547.50L463.00 547.12L464.00 546.72L465.00 546.32L466.00 545.91L467.00 545.50L468.00 545.08L469.00 544.66L470.00 544.24L471.00 543.81L472.00 543.37L473.00 542.93L474.00 542.49L475.00 542.05L476.00 541.60L477.00 541.15L478.00 540.70L479.00 540.25L480.00 539.79L481.00 539.34L482.00 538.88L483.00 538.42L484.00 537.96L485.00 537.50L486.00 537.03L487.00 536.57L488.00 536.10L489.00 535.64L490.00 535.17L491.00 534.70L492.00 534.24L493.00 533.78L494.00 533.31L495.00 532.85L496.00 532.40L497.00 531.94L498.00 531.49L499.00 531.05L500.00 530.60L501.00 530.17L502.00 529.74L503.00 529.32L504.00 528.90L505.00 528.49L506.00 528.09L507.00 527.70L508.00 527.32L509.00 526.95L510.00 526.60L511.00 526.25L512.00 525.92L513.00 525.60L514.00 525.29L515.00 525.00L516.00 524.72L517.00 524.46L518.00 524.21L519.00 523.97L520.00 523.75L521.00 523.55L522.00 523.36L523.00 523.19L524.00 523.03L525.00 522.89L526.00 522.76L527.00 522.66L528.00 522.57L529.00 522.50L530.00 522.45L531.00 522.41L532.00 522.40L533.00 522.40L534.00 522.43L535.00 522.47L536.00 522.54L537.00 522.62L538.00 522.72L539.00 522.84L540.00 522.99L541.00 523.15L542.00 523.33L543.00 523.53L544.00 523.75L545.00 523.99L546.00 524.25L547.00 524.53L548.00 524.83L549.00 525.15L550.00 525.48L551.00 525.84L552.00 526.21L553.00 526.60L554.00 527.00L555.00 527.42L556.00 527.86L557.00 528.31L558.00 528.78L559.00 529.26L560.00 529.75L561.00 530.26L562.00 530.78L563.00 531.31L564.00 531.85L565.00 532.40L566.00 532.96L567.00 533.52L568.00 534.10L569.00 534.68L570.00 535.27L571.00 535.86L572.00 536.45L573.00 537.05L574.00 537.65L575.00 538.25L576.00 538.85L577.00 539.45L578.00 540.05L579.00 540.65L580.00 541.24L581.00 541.83L582.00 542.41L583.00 542.99L584.00 543.56L585.00 544.12L586.00 544.68L587.00 545.22L588.00 545.76L589.00 546.28L590.00 546.79L591.00 547.29L592.00 547.78L593.00 548.26L594.00 548.72L595.00 549.16L596.00 549.59L597.00 550.00L598.00 550.40L599.00 550.78L600.00 551.14L601.00 551.49L602.00 551.81L603.00 552.12L604.00 552.41L605.00 552.68L606.00 552.93L607.00 553.16L608.00 553.37L609.00 553.56L610.00 553.74L611.00 553.89L612.00 554.02L613.00 554.13L614.00 554.23L615.00 554.30L616.00 554.35L617.00 554.39L618.00 554.40L619.00 554.39L620.00 554.37L621.00 554.33L622.00 554.27L623.00 554.19L624.00 554.09L625.00 553.98L626.00 553.84L627.00 553.69L628.00 553.53L629.00 553.35L630.00 553.15L631.00 552.94L632.00 552.71L633.00 552.47L634.00 552.21L635.00 551.94L636.00 551.66L637.00 551.37L638.00 551.06L639.00 550.74L640.00 550.41L641.00 550.07L642.00 549.71L643.00 549.35L644.00 548.98L645.00 548.60L646.00 548.21L647.00 547.81L648.00 547.41L649.00 546.99L650.00 546.57L651.00 546.15L652.00 545.72L653.00 545.28L654.00 544.83L655.00 544.39L656.00 543.93L657.00 543.48L658.00 543.02L659.00 542.55L660.00 542.08L661.00 541.61L662.00 541.14L663.00 540.67L664.00 540.19L665.00 539.72L666.00 539.24L667.00 538.76L668.00 538.28L669.00 537.80L670.00 537.32L671.00 536.85L672.00 536.37L673.00 535.89L674.00 535.42L675.00 534.95L676.00 534.48L677.00 534.02L678.00 533.55L679.00 533.09L680.00 532.64L681.00 532.19L682.00 531.74L683.00 531.30L684.00 530.87L685.00 530.44L686.00 530.01L687.00 529.60L688.00 529.19L689.00 528.79L690.00 528.39L691.00 528.01L692.00 527.63L693.00 527.27L694.00 526.91L695.00 526.56L696.00 526.23L697.00 525.90L698.00 525.59L699.00 525.29L700.00 525.00L701.00 524.72L702.00 524.46L703.00 524.21L704.00 523.97L705.00 523.75L706.00 523.55L707.00 523.36L708.00 523.19L709.00 523.03L710.00 522.89L711.00 522.76L712.00 522.66L713.00 522.57L714.00 522.50L715.00 522.45L716.00 522.41L717.00 522.40L718.00 522.40L719.00 522.43L720.00 522.47L721.00 522.54L722.00 522.62L723.00 522.72L724.00 522.84L725.00 522.99L726.00 523.15L727.00 523.33L728.00 523.53L729.00 523.75L730.00 523.99L731.00 524.25L732.00 524.53L733.00 524.83L734.00 525.15L735.00 525.48L736.00 525.84L737.00 526.21L738.00 526.60L739.00 527.00L740.00 527.42L741.00 527.86L742.00 528.31L743.00 528.78L744.00 529.26L745.00 529.75L746.00 530.26L747.00 530.78L748.00 531.31L749.00 531.85L750.00 532.40L751.00 532.96L752.00 533.52L753.00 534.10L754.00 534.68L755.00 535.27L756.00 535.86L757.00 536.45L758.00 537.05L759.00 537.65L760.00 538.25L761.00 538.85L762.00 539.45L763.00 540.05L764.00 540.65L765.00 541.24L766.00 541.83L767.00 542.41L768.00 542.99L769.00 543.56L770.00 544.12L771.00 544.68L772.00 545.22L773.00 545.76L774.00 546.28L775.00 546.79L776.00 547.29L777.00 547.78L778.00 548.26L779.00 548.72L780.00 549.16L781.00 549.59L782.00 550.00L783.00 550.40L784.00 550.78L785.00 551.14L786.00 551.49L787.00 551.81L788.00 552.12L789.00 552.41L790.00 552.68L791.00 552.93L792.00 553.16L793.00 553.37L794.00 553.56L795.00 553.74L796.00 553.89L797.00 554.02L798.00 554.13L799.00 554.23L800.00 554.30L801.00 554.35L802.00 554.39L803.00 554.40L804.00 554.39L805.00 554.37L806.00 554.33L807.00 554.27L808.00 554.19L809.00 554.09L810.00 553.98L811.00 553.84L812.00 553.69L813.00 553.53L814.00 553.35L815.00 553.15L816.00 552.94L817.00 552.71L818.00 552.47L819.00 552.21L820.00 551.94L821.00 551.66L822.00 551.37L823.00 551.06L824.00 550.74L825.00 550.41L826.00 550.07L827.00 549.71L828.00 549.35L829.00 548.98L830.00 548.60L831.00 548.21L832.00 547.81L833.00 547.41L834.00 546.99L835.00 546.57L836.00 546.15L837.00 545.72L838.00 545.28L839.00 544.83L840.00 544.39L841.00 543.93L842.00 543.48L843.00 543.02L844.00 542.55L845.00 542.08L846.00 541.61L847.00 541.14L848.00 540.67L849.00 540.19L850.00 539.72L851.00 539.24L852.00 538.76L853.00 538.28L854.00 537.80L855.00 537.32L856.00 536.85L857.00 536.37L858.00 535.89L859.00 535.42L860.00 534.95L861.00 534.48L862.00 534.02L863.00 533.55L864.00 533.09L865.00 532.64L866.00 532.19L867.00 531.74L868.00 531.30L869.00 530.87L870.00 530.44L871.00 530.01L872.00 529.60L873.00 529.19L874.00 528.79L875.00 528.39L876.00 528.01L877.00 527.63L878.00 527.27L879.00 526.91L880.00 526.56L881.00 526.23L882.00 525.90L883.00 525.59L884.00 525.29L885.00 525.00L886.00 524.72L887.00 524.46L888.00 524.21L889.00 523.97L890.00 523.75L891.00 523.55L892.00 523.36L893.00 523.19L894.00 523.03L895.00 522.89L896.00 522.76L897.00 522.66L898.00 522.57L899.00 522.50L900.00 522.45L901.00 522.41L902.00 522.40L903.00 522.40L904.00 522.43L905.00 522.47L906.00 522.54L907.00 522.62L908.00 522.72L909.00 522.84L910.00 522.99L911.00 523.15L912.00 523.33L913.00 523.53L914.00 523.75L915.00 523.99L916.00 524.25L917.00 524.53L918.00 524.83L919.00 525.15L920.00 525.48L921.00 525.84L922.00 526.21L923.00 526.60L924.00 527.00L925.00 527.42L926.00 527.86L927.00 528.31L928.00 528.78L929.00 529.26L930.00 529.75L931.00 530.26L932.00 530.78L933.00 531.31L934.00 531.85L935.00 532.40L936.00 532.96L937.00 533.52L938.00 534.10L939.00 534.68L940.00 535.27L941.00 535.86L942.00 536.45L943.00 537.05L944.00 537.65L945.00 538.25L946.00 538.85L947.00 539.45L948.00 540.05L949.00 540.65L950.00 541.24L951.00 541.83L952.00 542.41L953.00 542.99L954.00 543.56L955.00 544.12L956.00 544.68L957.00 545.22L958.00 545.76L959.00 546.28L960.00 546.79L961.00 547.29L962.00 547.78L963.00 548.26L964.00 548.72L965.00 549.16L966.00 549.59L967.00 550.00L968.00 550.40L969.00 550.78L970.00 551.14L971.00 551.49L972.00 551.81L973.00 552.12L974.00 552.41L975.00 552.68L976.00 552.93L977.00 553.16L978.00 553.37L979.00 553.56L980.00 553.74L981.00 553.89L982.00 554.02L983.00 554.13L983.50 554.18"/>
</g>
<text x="100.00" y="770.2" text-anchor="middle">0</text>
<text x="247.25" y="770.2" text-anchor="middle">5</text>
<text x="395.50" y="770.2" text-anchor="middle">10</text>
<text x="542.75" y="770.2" text-anchor="middle">15</text>
<text x="689.00" y="770.2" text-anchor="middle">20</text>
<text x="836.25" y="770.2" text-anchor="middle">25</text>
<text x="983.50" y="770.2" text-anchor="middle">30</text>
<text x="91.7" y="50.80" text-anchor="end">1</text>
<text x="91.7" y="150.30" text-anchor="end">0.8</text>
<text x="91.7" y="249.80" text-anchor="end">0.6</text>
<text x="91.7" y="349.30" text-anchor="end">0.4</text>
<text x="91.7" y="448.80" text-anchor="end">0.2</text>
<text x="91.7" y="548.30" text-anchor="end">0</text>
<text x="91.7" y="647.80" text-anchor="end">−0.2</text>
<text x="91.7" y="747.30" text-anchor="end">−0.4</text>
<text x="542.5" y="19.5" text-anchor="middle">Time−delay=0.3763</text>
<text x="542.2" y="802.6" text-anchor="middle">Time(s)</text>
<text transform="translate(20.8,389.3) rotate(-90)" text-anchor="middle">State</text>
<text x="403.0" y="270">position state</text>
<text x="426.6" y="471.2">velocity state</text>
<line x1="562.2" y1="276.6" x2="655.1" y2="368.4" stroke="#000" stroke-width="1.4"/><polygon points="669.4,382.7 656.3,354.5 655.1,368.4 640.6,369.9" fill="#000"/>
<line x1="582.5" y1="478.2" x2="629.3" y2="526.7" stroke="#000" stroke-width="1.4"/><polygon points="642.8,541.3 630.8,513.4 629.3,526.7 614.7,527.8" fill="#000"/>
</svg>
</body></html>
